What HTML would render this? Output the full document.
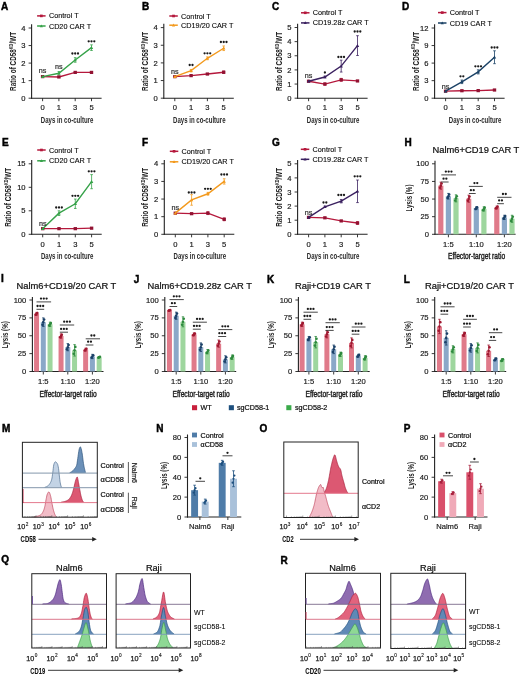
<!DOCTYPE html>
<html><head><meta charset="utf-8"><title>Figure</title>
<style>
html,body{margin:0;padding:0;background:#fff;}
body{width:520px;height:676px;overflow:hidden;font-family:"Liberation Sans", sans-serif;}
svg{display:block;will-change:transform;}
</style></head><body>
<svg width="520" height="676" viewBox="0 0 520 676" font-family='"Liberation Sans", sans-serif'>
<text x="1" y="10.2" font-size="10" stroke="#000" stroke-width="0.45" font-weight="bold" fill="#000">A</text>
<line x1="31.6" y1="24.2" x2="31.6" y2="98.7" stroke="#222" stroke-width="1.1"/>
<line x1="31.1" y1="98.2" x2="101.6" y2="98.2" stroke="#222" stroke-width="1.1"/>
<line x1="28.6" y1="98.2" x2="31.6" y2="98.2" stroke="#222" stroke-width="0.9"/>
<text x="25.5" y="100.8" font-size="7.6" stroke="#1a1a1a" stroke-width="0.18" text-anchor="end" fill="#1a1a1a">0</text>
<line x1="28.6" y1="80.65" x2="31.6" y2="80.65" stroke="#222" stroke-width="0.9"/>
<text x="25.5" y="83.25" font-size="7.6" stroke="#1a1a1a" stroke-width="0.18" text-anchor="end" fill="#1a1a1a">1</text>
<line x1="28.6" y1="63.1" x2="31.6" y2="63.1" stroke="#222" stroke-width="0.9"/>
<text x="25.5" y="65.7" font-size="7.6" stroke="#1a1a1a" stroke-width="0.18" text-anchor="end" fill="#1a1a1a">2</text>
<line x1="28.6" y1="45.55" x2="31.6" y2="45.55" stroke="#222" stroke-width="0.9"/>
<text x="25.5" y="48.15" font-size="7.6" stroke="#1a1a1a" stroke-width="0.18" text-anchor="end" fill="#1a1a1a">3</text>
<line x1="28.6" y1="28" x2="31.6" y2="28" stroke="#222" stroke-width="0.9"/>
<text x="25.5" y="30.6" font-size="7.6" stroke="#1a1a1a" stroke-width="0.18" text-anchor="end" fill="#1a1a1a">4</text>
<line x1="42.6" y1="98.2" x2="42.6" y2="101.2" stroke="#222" stroke-width="0.9"/>
<text x="42.6" y="110.4" font-size="7.6" stroke="#1a1a1a" stroke-width="0.18" text-anchor="middle" fill="#1a1a1a">0</text>
<line x1="58.9" y1="98.2" x2="58.9" y2="101.2" stroke="#222" stroke-width="0.9"/>
<text x="58.9" y="110.4" font-size="7.6" stroke="#1a1a1a" stroke-width="0.18" text-anchor="middle" fill="#1a1a1a">1</text>
<line x1="75.2" y1="98.2" x2="75.2" y2="101.2" stroke="#222" stroke-width="0.9"/>
<text x="75.2" y="110.4" font-size="7.6" stroke="#1a1a1a" stroke-width="0.18" text-anchor="middle" fill="#1a1a1a">3</text>
<line x1="91.5" y1="98.2" x2="91.5" y2="101.2" stroke="#222" stroke-width="0.9"/>
<text x="91.5" y="110.4" font-size="7.6" stroke="#1a1a1a" stroke-width="0.18" text-anchor="middle" fill="#1a1a1a">5</text>
<text x="67.1" y="122.5" font-size="9.4" text-anchor="middle" font-weight="bold" fill="#2a2a2a" textLength="52.5" lengthAdjust="spacingAndGlyphs">Days in co-culture</text>
<text x="0" y="0" font-size="9" font-weight="bold" fill="#222" textLength="59" lengthAdjust="spacingAndGlyphs" transform="translate(15.7 61.4) rotate(-90)" text-anchor="middle">Ratio of CD58<tspan font-size="5.5" dy="-3.2">KD</tspan><tspan dy="3.2">/WT</tspan></text>
<line x1="58.9" y1="75.03" x2="58.9" y2="71.52" stroke="#36a249" stroke-width="0.8"/>
<line x1="57.6" y1="71.52" x2="60.2" y2="71.52" stroke="#36a249" stroke-width="0.8"/>
<line x1="57.6" y1="75.03" x2="60.2" y2="75.03" stroke="#36a249" stroke-width="0.8"/>
<line x1="75.2" y1="62.22" x2="75.2" y2="57.66" stroke="#36a249" stroke-width="0.8"/>
<line x1="73.9" y1="57.66" x2="76.5" y2="57.66" stroke="#36a249" stroke-width="0.8"/>
<line x1="73.9" y1="62.22" x2="76.5" y2="62.22" stroke="#36a249" stroke-width="0.8"/>
<line x1="91.5" y1="50.46" x2="91.5" y2="44.85" stroke="#36a249" stroke-width="0.8"/>
<line x1="90.2" y1="44.85" x2="92.8" y2="44.85" stroke="#36a249" stroke-width="0.8"/>
<line x1="90.2" y1="50.46" x2="92.8" y2="50.46" stroke="#36a249" stroke-width="0.8"/>
<polyline points="42.6,76.61 58.9,76.96 75.2,72.4 91.5,72.4" stroke="#b5183c" fill="none" stroke-width="1.35"/>
<rect x="40.9" y="75.01" width="3.4" height="3.2" fill="#921232"/>
<rect x="57.2" y="75.36" width="3.4" height="3.2" fill="#921232"/>
<rect x="73.5" y="70.8" width="3.4" height="3.2" fill="#921232"/>
<rect x="89.8" y="70.8" width="3.4" height="3.2" fill="#921232"/>
<polyline points="42.6,76.61 58.9,73.28 75.2,59.94 91.5,47.66" stroke="#36a249" fill="none" stroke-width="1.4"/>
<path d="M40.9 77.91L44.3 77.91L42.6 74.91Z" stroke="none" fill="#36a249" stroke-width="1"/>
<path d="M57.2 74.58L60.6 74.58L58.9 71.58Z" stroke="none" fill="#36a249" stroke-width="1"/>
<path d="M73.5 61.24L76.9 61.24L75.2 58.24Z" stroke="none" fill="#36a249" stroke-width="1"/>
<path d="M89.8 48.96L93.2 48.96L91.5 45.96Z" stroke="none" fill="#36a249" stroke-width="1"/>
<text x="42.6" y="73.4" font-size="7.2" stroke="#333" stroke-width="0.22" text-anchor="middle" fill="#333">ns</text>
<text x="58.9" y="68.9" font-size="7.2" stroke="#333" stroke-width="0.22" text-anchor="middle" fill="#333">ns</text>
<circle cx="72.4" cy="53.5" r="1.15" fill="#1a1a1a"/>
<circle cx="75.2" cy="53.5" r="1.15" fill="#1a1a1a"/>
<circle cx="78" cy="53.5" r="1.15" fill="#1a1a1a"/>
<circle cx="88.7" cy="41.3" r="1.15" fill="#1a1a1a"/>
<circle cx="91.5" cy="41.3" r="1.15" fill="#1a1a1a"/>
<circle cx="94.3" cy="41.3" r="1.15" fill="#1a1a1a"/>
<line x1="37.1" y1="15.9" x2="45.6" y2="15.9" stroke="#b5183c" stroke-width="1.5"/>
<rect x="40" y="14.6" width="2.7" height="2.6" fill="#b5183c"/>
<text x="48.9" y="18.4" font-size="7.25" stroke="#222" stroke-width="0.12">Control T</text>
<line x1="37.1" y1="26" x2="45.6" y2="26" stroke="#36a249" stroke-width="1.5"/>
<path d="M39.8 27.2L42.9 27.2L41.35 24.4Z" stroke="none" fill="#36a249" stroke-width="1"/>
<text x="48.9" y="28.5" font-size="7.25" stroke="#222" stroke-width="0.12">CD20 CAR T</text>
<text x="142" y="10.2" font-size="10" stroke="#000" stroke-width="0.45" font-weight="bold" fill="#000">B</text>
<line x1="163.8" y1="23.8" x2="163.8" y2="98.7" stroke="#222" stroke-width="1.1"/>
<line x1="163.3" y1="98.2" x2="233.8" y2="98.2" stroke="#222" stroke-width="1.1"/>
<line x1="160.8" y1="98.2" x2="163.8" y2="98.2" stroke="#222" stroke-width="0.9"/>
<text x="157.7" y="100.8" font-size="7.6" stroke="#1a1a1a" stroke-width="0.18" text-anchor="end" fill="#1a1a1a">0</text>
<line x1="160.8" y1="80.55" x2="163.8" y2="80.55" stroke="#222" stroke-width="0.9"/>
<text x="157.7" y="83.15" font-size="7.6" stroke="#1a1a1a" stroke-width="0.18" text-anchor="end" fill="#1a1a1a">1</text>
<line x1="160.8" y1="62.9" x2="163.8" y2="62.9" stroke="#222" stroke-width="0.9"/>
<text x="157.7" y="65.5" font-size="7.6" stroke="#1a1a1a" stroke-width="0.18" text-anchor="end" fill="#1a1a1a">2</text>
<line x1="160.8" y1="45.25" x2="163.8" y2="45.25" stroke="#222" stroke-width="0.9"/>
<text x="157.7" y="47.85" font-size="7.6" stroke="#1a1a1a" stroke-width="0.18" text-anchor="end" fill="#1a1a1a">3</text>
<line x1="160.8" y1="27.6" x2="163.8" y2="27.6" stroke="#222" stroke-width="0.9"/>
<text x="157.7" y="30.2" font-size="7.6" stroke="#1a1a1a" stroke-width="0.18" text-anchor="end" fill="#1a1a1a">4</text>
<line x1="174.8" y1="98.2" x2="174.8" y2="101.2" stroke="#222" stroke-width="0.9"/>
<text x="174.8" y="110.4" font-size="7.6" stroke="#1a1a1a" stroke-width="0.18" text-anchor="middle" fill="#1a1a1a">0</text>
<line x1="191.1" y1="98.2" x2="191.1" y2="101.2" stroke="#222" stroke-width="0.9"/>
<text x="191.1" y="110.4" font-size="7.6" stroke="#1a1a1a" stroke-width="0.18" text-anchor="middle" fill="#1a1a1a">1</text>
<line x1="207.4" y1="98.2" x2="207.4" y2="101.2" stroke="#222" stroke-width="0.9"/>
<text x="207.4" y="110.4" font-size="7.6" stroke="#1a1a1a" stroke-width="0.18" text-anchor="middle" fill="#1a1a1a">3</text>
<line x1="223.7" y1="98.2" x2="223.7" y2="101.2" stroke="#222" stroke-width="0.9"/>
<text x="223.7" y="110.4" font-size="7.6" stroke="#1a1a1a" stroke-width="0.18" text-anchor="middle" fill="#1a1a1a">5</text>
<text x="199.3" y="122.5" font-size="9.4" text-anchor="middle" font-weight="bold" fill="#2a2a2a" textLength="52.5" lengthAdjust="spacingAndGlyphs">Days in co-culture</text>
<text x="0" y="0" font-size="9" font-weight="bold" fill="#222" textLength="59" lengthAdjust="spacingAndGlyphs" transform="translate(148 61.4) rotate(-90)" text-anchor="middle">Ratio of CD58<tspan font-size="5.5" dy="-3.2">KD</tspan><tspan dy="3.2">/WT</tspan></text>
<line x1="191.1" y1="71.9" x2="191.1" y2="69.43" stroke="#f39a1e" stroke-width="0.8"/>
<line x1="189.8" y1="69.43" x2="192.4" y2="69.43" stroke="#f39a1e" stroke-width="0.8"/>
<line x1="189.8" y1="71.9" x2="192.4" y2="71.9" stroke="#f39a1e" stroke-width="0.8"/>
<line x1="207.4" y1="59.72" x2="207.4" y2="56.9" stroke="#f39a1e" stroke-width="0.8"/>
<line x1="206.1" y1="56.9" x2="208.7" y2="56.9" stroke="#f39a1e" stroke-width="0.8"/>
<line x1="206.1" y1="59.72" x2="208.7" y2="59.72" stroke="#f39a1e" stroke-width="0.8"/>
<line x1="223.7" y1="50.55" x2="223.7" y2="45.96" stroke="#f39a1e" stroke-width="0.8"/>
<line x1="222.4" y1="45.96" x2="225" y2="45.96" stroke="#f39a1e" stroke-width="0.8"/>
<line x1="222.4" y1="50.55" x2="225" y2="50.55" stroke="#f39a1e" stroke-width="0.8"/>
<line x1="223.7" y1="73.49" x2="223.7" y2="71.02" stroke="#b5183c" stroke-width="0.8"/>
<line x1="222.4" y1="71.02" x2="225" y2="71.02" stroke="#b5183c" stroke-width="0.8"/>
<line x1="222.4" y1="73.49" x2="225" y2="73.49" stroke="#b5183c" stroke-width="0.8"/>
<polyline points="174.8,76.67 191.1,75.61 207.4,74.02 223.7,72.25" stroke="#b5183c" fill="none" stroke-width="1.35"/>
<rect x="173.1" y="75.07" width="3.4" height="3.2" fill="#921232"/>
<rect x="189.4" y="74.01" width="3.4" height="3.2" fill="#921232"/>
<rect x="205.7" y="72.42" width="3.4" height="3.2" fill="#921232"/>
<rect x="222" y="70.65" width="3.4" height="3.2" fill="#921232"/>
<polyline points="174.8,76.67 191.1,70.67 207.4,58.31 223.7,48.25" stroke="#f39a1e" fill="none" stroke-width="1.4"/>
<path d="M173.1 77.97L176.5 77.97L174.8 74.97Z" stroke="none" fill="#f39a1e" stroke-width="1"/>
<path d="M189.4 71.97L192.8 71.97L191.1 68.97Z" stroke="none" fill="#f39a1e" stroke-width="1"/>
<path d="M205.7 59.61L209.1 59.61L207.4 56.61Z" stroke="none" fill="#f39a1e" stroke-width="1"/>
<path d="M222 49.55L225.4 49.55L223.7 46.55Z" stroke="none" fill="#f39a1e" stroke-width="1"/>
<text x="174.8" y="73.9" font-size="7.2" stroke="#333" stroke-width="0.22" text-anchor="middle" fill="#333">ns</text>
<circle cx="189.7" cy="65" r="1.15" fill="#1a1a1a"/>
<circle cx="192.5" cy="65" r="1.15" fill="#1a1a1a"/>
<circle cx="204.6" cy="53.3" r="1.15" fill="#1a1a1a"/>
<circle cx="207.4" cy="53.3" r="1.15" fill="#1a1a1a"/>
<circle cx="210.2" cy="53.3" r="1.15" fill="#1a1a1a"/>
<circle cx="220.9" cy="42" r="1.15" fill="#1a1a1a"/>
<circle cx="223.7" cy="42" r="1.15" fill="#1a1a1a"/>
<circle cx="226.5" cy="42" r="1.15" fill="#1a1a1a"/>
<line x1="169.3" y1="16" x2="177.8" y2="16" stroke="#b5183c" stroke-width="1.5"/>
<rect x="172.2" y="14.7" width="2.7" height="2.6" fill="#b5183c"/>
<text x="181.1" y="18.5" font-size="7.25" stroke="#222" stroke-width="0.12">Control T</text>
<line x1="169.3" y1="25.2" x2="177.8" y2="25.2" stroke="#f39a1e" stroke-width="1.5"/>
<path d="M172 26.4L175.1 26.4L173.55 23.6Z" stroke="none" fill="#f39a1e" stroke-width="1"/>
<text x="181.1" y="27.7" font-size="7.25" stroke="#222" stroke-width="0.12">CD19/20 CAR T</text>
<text x="272" y="10.2" font-size="10" stroke="#000" stroke-width="0.45" font-weight="bold" fill="#000">C</text>
<line x1="297.6" y1="23.7" x2="297.6" y2="98.7" stroke="#222" stroke-width="1.1"/>
<line x1="297.1" y1="98.2" x2="367.6" y2="98.2" stroke="#222" stroke-width="1.1"/>
<line x1="294.6" y1="98.2" x2="297.6" y2="98.2" stroke="#222" stroke-width="0.9"/>
<text x="291.5" y="100.8" font-size="7.6" stroke="#1a1a1a" stroke-width="0.18" text-anchor="end" fill="#1a1a1a">0</text>
<line x1="294.6" y1="84.06" x2="297.6" y2="84.06" stroke="#222" stroke-width="0.9"/>
<text x="291.5" y="86.66" font-size="7.6" stroke="#1a1a1a" stroke-width="0.18" text-anchor="end" fill="#1a1a1a">1</text>
<line x1="294.6" y1="69.92" x2="297.6" y2="69.92" stroke="#222" stroke-width="0.9"/>
<text x="291.5" y="72.52" font-size="7.6" stroke="#1a1a1a" stroke-width="0.18" text-anchor="end" fill="#1a1a1a">2</text>
<line x1="294.6" y1="55.78" x2="297.6" y2="55.78" stroke="#222" stroke-width="0.9"/>
<text x="291.5" y="58.38" font-size="7.6" stroke="#1a1a1a" stroke-width="0.18" text-anchor="end" fill="#1a1a1a">3</text>
<line x1="294.6" y1="41.64" x2="297.6" y2="41.64" stroke="#222" stroke-width="0.9"/>
<text x="291.5" y="44.24" font-size="7.6" stroke="#1a1a1a" stroke-width="0.18" text-anchor="end" fill="#1a1a1a">4</text>
<line x1="294.6" y1="27.5" x2="297.6" y2="27.5" stroke="#222" stroke-width="0.9"/>
<text x="291.5" y="30.1" font-size="7.6" stroke="#1a1a1a" stroke-width="0.18" text-anchor="end" fill="#1a1a1a">5</text>
<line x1="308.6" y1="98.2" x2="308.6" y2="101.2" stroke="#222" stroke-width="0.9"/>
<text x="308.6" y="110.4" font-size="7.6" stroke="#1a1a1a" stroke-width="0.18" text-anchor="middle" fill="#1a1a1a">0</text>
<line x1="324.9" y1="98.2" x2="324.9" y2="101.2" stroke="#222" stroke-width="0.9"/>
<text x="324.9" y="110.4" font-size="7.6" stroke="#1a1a1a" stroke-width="0.18" text-anchor="middle" fill="#1a1a1a">1</text>
<line x1="341.2" y1="98.2" x2="341.2" y2="101.2" stroke="#222" stroke-width="0.9"/>
<text x="341.2" y="110.4" font-size="7.6" stroke="#1a1a1a" stroke-width="0.18" text-anchor="middle" fill="#1a1a1a">3</text>
<line x1="357.5" y1="98.2" x2="357.5" y2="101.2" stroke="#222" stroke-width="0.9"/>
<text x="357.5" y="110.4" font-size="7.6" stroke="#1a1a1a" stroke-width="0.18" text-anchor="middle" fill="#1a1a1a">5</text>
<text x="333.1" y="122.5" font-size="9.4" text-anchor="middle" font-weight="bold" fill="#2a2a2a" textLength="52.5" lengthAdjust="spacingAndGlyphs">Days in co-culture</text>
<text x="0" y="0" font-size="9" font-weight="bold" fill="#222" textLength="59" lengthAdjust="spacingAndGlyphs" transform="translate(282 61.4) rotate(-90)" text-anchor="middle">Ratio of CD58<tspan font-size="5.5" dy="-3.2">KD</tspan><tspan dy="3.2">/WT</tspan></text>
<line x1="324.9" y1="77.84" x2="324.9" y2="76.14" stroke="#3b2160" stroke-width="0.8"/>
<line x1="323.6" y1="76.14" x2="326.2" y2="76.14" stroke="#3b2160" stroke-width="0.8"/>
<line x1="323.6" y1="77.84" x2="326.2" y2="77.84" stroke="#3b2160" stroke-width="0.8"/>
<line x1="324.9" y1="85.19" x2="324.9" y2="82.93" stroke="#b5183c" stroke-width="0.8"/>
<line x1="323.6" y1="82.93" x2="326.2" y2="82.93" stroke="#b5183c" stroke-width="0.8"/>
<line x1="323.6" y1="85.19" x2="326.2" y2="85.19" stroke="#b5183c" stroke-width="0.8"/>
<line x1="341.2" y1="72.04" x2="341.2" y2="60.16" stroke="#3b2160" stroke-width="0.8"/>
<line x1="339.9" y1="60.16" x2="342.5" y2="60.16" stroke="#3b2160" stroke-width="0.8"/>
<line x1="339.9" y1="72.04" x2="342.5" y2="72.04" stroke="#3b2160" stroke-width="0.8"/>
<line x1="341.2" y1="81.23" x2="341.2" y2="78.4" stroke="#b5183c" stroke-width="0.8"/>
<line x1="339.9" y1="78.4" x2="342.5" y2="78.4" stroke="#b5183c" stroke-width="0.8"/>
<line x1="339.9" y1="81.23" x2="342.5" y2="81.23" stroke="#b5183c" stroke-width="0.8"/>
<line x1="357.5" y1="55.5" x2="357.5" y2="35.7" stroke="#3b2160" stroke-width="0.8"/>
<line x1="356.2" y1="35.7" x2="358.8" y2="35.7" stroke="#3b2160" stroke-width="0.8"/>
<line x1="356.2" y1="55.5" x2="358.8" y2="55.5" stroke="#3b2160" stroke-width="0.8"/>
<polyline points="308.6,81.23 324.9,84.06 341.2,79.82 357.5,80.95" stroke="#b5183c" fill="none" stroke-width="1.35"/>
<rect x="306.9" y="79.63" width="3.4" height="3.2" fill="#921232"/>
<rect x="323.2" y="82.46" width="3.4" height="3.2" fill="#921232"/>
<rect x="339.5" y="78.22" width="3.4" height="3.2" fill="#921232"/>
<rect x="355.8" y="79.35" width="3.4" height="3.2" fill="#921232"/>
<polyline points="308.6,81.23 324.9,76.99 341.2,66.1 357.5,45.6" stroke="#3b2160" fill="none" stroke-width="1.4"/>
<path d="M306.9 82.53L310.3 82.53L308.6 79.53Z" stroke="none" fill="#3b2160" stroke-width="1"/>
<path d="M323.2 78.29L326.6 78.29L324.9 75.29Z" stroke="none" fill="#3b2160" stroke-width="1"/>
<path d="M339.5 67.4L342.9 67.4L341.2 64.4Z" stroke="none" fill="#3b2160" stroke-width="1"/>
<path d="M355.8 46.9L359.2 46.9L357.5 43.9Z" stroke="none" fill="#3b2160" stroke-width="1"/>
<text x="308.6" y="77.9" font-size="7.2" stroke="#333" stroke-width="0.22" text-anchor="middle" fill="#333">ns</text>
<circle cx="324.9" cy="72.5" r="1.15" fill="#1a1a1a"/>
<circle cx="338.4" cy="57" r="1.15" fill="#1a1a1a"/>
<circle cx="341.2" cy="57" r="1.15" fill="#1a1a1a"/>
<circle cx="344" cy="57" r="1.15" fill="#1a1a1a"/>
<circle cx="354.7" cy="31.5" r="1.15" fill="#1a1a1a"/>
<circle cx="357.5" cy="31.5" r="1.15" fill="#1a1a1a"/>
<circle cx="360.3" cy="31.5" r="1.15" fill="#1a1a1a"/>
<line x1="301" y1="12.8" x2="309.5" y2="12.8" stroke="#b5183c" stroke-width="1.5"/>
<rect x="303.9" y="11.5" width="2.7" height="2.6" fill="#b5183c"/>
<text x="312.8" y="15.3" font-size="7.25" stroke="#222" stroke-width="0.12">Control T</text>
<line x1="301" y1="22.9" x2="309.5" y2="22.9" stroke="#3b2160" stroke-width="1.5"/>
<path d="M303.7 24.1L306.8 24.1L305.25 21.3Z" stroke="none" fill="#3b2160" stroke-width="1"/>
<text x="312.8" y="25.4" font-size="7.25" stroke="#222" stroke-width="0.12">CD19.28z CAR T</text>
<text x="402" y="10.2" font-size="10" stroke="#000" stroke-width="0.45" font-weight="bold" fill="#000">D</text>
<line x1="434.6" y1="24.2" x2="434.6" y2="98.7" stroke="#222" stroke-width="1.1"/>
<line x1="434.1" y1="98.2" x2="504.6" y2="98.2" stroke="#222" stroke-width="1.1"/>
<line x1="431.6" y1="98.2" x2="434.6" y2="98.2" stroke="#222" stroke-width="0.9"/>
<text x="428.5" y="100.8" font-size="7.6" stroke="#1a1a1a" stroke-width="0.18" text-anchor="end" fill="#1a1a1a">0</text>
<line x1="431.6" y1="80.65" x2="434.6" y2="80.65" stroke="#222" stroke-width="0.9"/>
<text x="428.5" y="83.25" font-size="7.6" stroke="#1a1a1a" stroke-width="0.18" text-anchor="end" fill="#1a1a1a">3</text>
<line x1="431.6" y1="63.1" x2="434.6" y2="63.1" stroke="#222" stroke-width="0.9"/>
<text x="428.5" y="65.7" font-size="7.6" stroke="#1a1a1a" stroke-width="0.18" text-anchor="end" fill="#1a1a1a">6</text>
<line x1="431.6" y1="45.55" x2="434.6" y2="45.55" stroke="#222" stroke-width="0.9"/>
<text x="428.5" y="48.15" font-size="7.6" stroke="#1a1a1a" stroke-width="0.18" text-anchor="end" fill="#1a1a1a">9</text>
<line x1="431.6" y1="28" x2="434.6" y2="28" stroke="#222" stroke-width="0.9"/>
<text x="428.5" y="30.6" font-size="7.6" stroke="#1a1a1a" stroke-width="0.18" text-anchor="end" fill="#1a1a1a">12</text>
<line x1="445.6" y1="98.2" x2="445.6" y2="101.2" stroke="#222" stroke-width="0.9"/>
<text x="445.6" y="110.4" font-size="7.6" stroke="#1a1a1a" stroke-width="0.18" text-anchor="middle" fill="#1a1a1a">0</text>
<line x1="461.9" y1="98.2" x2="461.9" y2="101.2" stroke="#222" stroke-width="0.9"/>
<text x="461.9" y="110.4" font-size="7.6" stroke="#1a1a1a" stroke-width="0.18" text-anchor="middle" fill="#1a1a1a">1</text>
<line x1="478.2" y1="98.2" x2="478.2" y2="101.2" stroke="#222" stroke-width="0.9"/>
<text x="478.2" y="110.4" font-size="7.6" stroke="#1a1a1a" stroke-width="0.18" text-anchor="middle" fill="#1a1a1a">3</text>
<line x1="494.5" y1="98.2" x2="494.5" y2="101.2" stroke="#222" stroke-width="0.9"/>
<text x="494.5" y="110.4" font-size="7.6" stroke="#1a1a1a" stroke-width="0.18" text-anchor="middle" fill="#1a1a1a">5</text>
<text x="475.1" y="122.5" font-size="9.4" text-anchor="middle" font-weight="bold" fill="#2a2a2a" textLength="52.5" lengthAdjust="spacingAndGlyphs">Days in co-culture</text>
<text x="0" y="0" font-size="9" font-weight="bold" fill="#222" textLength="59" lengthAdjust="spacingAndGlyphs" transform="translate(418.5 61.4) rotate(-90)" text-anchor="middle">Ratio of CD58<tspan font-size="5.5" dy="-3.2">KD</tspan><tspan dy="3.2">/WT</tspan></text>
<line x1="461.9" y1="83.58" x2="461.9" y2="80.06" stroke="#1b4266" stroke-width="0.8"/>
<line x1="460.6" y1="80.06" x2="463.2" y2="80.06" stroke="#1b4266" stroke-width="0.8"/>
<line x1="460.6" y1="83.58" x2="463.2" y2="83.58" stroke="#1b4266" stroke-width="0.8"/>
<line x1="478.2" y1="73.92" x2="478.2" y2="69.83" stroke="#1b4266" stroke-width="0.8"/>
<line x1="476.9" y1="69.83" x2="479.5" y2="69.83" stroke="#1b4266" stroke-width="0.8"/>
<line x1="476.9" y1="73.92" x2="479.5" y2="73.92" stroke="#1b4266" stroke-width="0.8"/>
<line x1="494.5" y1="63.68" x2="494.5" y2="50.81" stroke="#1b4266" stroke-width="0.8"/>
<line x1="493.2" y1="50.81" x2="495.8" y2="50.81" stroke="#1b4266" stroke-width="0.8"/>
<line x1="493.2" y1="63.68" x2="495.8" y2="63.68" stroke="#1b4266" stroke-width="0.8"/>
<polyline points="445.6,91.18 461.9,90.71 478.2,90.59 494.5,90.01" stroke="#b5183c" fill="none" stroke-width="1.35"/>
<rect x="443.9" y="89.58" width="3.4" height="3.2" fill="#921232"/>
<rect x="460.2" y="89.11" width="3.4" height="3.2" fill="#921232"/>
<rect x="476.5" y="89" width="3.4" height="3.2" fill="#921232"/>
<rect x="492.8" y="88.41" width="3.4" height="3.2" fill="#921232"/>
<polyline points="445.6,91.18 461.9,81.82 478.2,71.88 494.5,57.25" stroke="#1b4266" fill="none" stroke-width="1.4"/>
<path d="M443.9 92.48L447.3 92.48L445.6 89.48Z" stroke="none" fill="#1b4266" stroke-width="1"/>
<path d="M460.2 83.12L463.6 83.12L461.9 80.12Z" stroke="none" fill="#1b4266" stroke-width="1"/>
<path d="M476.5 73.17L479.9 73.17L478.2 70.17Z" stroke="none" fill="#1b4266" stroke-width="1"/>
<path d="M492.8 58.55L496.2 58.55L494.5 55.55Z" stroke="none" fill="#1b4266" stroke-width="1"/>
<text x="445.6" y="88.9" font-size="7.2" stroke="#333" stroke-width="0.22" text-anchor="middle" fill="#333">ns</text>
<circle cx="460.5" cy="76.3" r="1.15" fill="#1a1a1a"/>
<circle cx="463.3" cy="76.3" r="1.15" fill="#1a1a1a"/>
<circle cx="475.4" cy="66.3" r="1.15" fill="#1a1a1a"/>
<circle cx="478.2" cy="66.3" r="1.15" fill="#1a1a1a"/>
<circle cx="481" cy="66.3" r="1.15" fill="#1a1a1a"/>
<circle cx="491.7" cy="47.5" r="1.15" fill="#1a1a1a"/>
<circle cx="494.5" cy="47.5" r="1.15" fill="#1a1a1a"/>
<circle cx="497.3" cy="47.5" r="1.15" fill="#1a1a1a"/>
<line x1="438" y1="12.6" x2="446.5" y2="12.6" stroke="#b5183c" stroke-width="1.5"/>
<rect x="440.9" y="11.3" width="2.7" height="2.6" fill="#b5183c"/>
<text x="449.8" y="15.1" font-size="7.25" stroke="#222" stroke-width="0.12">Control T</text>
<line x1="438" y1="23" x2="446.5" y2="23" stroke="#1b4266" stroke-width="1.5"/>
<path d="M440.7 24.2L443.8 24.2L442.25 21.4Z" stroke="none" fill="#1b4266" stroke-width="1"/>
<text x="449.8" y="25.5" font-size="7.25" stroke="#222" stroke-width="0.12">CD19 CAR T</text>
<text x="2" y="145.7" font-size="10" stroke="#000" stroke-width="0.45" font-weight="bold" fill="#000">E</text>
<line x1="31.7" y1="160" x2="31.7" y2="234.8" stroke="#222" stroke-width="1.1"/>
<line x1="31.2" y1="234.3" x2="101.7" y2="234.3" stroke="#222" stroke-width="1.1"/>
<line x1="28.7" y1="234.3" x2="31.7" y2="234.3" stroke="#222" stroke-width="0.9"/>
<text x="25.6" y="236.9" font-size="7.6" stroke="#1a1a1a" stroke-width="0.18" text-anchor="end" fill="#1a1a1a">0</text>
<line x1="28.7" y1="210.8" x2="31.7" y2="210.8" stroke="#222" stroke-width="0.9"/>
<text x="25.6" y="213.4" font-size="7.6" stroke="#1a1a1a" stroke-width="0.18" text-anchor="end" fill="#1a1a1a">5</text>
<line x1="28.7" y1="187.3" x2="31.7" y2="187.3" stroke="#222" stroke-width="0.9"/>
<text x="25.6" y="189.9" font-size="7.6" stroke="#1a1a1a" stroke-width="0.18" text-anchor="end" fill="#1a1a1a">10</text>
<line x1="28.7" y1="163.8" x2="31.7" y2="163.8" stroke="#222" stroke-width="0.9"/>
<text x="25.6" y="166.4" font-size="7.6" stroke="#1a1a1a" stroke-width="0.18" text-anchor="end" fill="#1a1a1a">15</text>
<line x1="42.7" y1="234.3" x2="42.7" y2="237.3" stroke="#222" stroke-width="0.9"/>
<text x="42.7" y="246.5" font-size="7.6" stroke="#1a1a1a" stroke-width="0.18" text-anchor="middle" fill="#1a1a1a">0</text>
<line x1="59" y1="234.3" x2="59" y2="237.3" stroke="#222" stroke-width="0.9"/>
<text x="59" y="246.5" font-size="7.6" stroke="#1a1a1a" stroke-width="0.18" text-anchor="middle" fill="#1a1a1a">1</text>
<line x1="75.3" y1="234.3" x2="75.3" y2="237.3" stroke="#222" stroke-width="0.9"/>
<text x="75.3" y="246.5" font-size="7.6" stroke="#1a1a1a" stroke-width="0.18" text-anchor="middle" fill="#1a1a1a">3</text>
<line x1="91.6" y1="234.3" x2="91.6" y2="237.3" stroke="#222" stroke-width="0.9"/>
<text x="91.6" y="246.5" font-size="7.6" stroke="#1a1a1a" stroke-width="0.18" text-anchor="middle" fill="#1a1a1a">5</text>
<text x="67.2" y="258.6" font-size="9.4" text-anchor="middle" font-weight="bold" fill="#2a2a2a" textLength="52.5" lengthAdjust="spacingAndGlyphs">Days in co-culture</text>
<text x="0" y="0" font-size="9" font-weight="bold" fill="#222" textLength="59" lengthAdjust="spacingAndGlyphs" transform="translate(11.3 197.3) rotate(-90)" text-anchor="middle">Ratio of CD58<tspan font-size="5.5" dy="-3.2">KD</tspan><tspan dy="3.2">/WT</tspan></text>
<line x1="59" y1="215.5" x2="59" y2="210.8" stroke="#36a249" stroke-width="0.8"/>
<line x1="57.7" y1="210.8" x2="60.3" y2="210.8" stroke="#36a249" stroke-width="0.8"/>
<line x1="57.7" y1="215.5" x2="60.3" y2="215.5" stroke="#36a249" stroke-width="0.8"/>
<line x1="75.3" y1="208.45" x2="75.3" y2="199.05" stroke="#36a249" stroke-width="0.8"/>
<line x1="74" y1="199.05" x2="76.6" y2="199.05" stroke="#36a249" stroke-width="0.8"/>
<line x1="74" y1="208.45" x2="76.6" y2="208.45" stroke="#36a249" stroke-width="0.8"/>
<line x1="91.6" y1="188.71" x2="91.6" y2="174.61" stroke="#36a249" stroke-width="0.8"/>
<line x1="90.3" y1="174.61" x2="92.9" y2="174.61" stroke="#36a249" stroke-width="0.8"/>
<line x1="90.3" y1="188.71" x2="92.9" y2="188.71" stroke="#36a249" stroke-width="0.8"/>
<polyline points="42.7,228.66 59,228.66 75.3,228.66 91.6,228.19" stroke="#b5183c" fill="none" stroke-width="1.35"/>
<rect x="41" y="227.06" width="3.4" height="3.2" fill="#921232"/>
<rect x="57.3" y="227.06" width="3.4" height="3.2" fill="#921232"/>
<rect x="73.6" y="227.06" width="3.4" height="3.2" fill="#921232"/>
<rect x="89.9" y="226.59" width="3.4" height="3.2" fill="#921232"/>
<polyline points="42.7,228.66 59,213.15 75.3,203.75 91.6,181.66" stroke="#36a249" fill="none" stroke-width="1.4"/>
<path d="M41 229.96L44.4 229.96L42.7 226.96Z" stroke="none" fill="#36a249" stroke-width="1"/>
<path d="M57.3 214.45L60.7 214.45L59 211.45Z" stroke="none" fill="#36a249" stroke-width="1"/>
<path d="M73.6 205.05L77 205.05L75.3 202.05Z" stroke="none" fill="#36a249" stroke-width="1"/>
<path d="M89.9 182.96L93.3 182.96L91.6 179.96Z" stroke="none" fill="#36a249" stroke-width="1"/>
<text x="42.7" y="226.4" font-size="7.2" stroke="#333" stroke-width="0.22" text-anchor="middle" fill="#333">ns</text>
<circle cx="56.2" cy="207.5" r="1.15" fill="#1a1a1a"/>
<circle cx="59" cy="207.5" r="1.15" fill="#1a1a1a"/>
<circle cx="61.8" cy="207.5" r="1.15" fill="#1a1a1a"/>
<circle cx="72.5" cy="195.8" r="1.15" fill="#1a1a1a"/>
<circle cx="75.3" cy="195.8" r="1.15" fill="#1a1a1a"/>
<circle cx="78.1" cy="195.8" r="1.15" fill="#1a1a1a"/>
<circle cx="88.8" cy="171.3" r="1.15" fill="#1a1a1a"/>
<circle cx="91.6" cy="171.3" r="1.15" fill="#1a1a1a"/>
<circle cx="94.4" cy="171.3" r="1.15" fill="#1a1a1a"/>
<line x1="37.2" y1="150" x2="45.7" y2="150" stroke="#b5183c" stroke-width="1.5"/>
<rect x="40.1" y="148.7" width="2.7" height="2.6" fill="#b5183c"/>
<text x="49" y="152.5" font-size="7.25" stroke="#222" stroke-width="0.12">Control T</text>
<line x1="37.2" y1="160.8" x2="45.7" y2="160.8" stroke="#36a249" stroke-width="1.5"/>
<path d="M39.9 162L43 162L41.45 159.2Z" stroke="none" fill="#36a249" stroke-width="1"/>
<text x="49" y="163.3" font-size="7.25" stroke="#222" stroke-width="0.12">CD20 CAR T</text>
<text x="142" y="145.7" font-size="10" stroke="#000" stroke-width="0.45" font-weight="bold" fill="#000">F</text>
<line x1="164.3" y1="160" x2="164.3" y2="234.8" stroke="#222" stroke-width="1.1"/>
<line x1="163.8" y1="234.3" x2="234.3" y2="234.3" stroke="#222" stroke-width="1.1"/>
<line x1="161.3" y1="234.3" x2="164.3" y2="234.3" stroke="#222" stroke-width="0.9"/>
<text x="158.2" y="236.9" font-size="7.6" stroke="#1a1a1a" stroke-width="0.18" text-anchor="end" fill="#1a1a1a">0</text>
<line x1="161.3" y1="216.68" x2="164.3" y2="216.68" stroke="#222" stroke-width="0.9"/>
<text x="158.2" y="219.28" font-size="7.6" stroke="#1a1a1a" stroke-width="0.18" text-anchor="end" fill="#1a1a1a">1</text>
<line x1="161.3" y1="199.05" x2="164.3" y2="199.05" stroke="#222" stroke-width="0.9"/>
<text x="158.2" y="201.65" font-size="7.6" stroke="#1a1a1a" stroke-width="0.18" text-anchor="end" fill="#1a1a1a">2</text>
<line x1="161.3" y1="181.43" x2="164.3" y2="181.43" stroke="#222" stroke-width="0.9"/>
<text x="158.2" y="184.03" font-size="7.6" stroke="#1a1a1a" stroke-width="0.18" text-anchor="end" fill="#1a1a1a">3</text>
<line x1="161.3" y1="163.8" x2="164.3" y2="163.8" stroke="#222" stroke-width="0.9"/>
<text x="158.2" y="166.4" font-size="7.6" stroke="#1a1a1a" stroke-width="0.18" text-anchor="end" fill="#1a1a1a">4</text>
<line x1="175.3" y1="234.3" x2="175.3" y2="237.3" stroke="#222" stroke-width="0.9"/>
<text x="175.3" y="246.5" font-size="7.6" stroke="#1a1a1a" stroke-width="0.18" text-anchor="middle" fill="#1a1a1a">0</text>
<line x1="191.6" y1="234.3" x2="191.6" y2="237.3" stroke="#222" stroke-width="0.9"/>
<text x="191.6" y="246.5" font-size="7.6" stroke="#1a1a1a" stroke-width="0.18" text-anchor="middle" fill="#1a1a1a">1</text>
<line x1="207.9" y1="234.3" x2="207.9" y2="237.3" stroke="#222" stroke-width="0.9"/>
<text x="207.9" y="246.5" font-size="7.6" stroke="#1a1a1a" stroke-width="0.18" text-anchor="middle" fill="#1a1a1a">3</text>
<line x1="224.2" y1="234.3" x2="224.2" y2="237.3" stroke="#222" stroke-width="0.9"/>
<text x="224.2" y="246.5" font-size="7.6" stroke="#1a1a1a" stroke-width="0.18" text-anchor="middle" fill="#1a1a1a">5</text>
<text x="199.8" y="258.6" font-size="9.4" text-anchor="middle" font-weight="bold" fill="#2a2a2a" textLength="52.5" lengthAdjust="spacingAndGlyphs">Days in co-culture</text>
<text x="0" y="0" font-size="9" font-weight="bold" fill="#222" textLength="59" lengthAdjust="spacingAndGlyphs" transform="translate(148 197.3) rotate(-90)" text-anchor="middle">Ratio of CD58<tspan font-size="5.5" dy="-3.2">KD</tspan><tspan dy="3.2">/WT</tspan></text>
<line x1="191.6" y1="205.22" x2="191.6" y2="194.64" stroke="#f39a1e" stroke-width="0.8"/>
<line x1="190.3" y1="194.64" x2="192.9" y2="194.64" stroke="#f39a1e" stroke-width="0.8"/>
<line x1="190.3" y1="205.22" x2="192.9" y2="205.22" stroke="#f39a1e" stroke-width="0.8"/>
<line x1="207.9" y1="195.17" x2="207.9" y2="192.35" stroke="#f39a1e" stroke-width="0.8"/>
<line x1="206.6" y1="192.35" x2="209.2" y2="192.35" stroke="#f39a1e" stroke-width="0.8"/>
<line x1="206.6" y1="195.17" x2="209.2" y2="195.17" stroke="#f39a1e" stroke-width="0.8"/>
<line x1="207.9" y1="214.56" x2="207.9" y2="211.74" stroke="#b5183c" stroke-width="0.8"/>
<line x1="206.6" y1="211.74" x2="209.2" y2="211.74" stroke="#b5183c" stroke-width="0.8"/>
<line x1="206.6" y1="214.56" x2="209.2" y2="214.56" stroke="#b5183c" stroke-width="0.8"/>
<line x1="224.2" y1="184.07" x2="224.2" y2="178.78" stroke="#f39a1e" stroke-width="0.8"/>
<line x1="222.9" y1="178.78" x2="225.5" y2="178.78" stroke="#f39a1e" stroke-width="0.8"/>
<line x1="222.9" y1="184.07" x2="225.5" y2="184.07" stroke="#f39a1e" stroke-width="0.8"/>
<line x1="224.2" y1="220.73" x2="224.2" y2="217.91" stroke="#b5183c" stroke-width="0.8"/>
<line x1="222.9" y1="217.91" x2="225.5" y2="217.91" stroke="#b5183c" stroke-width="0.8"/>
<line x1="222.9" y1="220.73" x2="225.5" y2="220.73" stroke="#b5183c" stroke-width="0.8"/>
<polyline points="175.3,213.15 191.6,213.68 207.9,213.15 224.2,219.32" stroke="#b5183c" fill="none" stroke-width="1.35"/>
<rect x="173.6" y="211.55" width="3.4" height="3.2" fill="#921232"/>
<rect x="189.9" y="212.08" width="3.4" height="3.2" fill="#921232"/>
<rect x="206.2" y="211.55" width="3.4" height="3.2" fill="#921232"/>
<rect x="222.5" y="217.72" width="3.4" height="3.2" fill="#921232"/>
<polyline points="175.3,213.15 191.6,199.93 207.9,193.76 224.2,181.43" stroke="#f39a1e" fill="none" stroke-width="1.4"/>
<path d="M173.6 214.45L177 214.45L175.3 211.45Z" stroke="none" fill="#f39a1e" stroke-width="1"/>
<path d="M189.9 201.23L193.3 201.23L191.6 198.23Z" stroke="none" fill="#f39a1e" stroke-width="1"/>
<path d="M206.2 195.06L209.6 195.06L207.9 192.06Z" stroke="none" fill="#f39a1e" stroke-width="1"/>
<path d="M222.5 182.73L225.9 182.73L224.2 179.73Z" stroke="none" fill="#f39a1e" stroke-width="1"/>
<text x="175.3" y="210.4" font-size="7.2" stroke="#333" stroke-width="0.22" text-anchor="middle" fill="#333">ns</text>
<circle cx="188.8" cy="192.5" r="1.15" fill="#1a1a1a"/>
<circle cx="191.6" cy="192.5" r="1.15" fill="#1a1a1a"/>
<circle cx="194.4" cy="192.5" r="1.15" fill="#1a1a1a"/>
<circle cx="205.1" cy="188.8" r="1.15" fill="#1a1a1a"/>
<circle cx="207.9" cy="188.8" r="1.15" fill="#1a1a1a"/>
<circle cx="210.7" cy="188.8" r="1.15" fill="#1a1a1a"/>
<circle cx="221.4" cy="174.5" r="1.15" fill="#1a1a1a"/>
<circle cx="224.2" cy="174.5" r="1.15" fill="#1a1a1a"/>
<circle cx="227" cy="174.5" r="1.15" fill="#1a1a1a"/>
<line x1="169.8" y1="151.3" x2="178.3" y2="151.3" stroke="#b5183c" stroke-width="1.5"/>
<rect x="172.7" y="150" width="2.7" height="2.6" fill="#b5183c"/>
<text x="181.6" y="153.8" font-size="7.25" stroke="#222" stroke-width="0.12">Control T</text>
<line x1="169.8" y1="161.8" x2="178.3" y2="161.8" stroke="#f39a1e" stroke-width="1.5"/>
<path d="M172.5 163L175.6 163L174.05 160.2Z" stroke="none" fill="#f39a1e" stroke-width="1"/>
<text x="181.6" y="164.3" font-size="7.25" stroke="#222" stroke-width="0.12">CD19/20 CAR T</text>
<text x="272" y="145.7" font-size="10" stroke="#000" stroke-width="0.45" font-weight="bold" fill="#000">G</text>
<line x1="297.6" y1="160" x2="297.6" y2="234.8" stroke="#222" stroke-width="1.1"/>
<line x1="297.1" y1="234.3" x2="367.6" y2="234.3" stroke="#222" stroke-width="1.1"/>
<line x1="294.6" y1="234.3" x2="297.6" y2="234.3" stroke="#222" stroke-width="0.9"/>
<text x="291.5" y="236.9" font-size="7.6" stroke="#1a1a1a" stroke-width="0.18" text-anchor="end" fill="#1a1a1a">0</text>
<line x1="294.6" y1="220.2" x2="297.6" y2="220.2" stroke="#222" stroke-width="0.9"/>
<text x="291.5" y="222.8" font-size="7.6" stroke="#1a1a1a" stroke-width="0.18" text-anchor="end" fill="#1a1a1a">1</text>
<line x1="294.6" y1="206.1" x2="297.6" y2="206.1" stroke="#222" stroke-width="0.9"/>
<text x="291.5" y="208.7" font-size="7.6" stroke="#1a1a1a" stroke-width="0.18" text-anchor="end" fill="#1a1a1a">2</text>
<line x1="294.6" y1="192" x2="297.6" y2="192" stroke="#222" stroke-width="0.9"/>
<text x="291.5" y="194.6" font-size="7.6" stroke="#1a1a1a" stroke-width="0.18" text-anchor="end" fill="#1a1a1a">3</text>
<line x1="294.6" y1="177.9" x2="297.6" y2="177.9" stroke="#222" stroke-width="0.9"/>
<text x="291.5" y="180.5" font-size="7.6" stroke="#1a1a1a" stroke-width="0.18" text-anchor="end" fill="#1a1a1a">4</text>
<line x1="294.6" y1="163.8" x2="297.6" y2="163.8" stroke="#222" stroke-width="0.9"/>
<text x="291.5" y="166.4" font-size="7.6" stroke="#1a1a1a" stroke-width="0.18" text-anchor="end" fill="#1a1a1a">5</text>
<line x1="308.6" y1="234.3" x2="308.6" y2="237.3" stroke="#222" stroke-width="0.9"/>
<text x="308.6" y="246.5" font-size="7.6" stroke="#1a1a1a" stroke-width="0.18" text-anchor="middle" fill="#1a1a1a">0</text>
<line x1="324.9" y1="234.3" x2="324.9" y2="237.3" stroke="#222" stroke-width="0.9"/>
<text x="324.9" y="246.5" font-size="7.6" stroke="#1a1a1a" stroke-width="0.18" text-anchor="middle" fill="#1a1a1a">1</text>
<line x1="341.2" y1="234.3" x2="341.2" y2="237.3" stroke="#222" stroke-width="0.9"/>
<text x="341.2" y="246.5" font-size="7.6" stroke="#1a1a1a" stroke-width="0.18" text-anchor="middle" fill="#1a1a1a">3</text>
<line x1="357.5" y1="234.3" x2="357.5" y2="237.3" stroke="#222" stroke-width="0.9"/>
<text x="357.5" y="246.5" font-size="7.6" stroke="#1a1a1a" stroke-width="0.18" text-anchor="middle" fill="#1a1a1a">5</text>
<text x="333.1" y="258.6" font-size="9.4" text-anchor="middle" font-weight="bold" fill="#2a2a2a" textLength="52.5" lengthAdjust="spacingAndGlyphs">Days in co-culture</text>
<text x="0" y="0" font-size="9" font-weight="bold" fill="#222" textLength="59" lengthAdjust="spacingAndGlyphs" transform="translate(282 197.3) rotate(-90)" text-anchor="middle">Ratio of CD58<tspan font-size="5.5" dy="-3.2">KD</tspan><tspan dy="3.2">/WT</tspan></text>
<line x1="324.9" y1="207.51" x2="324.9" y2="206.1" stroke="#3b2160" stroke-width="0.8"/>
<line x1="323.6" y1="206.1" x2="326.2" y2="206.1" stroke="#3b2160" stroke-width="0.8"/>
<line x1="323.6" y1="207.51" x2="326.2" y2="207.51" stroke="#3b2160" stroke-width="0.8"/>
<line x1="341.2" y1="202.86" x2="341.2" y2="199.47" stroke="#3b2160" stroke-width="0.8"/>
<line x1="339.9" y1="199.47" x2="342.5" y2="199.47" stroke="#3b2160" stroke-width="0.8"/>
<line x1="339.9" y1="202.86" x2="342.5" y2="202.86" stroke="#3b2160" stroke-width="0.8"/>
<line x1="357.5" y1="202.58" x2="357.5" y2="180.02" stroke="#3b2160" stroke-width="0.8"/>
<line x1="356.2" y1="180.02" x2="358.8" y2="180.02" stroke="#3b2160" stroke-width="0.8"/>
<line x1="356.2" y1="202.58" x2="358.8" y2="202.58" stroke="#3b2160" stroke-width="0.8"/>
<line x1="357.5" y1="224.43" x2="357.5" y2="221.61" stroke="#b5183c" stroke-width="0.8"/>
<line x1="356.2" y1="221.61" x2="358.8" y2="221.61" stroke="#b5183c" stroke-width="0.8"/>
<line x1="356.2" y1="224.43" x2="358.8" y2="224.43" stroke="#b5183c" stroke-width="0.8"/>
<polyline points="308.6,217.38 324.9,217.8 341.2,220.91 357.5,223.02" stroke="#b5183c" fill="none" stroke-width="1.35"/>
<rect x="306.9" y="215.78" width="3.4" height="3.2" fill="#921232"/>
<rect x="323.2" y="216.2" width="3.4" height="3.2" fill="#921232"/>
<rect x="339.5" y="219.31" width="3.4" height="3.2" fill="#921232"/>
<rect x="355.8" y="221.42" width="3.4" height="3.2" fill="#921232"/>
<polyline points="308.6,217.38 324.9,206.81 341.2,201.17 357.5,191.3" stroke="#3b2160" fill="none" stroke-width="1.4"/>
<path d="M306.9 218.68L310.3 218.68L308.6 215.68Z" stroke="none" fill="#3b2160" stroke-width="1"/>
<path d="M323.2 208.11L326.6 208.11L324.9 205.11Z" stroke="none" fill="#3b2160" stroke-width="1"/>
<path d="M339.5 202.47L342.9 202.47L341.2 199.47Z" stroke="none" fill="#3b2160" stroke-width="1"/>
<path d="M355.8 192.6L359.2 192.6L357.5 189.6Z" stroke="none" fill="#3b2160" stroke-width="1"/>
<text x="308.6" y="214.9" font-size="7.2" stroke="#333" stroke-width="0.22" text-anchor="middle" fill="#333">ns</text>
<circle cx="323.5" cy="202.5" r="1.15" fill="#1a1a1a"/>
<circle cx="326.3" cy="202.5" r="1.15" fill="#1a1a1a"/>
<circle cx="338.4" cy="195" r="1.15" fill="#1a1a1a"/>
<circle cx="341.2" cy="195" r="1.15" fill="#1a1a1a"/>
<circle cx="344" cy="195" r="1.15" fill="#1a1a1a"/>
<circle cx="354.7" cy="176.3" r="1.15" fill="#1a1a1a"/>
<circle cx="357.5" cy="176.3" r="1.15" fill="#1a1a1a"/>
<circle cx="360.3" cy="176.3" r="1.15" fill="#1a1a1a"/>
<line x1="300.8" y1="149.3" x2="309.3" y2="149.3" stroke="#b5183c" stroke-width="1.5"/>
<rect x="303.7" y="148" width="2.7" height="2.6" fill="#b5183c"/>
<text x="312.6" y="151.8" font-size="7.25" stroke="#222" stroke-width="0.12">Control T</text>
<line x1="300.8" y1="159.3" x2="309.3" y2="159.3" stroke="#3b2160" stroke-width="1.5"/>
<path d="M303.5 160.5L306.6 160.5L305.05 157.7Z" stroke="none" fill="#3b2160" stroke-width="1"/>
<text x="312.6" y="161.8" font-size="7.25" stroke="#222" stroke-width="0.12">CD19.28z CAR T</text>
<text x="404.5" y="146.2" font-size="10" stroke="#000" stroke-width="0.45" font-weight="bold" fill="#000">H</text>
<line x1="435" y1="160.8" x2="435" y2="234.8" stroke="#222" stroke-width="1.1"/>
<line x1="434.5" y1="234.3" x2="515.6" y2="234.3" stroke="#222" stroke-width="1.1"/>
<line x1="432" y1="234.3" x2="435" y2="234.3" stroke="#222" stroke-width="0.9"/>
<text x="428.9" y="236.9" font-size="7.6" stroke="#1a1a1a" stroke-width="0.18" text-anchor="end" fill="#1a1a1a">0</text>
<line x1="432" y1="216.68" x2="435" y2="216.68" stroke="#222" stroke-width="0.9"/>
<text x="428.9" y="219.28" font-size="7.6" stroke="#1a1a1a" stroke-width="0.18" text-anchor="end" fill="#1a1a1a">25</text>
<line x1="432" y1="199.05" x2="435" y2="199.05" stroke="#222" stroke-width="0.9"/>
<text x="428.9" y="201.65" font-size="7.6" stroke="#1a1a1a" stroke-width="0.18" text-anchor="end" fill="#1a1a1a">50</text>
<line x1="432" y1="181.43" x2="435" y2="181.43" stroke="#222" stroke-width="0.9"/>
<text x="428.9" y="184.03" font-size="7.6" stroke="#1a1a1a" stroke-width="0.18" text-anchor="end" fill="#1a1a1a">75</text>
<line x1="432" y1="163.8" x2="435" y2="163.8" stroke="#222" stroke-width="0.9"/>
<text x="428.9" y="166.4" font-size="7.6" stroke="#1a1a1a" stroke-width="0.18" text-anchor="end" fill="#1a1a1a">100</text>
<line x1="448.4" y1="234.3" x2="448.4" y2="237.3" stroke="#222" stroke-width="0.9"/>
<text x="448.4" y="246.5" font-size="7.6" stroke="#1a1a1a" stroke-width="0.18" text-anchor="middle" fill="#1a1a1a">1:5</text>
<rect x="438.2" y="185.66" width="5.2" height="48.64" fill="#e07a8a"/>
<line x1="440.8" y1="189.18" x2="440.8" y2="182.13" stroke="#a01830" stroke-width="0.8"/>
<line x1="439.6" y1="182.13" x2="442" y2="182.13" stroke="#a01830" stroke-width="0.8"/>
<line x1="439.6" y1="189.18" x2="442" y2="189.18" stroke="#a01830" stroke-width="0.8"/>
<circle cx="440" cy="187.77" r="1.3" fill="#a01830"/>
<circle cx="440.8" cy="185.66" r="1.3" fill="#a01830"/>
<circle cx="441.6" cy="183.54" r="1.3" fill="#a01830"/>
<rect x="445.8" y="196.23" width="5.2" height="38.07" fill="#8aa8c8"/>
<line x1="448.4" y1="199.05" x2="448.4" y2="193.41" stroke="#1a4068" stroke-width="0.8"/>
<line x1="447.2" y1="193.41" x2="449.6" y2="193.41" stroke="#1a4068" stroke-width="0.8"/>
<line x1="447.2" y1="199.05" x2="449.6" y2="199.05" stroke="#1a4068" stroke-width="0.8"/>
<circle cx="447.6" cy="197.92" r="1.3" fill="#1a4068"/>
<circle cx="448.4" cy="196.23" r="1.3" fill="#1a4068"/>
<circle cx="449.2" cy="194.54" r="1.3" fill="#1a4068"/>
<rect x="453.4" y="198.35" width="5.2" height="35.95" fill="#9ed69e"/>
<line x1="456" y1="201.87" x2="456" y2="194.82" stroke="#2e8a3e" stroke-width="0.8"/>
<line x1="454.8" y1="194.82" x2="457.2" y2="194.82" stroke="#2e8a3e" stroke-width="0.8"/>
<line x1="454.8" y1="201.87" x2="457.2" y2="201.87" stroke="#2e8a3e" stroke-width="0.8"/>
<circle cx="455.2" cy="200.46" r="1.3" fill="#2e8a3e"/>
<circle cx="456" cy="198.35" r="1.3" fill="#2e8a3e"/>
<circle cx="456.8" cy="196.23" r="1.3" fill="#2e8a3e"/>
<line x1="476.3" y1="234.3" x2="476.3" y2="237.3" stroke="#222" stroke-width="0.9"/>
<text x="476.3" y="246.5" font-size="7.6" stroke="#1a1a1a" stroke-width="0.18" text-anchor="middle" fill="#1a1a1a">1:10</text>
<rect x="466.1" y="198.7" width="5.2" height="35.6" fill="#e07a8a"/>
<line x1="468.7" y1="202.22" x2="468.7" y2="195.17" stroke="#a01830" stroke-width="0.8"/>
<line x1="467.5" y1="195.17" x2="469.9" y2="195.17" stroke="#a01830" stroke-width="0.8"/>
<line x1="467.5" y1="202.22" x2="469.9" y2="202.22" stroke="#a01830" stroke-width="0.8"/>
<circle cx="467.9" cy="200.81" r="1.3" fill="#a01830"/>
<circle cx="468.7" cy="198.7" r="1.3" fill="#a01830"/>
<circle cx="469.5" cy="196.58" r="1.3" fill="#a01830"/>
<rect x="473.7" y="208.22" width="5.2" height="26.09" fill="#8aa8c8"/>
<line x1="476.3" y1="209.62" x2="476.3" y2="206.81" stroke="#1a4068" stroke-width="0.8"/>
<line x1="475.1" y1="206.81" x2="477.5" y2="206.81" stroke="#1a4068" stroke-width="0.8"/>
<line x1="475.1" y1="209.62" x2="477.5" y2="209.62" stroke="#1a4068" stroke-width="0.8"/>
<circle cx="475.5" cy="209.06" r="1.3" fill="#1a4068"/>
<circle cx="476.3" cy="208.22" r="1.3" fill="#1a4068"/>
<circle cx="477.1" cy="207.37" r="1.3" fill="#1a4068"/>
<rect x="481.3" y="208.92" width="5.2" height="25.38" fill="#9ed69e"/>
<line x1="483.9" y1="211.04" x2="483.9" y2="206.81" stroke="#2e8a3e" stroke-width="0.8"/>
<line x1="482.7" y1="206.81" x2="485.1" y2="206.81" stroke="#2e8a3e" stroke-width="0.8"/>
<line x1="482.7" y1="211.04" x2="485.1" y2="211.04" stroke="#2e8a3e" stroke-width="0.8"/>
<circle cx="483.1" cy="210.19" r="1.3" fill="#2e8a3e"/>
<circle cx="483.9" cy="208.92" r="1.3" fill="#2e8a3e"/>
<circle cx="484.7" cy="207.65" r="1.3" fill="#2e8a3e"/>
<line x1="504.4" y1="234.3" x2="504.4" y2="237.3" stroke="#222" stroke-width="0.9"/>
<text x="504.4" y="246.5" font-size="7.6" stroke="#1a1a1a" stroke-width="0.18" text-anchor="middle" fill="#1a1a1a">1:20</text>
<rect x="494.2" y="207.51" width="5.2" height="26.79" fill="#e07a8a"/>
<line x1="496.8" y1="208.92" x2="496.8" y2="206.1" stroke="#a01830" stroke-width="0.8"/>
<line x1="495.6" y1="206.1" x2="498" y2="206.1" stroke="#a01830" stroke-width="0.8"/>
<line x1="495.6" y1="208.92" x2="498" y2="208.92" stroke="#a01830" stroke-width="0.8"/>
<circle cx="496" cy="208.36" r="1.3" fill="#a01830"/>
<circle cx="496.8" cy="207.51" r="1.3" fill="#a01830"/>
<circle cx="497.6" cy="206.66" r="1.3" fill="#a01830"/>
<rect x="501.8" y="217.38" width="5.2" height="16.92" fill="#8aa8c8"/>
<line x1="504.4" y1="219.5" x2="504.4" y2="215.27" stroke="#1a4068" stroke-width="0.8"/>
<line x1="503.2" y1="215.27" x2="505.6" y2="215.27" stroke="#1a4068" stroke-width="0.8"/>
<line x1="503.2" y1="219.5" x2="505.6" y2="219.5" stroke="#1a4068" stroke-width="0.8"/>
<circle cx="503.6" cy="218.65" r="1.3" fill="#1a4068"/>
<circle cx="504.4" cy="217.38" r="1.3" fill="#1a4068"/>
<circle cx="505.2" cy="216.11" r="1.3" fill="#1a4068"/>
<rect x="509.4" y="218.79" width="5.2" height="15.51" fill="#9ed69e"/>
<line x1="512" y1="222.31" x2="512" y2="215.27" stroke="#2e8a3e" stroke-width="0.8"/>
<line x1="510.8" y1="215.27" x2="513.2" y2="215.27" stroke="#2e8a3e" stroke-width="0.8"/>
<line x1="510.8" y1="222.31" x2="513.2" y2="222.31" stroke="#2e8a3e" stroke-width="0.8"/>
<circle cx="511.2" cy="220.91" r="1.3" fill="#2e8a3e"/>
<circle cx="512" cy="218.79" r="1.3" fill="#2e8a3e"/>
<circle cx="512.8" cy="216.68" r="1.3" fill="#2e8a3e"/>
<line x1="441.3" y1="182" x2="448.6" y2="182" stroke="#333" stroke-width="0.9"/>
<circle cx="443.55" cy="178.7" r="1.15" fill="#1a1a1a"/>
<circle cx="446.35" cy="178.7" r="1.15" fill="#1a1a1a"/>
<line x1="441.3" y1="174.9" x2="456" y2="174.9" stroke="#333" stroke-width="0.9"/>
<circle cx="445.85" cy="171.6" r="1.15" fill="#1a1a1a"/>
<circle cx="448.65" cy="171.6" r="1.15" fill="#1a1a1a"/>
<circle cx="451.45" cy="171.6" r="1.15" fill="#1a1a1a"/>
<line x1="468.9" y1="193.5" x2="475.7" y2="193.5" stroke="#333" stroke-width="0.9"/>
<circle cx="470.9" cy="190.2" r="1.15" fill="#1a1a1a"/>
<circle cx="473.7" cy="190.2" r="1.15" fill="#1a1a1a"/>
<line x1="468.9" y1="186.4" x2="482.8" y2="186.4" stroke="#333" stroke-width="0.9"/>
<circle cx="474.45" cy="183.1" r="1.15" fill="#1a1a1a"/>
<circle cx="477.25" cy="183.1" r="1.15" fill="#1a1a1a"/>
<line x1="497.2" y1="203.7" x2="503.9" y2="203.7" stroke="#333" stroke-width="0.9"/>
<circle cx="499.15" cy="200.4" r="1.15" fill="#1a1a1a"/>
<circle cx="501.95" cy="200.4" r="1.15" fill="#1a1a1a"/>
<line x1="497.2" y1="197.3" x2="511.5" y2="197.3" stroke="#333" stroke-width="0.9"/>
<circle cx="502.95" cy="194" r="1.15" fill="#1a1a1a"/>
<circle cx="505.75" cy="194" r="1.15" fill="#1a1a1a"/>
<text x="476.6" y="259.4" font-size="8.8" stroke="#1a1a1a" stroke-width="0.4" text-anchor="middle" fill="#1a1a1a" textLength="57" lengthAdjust="spacingAndGlyphs">Effector-target ratio</text>
<text x="0" y="0" font-size="9" font-weight="bold" fill="#222" textLength="27" lengthAdjust="spacingAndGlyphs" transform="translate(411.5 198.05) rotate(-90)" text-anchor="middle">Lysis (%)</text>
<text x="432.5" y="152.6" font-size="9.35" stroke="#111" stroke-width="0.22" fill="#111">Nalm6+CD19 CAR T</text>
<text x="0.9" y="281.6" font-size="10" stroke="#000" stroke-width="0.45" font-weight="bold" fill="#000">I</text>
<line x1="32.4" y1="297" x2="32.4" y2="372" stroke="#222" stroke-width="1.1"/>
<line x1="31.9" y1="371.5" x2="103.5" y2="371.5" stroke="#222" stroke-width="1.1"/>
<line x1="29.4" y1="371.5" x2="32.4" y2="371.5" stroke="#222" stroke-width="0.9"/>
<text x="26.3" y="374.1" font-size="7.6" stroke="#1a1a1a" stroke-width="0.18" text-anchor="end" fill="#1a1a1a">0</text>
<line x1="29.4" y1="353.62" x2="32.4" y2="353.62" stroke="#222" stroke-width="0.9"/>
<text x="26.3" y="356.23" font-size="7.6" stroke="#1a1a1a" stroke-width="0.18" text-anchor="end" fill="#1a1a1a">25</text>
<line x1="29.4" y1="335.75" x2="32.4" y2="335.75" stroke="#222" stroke-width="0.9"/>
<text x="26.3" y="338.35" font-size="7.6" stroke="#1a1a1a" stroke-width="0.18" text-anchor="end" fill="#1a1a1a">50</text>
<line x1="29.4" y1="317.88" x2="32.4" y2="317.88" stroke="#222" stroke-width="0.9"/>
<text x="26.3" y="320.48" font-size="7.6" stroke="#1a1a1a" stroke-width="0.18" text-anchor="end" fill="#1a1a1a">75</text>
<line x1="29.4" y1="300" x2="32.4" y2="300" stroke="#222" stroke-width="0.9"/>
<text x="26.3" y="302.6" font-size="7.6" stroke="#1a1a1a" stroke-width="0.18" text-anchor="end" fill="#1a1a1a">100</text>
<line x1="43.3" y1="371.5" x2="43.3" y2="374.5" stroke="#222" stroke-width="0.9"/>
<text x="43.3" y="383.7" font-size="7.6" stroke="#1a1a1a" stroke-width="0.18" text-anchor="middle" fill="#1a1a1a">1:5</text>
<rect x="34.05" y="313.8" width="5" height="57.7" fill="#e07a8a"/>
<line x1="36.55" y1="315.23" x2="36.55" y2="312.37" stroke="#a01830" stroke-width="0.8"/>
<line x1="35.35" y1="312.37" x2="37.75" y2="312.37" stroke="#a01830" stroke-width="0.8"/>
<line x1="35.35" y1="315.23" x2="37.75" y2="315.23" stroke="#a01830" stroke-width="0.8"/>
<circle cx="35.75" cy="314.66" r="1.3" fill="#a01830"/>
<circle cx="36.55" cy="313.8" r="1.3" fill="#a01830"/>
<circle cx="37.35" cy="312.94" r="1.3" fill="#a01830"/>
<rect x="40.8" y="322.17" width="5" height="49.33" fill="#8aa8c8"/>
<line x1="43.3" y1="326.45" x2="43.3" y2="317.88" stroke="#1a4068" stroke-width="0.8"/>
<line x1="42.1" y1="317.88" x2="44.5" y2="317.88" stroke="#1a4068" stroke-width="0.8"/>
<line x1="42.1" y1="326.45" x2="44.5" y2="326.45" stroke="#1a4068" stroke-width="0.8"/>
<circle cx="42.5" cy="324.74" r="1.3" fill="#1a4068"/>
<circle cx="43.3" cy="322.17" r="1.3" fill="#1a4068"/>
<circle cx="44.1" cy="319.59" r="1.3" fill="#1a4068"/>
<rect x="47.55" y="324.31" width="5" height="47.19" fill="#9ed69e"/>
<line x1="50.05" y1="326.45" x2="50.05" y2="322.17" stroke="#2e8a3e" stroke-width="0.8"/>
<line x1="48.85" y1="322.17" x2="51.25" y2="322.17" stroke="#2e8a3e" stroke-width="0.8"/>
<line x1="48.85" y1="326.45" x2="51.25" y2="326.45" stroke="#2e8a3e" stroke-width="0.8"/>
<circle cx="49.25" cy="325.6" r="1.3" fill="#2e8a3e"/>
<circle cx="50.05" cy="324.31" r="1.3" fill="#2e8a3e"/>
<circle cx="50.85" cy="323.02" r="1.3" fill="#2e8a3e"/>
<line x1="67.8" y1="371.5" x2="67.8" y2="374.5" stroke="#222" stroke-width="0.9"/>
<text x="67.8" y="383.7" font-size="7.6" stroke="#1a1a1a" stroke-width="0.18" text-anchor="middle" fill="#1a1a1a">1:10</text>
<rect x="58.55" y="336.04" width="5" height="35.46" fill="#e07a8a"/>
<line x1="61.05" y1="338.18" x2="61.05" y2="333.89" stroke="#a01830" stroke-width="0.8"/>
<line x1="59.85" y1="333.89" x2="62.25" y2="333.89" stroke="#a01830" stroke-width="0.8"/>
<line x1="59.85" y1="338.18" x2="62.25" y2="338.18" stroke="#a01830" stroke-width="0.8"/>
<circle cx="60.25" cy="337.32" r="1.3" fill="#a01830"/>
<circle cx="61.05" cy="336.04" r="1.3" fill="#a01830"/>
<circle cx="61.85" cy="334.75" r="1.3" fill="#a01830"/>
<rect x="65.3" y="347.19" width="5" height="24.31" fill="#8aa8c8"/>
<line x1="67.8" y1="350.76" x2="67.8" y2="343.62" stroke="#1a4068" stroke-width="0.8"/>
<line x1="66.6" y1="343.62" x2="69" y2="343.62" stroke="#1a4068" stroke-width="0.8"/>
<line x1="66.6" y1="350.76" x2="69" y2="350.76" stroke="#1a4068" stroke-width="0.8"/>
<circle cx="67" cy="349.33" r="1.3" fill="#1a4068"/>
<circle cx="67.8" cy="347.19" r="1.3" fill="#1a4068"/>
<circle cx="68.6" cy="345.05" r="1.3" fill="#1a4068"/>
<rect x="72.05" y="350.34" width="5" height="21.16" fill="#9ed69e"/>
<line x1="74.55" y1="356.06" x2="74.55" y2="344.62" stroke="#2e8a3e" stroke-width="0.8"/>
<line x1="73.35" y1="344.62" x2="75.75" y2="344.62" stroke="#2e8a3e" stroke-width="0.8"/>
<line x1="73.35" y1="356.06" x2="75.75" y2="356.06" stroke="#2e8a3e" stroke-width="0.8"/>
<circle cx="73.75" cy="353.77" r="1.3" fill="#2e8a3e"/>
<circle cx="74.55" cy="350.34" r="1.3" fill="#2e8a3e"/>
<circle cx="75.35" cy="346.9" r="1.3" fill="#2e8a3e"/>
<line x1="92.4" y1="371.5" x2="92.4" y2="374.5" stroke="#222" stroke-width="0.9"/>
<text x="92.4" y="383.7" font-size="7.6" stroke="#1a1a1a" stroke-width="0.18" text-anchor="middle" fill="#1a1a1a">1:20</text>
<rect x="83.15" y="349.62" width="5" height="21.88" fill="#e07a8a"/>
<line x1="85.65" y1="351.05" x2="85.65" y2="348.19" stroke="#a01830" stroke-width="0.8"/>
<line x1="84.45" y1="348.19" x2="86.85" y2="348.19" stroke="#a01830" stroke-width="0.8"/>
<line x1="84.45" y1="351.05" x2="86.85" y2="351.05" stroke="#a01830" stroke-width="0.8"/>
<circle cx="84.85" cy="350.48" r="1.3" fill="#a01830"/>
<circle cx="85.65" cy="349.62" r="1.3" fill="#a01830"/>
<circle cx="86.45" cy="348.76" r="1.3" fill="#a01830"/>
<rect x="89.9" y="356.49" width="5" height="15.01" fill="#8aa8c8"/>
<line x1="92.4" y1="358.63" x2="92.4" y2="354.34" stroke="#1a4068" stroke-width="0.8"/>
<line x1="91.2" y1="354.34" x2="93.6" y2="354.34" stroke="#1a4068" stroke-width="0.8"/>
<line x1="91.2" y1="358.63" x2="93.6" y2="358.63" stroke="#1a4068" stroke-width="0.8"/>
<circle cx="91.6" cy="357.77" r="1.3" fill="#1a4068"/>
<circle cx="92.4" cy="356.49" r="1.3" fill="#1a4068"/>
<circle cx="93.2" cy="355.2" r="1.3" fill="#1a4068"/>
<rect x="96.65" y="357.2" width="5" height="14.3" fill="#9ed69e"/>
<line x1="99.15" y1="357.92" x2="99.15" y2="356.49" stroke="#2e8a3e" stroke-width="0.8"/>
<line x1="97.95" y1="356.49" x2="100.35" y2="356.49" stroke="#2e8a3e" stroke-width="0.8"/>
<line x1="97.95" y1="357.92" x2="100.35" y2="357.92" stroke="#2e8a3e" stroke-width="0.8"/>
<circle cx="98.35" cy="357.63" r="1.3" fill="#2e8a3e"/>
<circle cx="99.15" cy="357.2" r="1.3" fill="#2e8a3e"/>
<circle cx="99.95" cy="356.77" r="1.3" fill="#2e8a3e"/>
<line x1="36.5" y1="309.3" x2="44.2" y2="309.3" stroke="#333" stroke-width="0.9"/>
<circle cx="37.55" cy="306" r="1.15" fill="#1a1a1a"/>
<circle cx="40.35" cy="306" r="1.15" fill="#1a1a1a"/>
<circle cx="43.15" cy="306" r="1.15" fill="#1a1a1a"/>
<line x1="36.5" y1="301.9" x2="51.1" y2="301.9" stroke="#333" stroke-width="0.9"/>
<circle cx="41" cy="298.6" r="1.15" fill="#1a1a1a"/>
<circle cx="43.8" cy="298.6" r="1.15" fill="#1a1a1a"/>
<circle cx="46.6" cy="298.6" r="1.15" fill="#1a1a1a"/>
<line x1="59.8" y1="332.2" x2="68" y2="332.2" stroke="#333" stroke-width="0.9"/>
<circle cx="61.1" cy="328.9" r="1.15" fill="#1a1a1a"/>
<circle cx="63.9" cy="328.9" r="1.15" fill="#1a1a1a"/>
<circle cx="66.7" cy="328.9" r="1.15" fill="#1a1a1a"/>
<line x1="59.8" y1="325" x2="74.2" y2="325" stroke="#333" stroke-width="0.9"/>
<circle cx="64.2" cy="321.7" r="1.15" fill="#1a1a1a"/>
<circle cx="67" cy="321.7" r="1.15" fill="#1a1a1a"/>
<circle cx="69.8" cy="321.7" r="1.15" fill="#1a1a1a"/>
<line x1="85.7" y1="345" x2="93.4" y2="345" stroke="#333" stroke-width="0.9"/>
<circle cx="88.15" cy="341.7" r="1.15" fill="#1a1a1a"/>
<circle cx="90.95" cy="341.7" r="1.15" fill="#1a1a1a"/>
<line x1="85.7" y1="338.8" x2="100" y2="338.8" stroke="#333" stroke-width="0.9"/>
<circle cx="91.45" cy="335.5" r="1.15" fill="#1a1a1a"/>
<circle cx="94.25" cy="335.5" r="1.15" fill="#1a1a1a"/>
<text x="68.1" y="396.6" font-size="8.8" stroke="#1a1a1a" stroke-width="0.4" text-anchor="middle" fill="#1a1a1a" textLength="57" lengthAdjust="spacingAndGlyphs">Effector-target ratio</text>
<text x="0" y="0" font-size="9" font-weight="bold" fill="#222" textLength="27" lengthAdjust="spacingAndGlyphs" transform="translate(7.7 334.75) rotate(-90)" text-anchor="middle">Lysis (%)</text>
<text x="16.5" y="289" font-size="9.35" stroke="#111" stroke-width="0.22" fill="#111">Nalm6+CD19/20 CAR T</text>
<text x="133.8" y="282.7" font-size="10" stroke="#000" stroke-width="0.45" font-weight="bold" fill="#000">J</text>
<line x1="164.8" y1="297" x2="164.8" y2="372" stroke="#222" stroke-width="1.1"/>
<line x1="164.3" y1="371.5" x2="236.2" y2="371.5" stroke="#222" stroke-width="1.1"/>
<line x1="161.8" y1="371.5" x2="164.8" y2="371.5" stroke="#222" stroke-width="0.9"/>
<text x="158.7" y="374.1" font-size="7.6" stroke="#1a1a1a" stroke-width="0.18" text-anchor="end" fill="#1a1a1a">0</text>
<line x1="161.8" y1="353.62" x2="164.8" y2="353.62" stroke="#222" stroke-width="0.9"/>
<text x="158.7" y="356.23" font-size="7.6" stroke="#1a1a1a" stroke-width="0.18" text-anchor="end" fill="#1a1a1a">25</text>
<line x1="161.8" y1="335.75" x2="164.8" y2="335.75" stroke="#222" stroke-width="0.9"/>
<text x="158.7" y="338.35" font-size="7.6" stroke="#1a1a1a" stroke-width="0.18" text-anchor="end" fill="#1a1a1a">50</text>
<line x1="161.8" y1="317.88" x2="164.8" y2="317.88" stroke="#222" stroke-width="0.9"/>
<text x="158.7" y="320.48" font-size="7.6" stroke="#1a1a1a" stroke-width="0.18" text-anchor="end" fill="#1a1a1a">75</text>
<line x1="161.8" y1="300" x2="164.8" y2="300" stroke="#222" stroke-width="0.9"/>
<text x="158.7" y="302.6" font-size="7.6" stroke="#1a1a1a" stroke-width="0.18" text-anchor="end" fill="#1a1a1a">100</text>
<line x1="176.2" y1="371.5" x2="176.2" y2="374.5" stroke="#222" stroke-width="0.9"/>
<text x="176.2" y="383.7" font-size="7.6" stroke="#1a1a1a" stroke-width="0.18" text-anchor="middle" fill="#1a1a1a">1:5</text>
<rect x="166.95" y="310.37" width="5" height="61.13" fill="#e07a8a"/>
<line x1="169.45" y1="311.08" x2="169.45" y2="309.65" stroke="#a01830" stroke-width="0.8"/>
<line x1="168.25" y1="309.65" x2="170.65" y2="309.65" stroke="#a01830" stroke-width="0.8"/>
<line x1="168.25" y1="311.08" x2="170.65" y2="311.08" stroke="#a01830" stroke-width="0.8"/>
<circle cx="168.65" cy="310.8" r="1.3" fill="#a01830"/>
<circle cx="169.45" cy="310.37" r="1.3" fill="#a01830"/>
<circle cx="170.25" cy="309.94" r="1.3" fill="#a01830"/>
<rect x="173.7" y="315.73" width="5" height="55.77" fill="#8aa8c8"/>
<line x1="176.2" y1="319.31" x2="176.2" y2="312.15" stroke="#1a4068" stroke-width="0.8"/>
<line x1="175" y1="312.15" x2="177.4" y2="312.15" stroke="#1a4068" stroke-width="0.8"/>
<line x1="175" y1="319.31" x2="177.4" y2="319.31" stroke="#1a4068" stroke-width="0.8"/>
<circle cx="175.4" cy="317.88" r="1.3" fill="#1a4068"/>
<circle cx="176.2" cy="315.73" r="1.3" fill="#1a4068"/>
<circle cx="177" cy="313.58" r="1.3" fill="#1a4068"/>
<rect x="180.45" y="321.81" width="5" height="49.69" fill="#9ed69e"/>
<line x1="182.95" y1="326.81" x2="182.95" y2="316.8" stroke="#2e8a3e" stroke-width="0.8"/>
<line x1="181.75" y1="316.8" x2="184.15" y2="316.8" stroke="#2e8a3e" stroke-width="0.8"/>
<line x1="181.75" y1="326.81" x2="184.15" y2="326.81" stroke="#2e8a3e" stroke-width="0.8"/>
<circle cx="182.15" cy="324.81" r="1.3" fill="#2e8a3e"/>
<circle cx="182.95" cy="321.81" r="1.3" fill="#2e8a3e"/>
<circle cx="183.75" cy="318.8" r="1.3" fill="#2e8a3e"/>
<line x1="200.8" y1="371.5" x2="200.8" y2="374.5" stroke="#222" stroke-width="0.9"/>
<text x="200.8" y="383.7" font-size="7.6" stroke="#1a1a1a" stroke-width="0.18" text-anchor="middle" fill="#1a1a1a">1:10</text>
<rect x="191.55" y="334.32" width="5" height="37.18" fill="#e07a8a"/>
<line x1="194.05" y1="335.75" x2="194.05" y2="332.89" stroke="#a01830" stroke-width="0.8"/>
<line x1="192.85" y1="332.89" x2="195.25" y2="332.89" stroke="#a01830" stroke-width="0.8"/>
<line x1="192.85" y1="335.75" x2="195.25" y2="335.75" stroke="#a01830" stroke-width="0.8"/>
<circle cx="193.25" cy="335.18" r="1.3" fill="#a01830"/>
<circle cx="194.05" cy="334.32" r="1.3" fill="#a01830"/>
<circle cx="194.85" cy="333.46" r="1.3" fill="#a01830"/>
<rect x="198.3" y="347.19" width="5" height="24.31" fill="#8aa8c8"/>
<line x1="200.8" y1="351.48" x2="200.8" y2="342.9" stroke="#1a4068" stroke-width="0.8"/>
<line x1="199.6" y1="342.9" x2="202" y2="342.9" stroke="#1a4068" stroke-width="0.8"/>
<line x1="199.6" y1="351.48" x2="202" y2="351.48" stroke="#1a4068" stroke-width="0.8"/>
<circle cx="200" cy="349.76" r="1.3" fill="#1a4068"/>
<circle cx="200.8" cy="347.19" r="1.3" fill="#1a4068"/>
<circle cx="201.6" cy="344.62" r="1.3" fill="#1a4068"/>
<rect x="205.05" y="351.69" width="5" height="19.81" fill="#9ed69e"/>
<line x1="207.55" y1="353.84" x2="207.55" y2="349.55" stroke="#2e8a3e" stroke-width="0.8"/>
<line x1="206.35" y1="349.55" x2="208.75" y2="349.55" stroke="#2e8a3e" stroke-width="0.8"/>
<line x1="206.35" y1="353.84" x2="208.75" y2="353.84" stroke="#2e8a3e" stroke-width="0.8"/>
<circle cx="206.75" cy="352.98" r="1.3" fill="#2e8a3e"/>
<circle cx="207.55" cy="351.69" r="1.3" fill="#2e8a3e"/>
<circle cx="208.35" cy="350.41" r="1.3" fill="#2e8a3e"/>
<line x1="225.4" y1="371.5" x2="225.4" y2="374.5" stroke="#222" stroke-width="0.9"/>
<text x="225.4" y="383.7" font-size="7.6" stroke="#1a1a1a" stroke-width="0.18" text-anchor="middle" fill="#1a1a1a">1:20</text>
<rect x="216.15" y="343.62" width="5" height="27.88" fill="#e07a8a"/>
<line x1="218.65" y1="347.19" x2="218.65" y2="340.04" stroke="#a01830" stroke-width="0.8"/>
<line x1="217.45" y1="340.04" x2="219.85" y2="340.04" stroke="#a01830" stroke-width="0.8"/>
<line x1="217.45" y1="347.19" x2="219.85" y2="347.19" stroke="#a01830" stroke-width="0.8"/>
<circle cx="217.85" cy="345.76" r="1.3" fill="#a01830"/>
<circle cx="218.65" cy="343.62" r="1.3" fill="#a01830"/>
<circle cx="219.45" cy="341.47" r="1.3" fill="#a01830"/>
<rect x="222.9" y="359.35" width="5" height="12.15" fill="#8aa8c8"/>
<line x1="225.4" y1="362.92" x2="225.4" y2="355.77" stroke="#1a4068" stroke-width="0.8"/>
<line x1="224.2" y1="355.77" x2="226.6" y2="355.77" stroke="#1a4068" stroke-width="0.8"/>
<line x1="224.2" y1="362.92" x2="226.6" y2="362.92" stroke="#1a4068" stroke-width="0.8"/>
<circle cx="224.6" cy="361.49" r="1.3" fill="#1a4068"/>
<circle cx="225.4" cy="359.35" r="1.3" fill="#1a4068"/>
<circle cx="226.2" cy="357.2" r="1.3" fill="#1a4068"/>
<rect x="229.65" y="357.2" width="5" height="14.3" fill="#9ed69e"/>
<line x1="232.15" y1="359.35" x2="232.15" y2="355.06" stroke="#2e8a3e" stroke-width="0.8"/>
<line x1="230.95" y1="355.06" x2="233.35" y2="355.06" stroke="#2e8a3e" stroke-width="0.8"/>
<line x1="230.95" y1="359.35" x2="233.35" y2="359.35" stroke="#2e8a3e" stroke-width="0.8"/>
<circle cx="231.35" cy="358.49" r="1.3" fill="#2e8a3e"/>
<circle cx="232.15" cy="357.2" r="1.3" fill="#2e8a3e"/>
<circle cx="232.95" cy="355.91" r="1.3" fill="#2e8a3e"/>
<line x1="169.5" y1="306.5" x2="177.2" y2="306.5" stroke="#333" stroke-width="0.9"/>
<circle cx="171.95" cy="303.2" r="1.15" fill="#1a1a1a"/>
<circle cx="174.75" cy="303.2" r="1.15" fill="#1a1a1a"/>
<line x1="169.5" y1="299.6" x2="183.8" y2="299.6" stroke="#333" stroke-width="0.9"/>
<circle cx="173.85" cy="296.3" r="1.15" fill="#1a1a1a"/>
<circle cx="176.65" cy="296.3" r="1.15" fill="#1a1a1a"/>
<circle cx="179.45" cy="296.3" r="1.15" fill="#1a1a1a"/>
<line x1="192.8" y1="329.2" x2="200.8" y2="329.2" stroke="#333" stroke-width="0.9"/>
<circle cx="194" cy="325.9" r="1.15" fill="#1a1a1a"/>
<circle cx="196.8" cy="325.9" r="1.15" fill="#1a1a1a"/>
<circle cx="199.6" cy="325.9" r="1.15" fill="#1a1a1a"/>
<line x1="192.8" y1="322.2" x2="206.9" y2="322.2" stroke="#333" stroke-width="0.9"/>
<circle cx="197.05" cy="318.9" r="1.15" fill="#1a1a1a"/>
<circle cx="199.85" cy="318.9" r="1.15" fill="#1a1a1a"/>
<circle cx="202.65" cy="318.9" r="1.15" fill="#1a1a1a"/>
<line x1="218.2" y1="336.5" x2="226.2" y2="336.5" stroke="#333" stroke-width="0.9"/>
<circle cx="219.4" cy="333.2" r="1.15" fill="#1a1a1a"/>
<circle cx="222.2" cy="333.2" r="1.15" fill="#1a1a1a"/>
<circle cx="225" cy="333.2" r="1.15" fill="#1a1a1a"/>
<line x1="218.2" y1="329.6" x2="232.3" y2="329.6" stroke="#333" stroke-width="0.9"/>
<circle cx="222.45" cy="326.3" r="1.15" fill="#1a1a1a"/>
<circle cx="225.25" cy="326.3" r="1.15" fill="#1a1a1a"/>
<circle cx="228.05" cy="326.3" r="1.15" fill="#1a1a1a"/>
<text x="201.1" y="396.6" font-size="8.8" stroke="#1a1a1a" stroke-width="0.4" text-anchor="middle" fill="#1a1a1a" textLength="57" lengthAdjust="spacingAndGlyphs">Effector-target ratio</text>
<text x="0" y="0" font-size="9" font-weight="bold" fill="#222" textLength="27" lengthAdjust="spacingAndGlyphs" transform="translate(140.5 334.75) rotate(-90)" text-anchor="middle">Lysis (%)</text>
<text x="147.5" y="289" font-size="9.35" stroke="#111" stroke-width="0.22" fill="#111">Nalm6+CD19.28z CAR T</text>
<text x="267" y="282.7" font-size="10" stroke="#000" stroke-width="0.45" font-weight="bold" fill="#000">K</text>
<line x1="298.4" y1="297" x2="298.4" y2="372" stroke="#222" stroke-width="1.1"/>
<line x1="297.9" y1="371.5" x2="369.7" y2="371.5" stroke="#222" stroke-width="1.1"/>
<line x1="295.4" y1="371.5" x2="298.4" y2="371.5" stroke="#222" stroke-width="0.9"/>
<text x="292.3" y="374.1" font-size="7.6" stroke="#1a1a1a" stroke-width="0.18" text-anchor="end" fill="#1a1a1a">0</text>
<line x1="295.4" y1="353.62" x2="298.4" y2="353.62" stroke="#222" stroke-width="0.9"/>
<text x="292.3" y="356.23" font-size="7.6" stroke="#1a1a1a" stroke-width="0.18" text-anchor="end" fill="#1a1a1a">25</text>
<line x1="295.4" y1="335.75" x2="298.4" y2="335.75" stroke="#222" stroke-width="0.9"/>
<text x="292.3" y="338.35" font-size="7.6" stroke="#1a1a1a" stroke-width="0.18" text-anchor="end" fill="#1a1a1a">50</text>
<line x1="295.4" y1="317.88" x2="298.4" y2="317.88" stroke="#222" stroke-width="0.9"/>
<text x="292.3" y="320.48" font-size="7.6" stroke="#1a1a1a" stroke-width="0.18" text-anchor="end" fill="#1a1a1a">75</text>
<line x1="295.4" y1="300" x2="298.4" y2="300" stroke="#222" stroke-width="0.9"/>
<text x="292.3" y="302.6" font-size="7.6" stroke="#1a1a1a" stroke-width="0.18" text-anchor="end" fill="#1a1a1a">100</text>
<line x1="308.9" y1="371.5" x2="308.9" y2="374.5" stroke="#222" stroke-width="0.9"/>
<text x="308.9" y="383.7" font-size="7.6" stroke="#1a1a1a" stroke-width="0.18" text-anchor="middle" fill="#1a1a1a">1:5</text>
<rect x="299.6" y="324.31" width="5" height="47.19" fill="#e07a8a"/>
<line x1="302.1" y1="326.45" x2="302.1" y2="322.17" stroke="#a01830" stroke-width="0.8"/>
<line x1="300.9" y1="322.17" x2="303.3" y2="322.17" stroke="#a01830" stroke-width="0.8"/>
<line x1="300.9" y1="326.45" x2="303.3" y2="326.45" stroke="#a01830" stroke-width="0.8"/>
<circle cx="301.3" cy="325.6" r="1.3" fill="#a01830"/>
<circle cx="302.1" cy="324.31" r="1.3" fill="#a01830"/>
<circle cx="302.9" cy="323.02" r="1.3" fill="#a01830"/>
<rect x="306.4" y="338.61" width="5" height="32.89" fill="#8aa8c8"/>
<line x1="308.9" y1="340.75" x2="308.9" y2="336.47" stroke="#1a4068" stroke-width="0.8"/>
<line x1="307.7" y1="336.47" x2="310.1" y2="336.47" stroke="#1a4068" stroke-width="0.8"/>
<line x1="307.7" y1="340.75" x2="310.1" y2="340.75" stroke="#1a4068" stroke-width="0.8"/>
<circle cx="308.1" cy="339.9" r="1.3" fill="#1a4068"/>
<circle cx="308.9" cy="338.61" r="1.3" fill="#1a4068"/>
<circle cx="309.7" cy="337.32" r="1.3" fill="#1a4068"/>
<rect x="313.2" y="342.19" width="5" height="29.31" fill="#9ed69e"/>
<line x1="315.7" y1="347.9" x2="315.7" y2="336.47" stroke="#2e8a3e" stroke-width="0.8"/>
<line x1="314.5" y1="336.47" x2="316.9" y2="336.47" stroke="#2e8a3e" stroke-width="0.8"/>
<line x1="314.5" y1="347.9" x2="316.9" y2="347.9" stroke="#2e8a3e" stroke-width="0.8"/>
<circle cx="314.9" cy="345.62" r="1.3" fill="#2e8a3e"/>
<circle cx="315.7" cy="342.19" r="1.3" fill="#2e8a3e"/>
<circle cx="316.5" cy="338.75" r="1.3" fill="#2e8a3e"/>
<line x1="333.7" y1="371.5" x2="333.7" y2="374.5" stroke="#222" stroke-width="0.9"/>
<text x="333.7" y="383.7" font-size="7.6" stroke="#1a1a1a" stroke-width="0.18" text-anchor="middle" fill="#1a1a1a">1:10</text>
<rect x="324.4" y="334.32" width="5" height="37.18" fill="#e07a8a"/>
<line x1="326.9" y1="337.89" x2="326.9" y2="330.75" stroke="#a01830" stroke-width="0.8"/>
<line x1="325.7" y1="330.75" x2="328.1" y2="330.75" stroke="#a01830" stroke-width="0.8"/>
<line x1="325.7" y1="337.89" x2="328.1" y2="337.89" stroke="#a01830" stroke-width="0.8"/>
<circle cx="326.1" cy="336.47" r="1.3" fill="#a01830"/>
<circle cx="326.9" cy="334.32" r="1.3" fill="#a01830"/>
<circle cx="327.7" cy="332.18" r="1.3" fill="#a01830"/>
<rect x="331.2" y="349.33" width="5" height="22.17" fill="#8aa8c8"/>
<line x1="333.7" y1="353.62" x2="333.7" y2="345.05" stroke="#1a4068" stroke-width="0.8"/>
<line x1="332.5" y1="345.05" x2="334.9" y2="345.05" stroke="#1a4068" stroke-width="0.8"/>
<line x1="332.5" y1="353.62" x2="334.9" y2="353.62" stroke="#1a4068" stroke-width="0.8"/>
<circle cx="332.9" cy="351.91" r="1.3" fill="#1a4068"/>
<circle cx="333.7" cy="349.33" r="1.3" fill="#1a4068"/>
<circle cx="334.5" cy="346.76" r="1.3" fill="#1a4068"/>
<rect x="338" y="354.34" width="5" height="17.16" fill="#9ed69e"/>
<line x1="340.5" y1="356.49" x2="340.5" y2="352.19" stroke="#2e8a3e" stroke-width="0.8"/>
<line x1="339.3" y1="352.19" x2="341.7" y2="352.19" stroke="#2e8a3e" stroke-width="0.8"/>
<line x1="339.3" y1="356.49" x2="341.7" y2="356.49" stroke="#2e8a3e" stroke-width="0.8"/>
<circle cx="339.7" cy="355.63" r="1.3" fill="#2e8a3e"/>
<circle cx="340.5" cy="354.34" r="1.3" fill="#2e8a3e"/>
<circle cx="341.3" cy="353.05" r="1.3" fill="#2e8a3e"/>
<line x1="358.3" y1="371.5" x2="358.3" y2="374.5" stroke="#222" stroke-width="0.9"/>
<text x="358.3" y="383.7" font-size="7.6" stroke="#1a1a1a" stroke-width="0.18" text-anchor="middle" fill="#1a1a1a">1:20</text>
<rect x="349" y="342.9" width="5" height="28.6" fill="#e07a8a"/>
<line x1="351.5" y1="347.9" x2="351.5" y2="337.89" stroke="#a01830" stroke-width="0.8"/>
<line x1="350.3" y1="337.89" x2="352.7" y2="337.89" stroke="#a01830" stroke-width="0.8"/>
<line x1="350.3" y1="347.9" x2="352.7" y2="347.9" stroke="#a01830" stroke-width="0.8"/>
<circle cx="350.7" cy="345.9" r="1.3" fill="#a01830"/>
<circle cx="351.5" cy="342.9" r="1.3" fill="#a01830"/>
<circle cx="352.3" cy="339.9" r="1.3" fill="#a01830"/>
<rect x="355.8" y="355.77" width="5" height="15.73" fill="#8aa8c8"/>
<line x1="358.3" y1="357.2" x2="358.3" y2="354.34" stroke="#1a4068" stroke-width="0.8"/>
<line x1="357.1" y1="354.34" x2="359.5" y2="354.34" stroke="#1a4068" stroke-width="0.8"/>
<line x1="357.1" y1="357.2" x2="359.5" y2="357.2" stroke="#1a4068" stroke-width="0.8"/>
<circle cx="357.5" cy="356.63" r="1.3" fill="#1a4068"/>
<circle cx="358.3" cy="355.77" r="1.3" fill="#1a4068"/>
<circle cx="359.1" cy="354.91" r="1.3" fill="#1a4068"/>
<rect x="362.6" y="357.92" width="5" height="13.58" fill="#9ed69e"/>
<line x1="365.1" y1="360.06" x2="365.1" y2="355.77" stroke="#2e8a3e" stroke-width="0.8"/>
<line x1="363.9" y1="355.77" x2="366.3" y2="355.77" stroke="#2e8a3e" stroke-width="0.8"/>
<line x1="363.9" y1="360.06" x2="366.3" y2="360.06" stroke="#2e8a3e" stroke-width="0.8"/>
<circle cx="364.3" cy="359.2" r="1.3" fill="#2e8a3e"/>
<circle cx="365.1" cy="357.92" r="1.3" fill="#2e8a3e"/>
<circle cx="365.9" cy="356.63" r="1.3" fill="#2e8a3e"/>
<line x1="303.5" y1="319.3" x2="311.2" y2="319.3" stroke="#333" stroke-width="0.9"/>
<circle cx="304.55" cy="316" r="1.15" fill="#1a1a1a"/>
<circle cx="307.35" cy="316" r="1.15" fill="#1a1a1a"/>
<circle cx="310.15" cy="316" r="1.15" fill="#1a1a1a"/>
<line x1="303.5" y1="312.2" x2="317.8" y2="312.2" stroke="#333" stroke-width="0.9"/>
<circle cx="307.85" cy="308.9" r="1.15" fill="#1a1a1a"/>
<circle cx="310.65" cy="308.9" r="1.15" fill="#1a1a1a"/>
<circle cx="313.45" cy="308.9" r="1.15" fill="#1a1a1a"/>
<line x1="325.5" y1="330.4" x2="333.7" y2="330.4" stroke="#333" stroke-width="0.9"/>
<circle cx="326.8" cy="327.1" r="1.15" fill="#1a1a1a"/>
<circle cx="329.6" cy="327.1" r="1.15" fill="#1a1a1a"/>
<circle cx="332.4" cy="327.1" r="1.15" fill="#1a1a1a"/>
<line x1="325.5" y1="322.7" x2="339.8" y2="322.7" stroke="#333" stroke-width="0.9"/>
<circle cx="329.85" cy="319.4" r="1.15" fill="#1a1a1a"/>
<circle cx="332.65" cy="319.4" r="1.15" fill="#1a1a1a"/>
<circle cx="335.45" cy="319.4" r="1.15" fill="#1a1a1a"/>
<line x1="351.7" y1="334.2" x2="359.4" y2="334.2" stroke="#333" stroke-width="0.9"/>
<circle cx="352.75" cy="330.9" r="1.15" fill="#1a1a1a"/>
<circle cx="355.55" cy="330.9" r="1.15" fill="#1a1a1a"/>
<circle cx="358.35" cy="330.9" r="1.15" fill="#1a1a1a"/>
<line x1="351.7" y1="327" x2="365.5" y2="327" stroke="#333" stroke-width="0.9"/>
<circle cx="355.8" cy="323.7" r="1.15" fill="#1a1a1a"/>
<circle cx="358.6" cy="323.7" r="1.15" fill="#1a1a1a"/>
<circle cx="361.4" cy="323.7" r="1.15" fill="#1a1a1a"/>
<text x="334" y="396.6" font-size="8.8" stroke="#1a1a1a" stroke-width="0.4" text-anchor="middle" fill="#1a1a1a" textLength="57" lengthAdjust="spacingAndGlyphs">Effector-target ratio</text>
<text x="0" y="0" font-size="9" font-weight="bold" fill="#222" textLength="27" lengthAdjust="spacingAndGlyphs" transform="translate(273.5 334.75) rotate(-90)" text-anchor="middle">Lysis (%)</text>
<text x="295" y="288.7" font-size="9.35" stroke="#111" stroke-width="0.22" fill="#111">Raji+CD19 CAR T</text>
<text x="403.8" y="282.7" font-size="10" stroke="#000" stroke-width="0.45" font-weight="bold" fill="#000">L</text>
<line x1="434.7" y1="297" x2="434.7" y2="372" stroke="#222" stroke-width="1.1"/>
<line x1="434.2" y1="371.5" x2="506.2" y2="371.5" stroke="#222" stroke-width="1.1"/>
<line x1="431.7" y1="371.5" x2="434.7" y2="371.5" stroke="#222" stroke-width="0.9"/>
<text x="428.6" y="374.1" font-size="7.6" stroke="#1a1a1a" stroke-width="0.18" text-anchor="end" fill="#1a1a1a">0</text>
<line x1="431.7" y1="353.62" x2="434.7" y2="353.62" stroke="#222" stroke-width="0.9"/>
<text x="428.6" y="356.23" font-size="7.6" stroke="#1a1a1a" stroke-width="0.18" text-anchor="end" fill="#1a1a1a">25</text>
<line x1="431.7" y1="335.75" x2="434.7" y2="335.75" stroke="#222" stroke-width="0.9"/>
<text x="428.6" y="338.35" font-size="7.6" stroke="#1a1a1a" stroke-width="0.18" text-anchor="end" fill="#1a1a1a">50</text>
<line x1="431.7" y1="317.88" x2="434.7" y2="317.88" stroke="#222" stroke-width="0.9"/>
<text x="428.6" y="320.48" font-size="7.6" stroke="#1a1a1a" stroke-width="0.18" text-anchor="end" fill="#1a1a1a">75</text>
<line x1="431.7" y1="300" x2="434.7" y2="300" stroke="#222" stroke-width="0.9"/>
<text x="428.6" y="302.6" font-size="7.6" stroke="#1a1a1a" stroke-width="0.18" text-anchor="end" fill="#1a1a1a">100</text>
<line x1="446.2" y1="371.5" x2="446.2" y2="374.5" stroke="#222" stroke-width="0.9"/>
<text x="446.2" y="383.7" font-size="7.6" stroke="#1a1a1a" stroke-width="0.18" text-anchor="middle" fill="#1a1a1a">1:5</text>
<rect x="436.95" y="326.45" width="5" height="45.05" fill="#e07a8a"/>
<line x1="439.45" y1="333.61" x2="439.45" y2="319.31" stroke="#a01830" stroke-width="0.8"/>
<line x1="438.25" y1="319.31" x2="440.65" y2="319.31" stroke="#a01830" stroke-width="0.8"/>
<line x1="438.25" y1="333.61" x2="440.65" y2="333.61" stroke="#a01830" stroke-width="0.8"/>
<circle cx="438.65" cy="330.75" r="1.3" fill="#a01830"/>
<circle cx="439.45" cy="326.45" r="1.3" fill="#a01830"/>
<circle cx="440.25" cy="322.17" r="1.3" fill="#a01830"/>
<rect x="443.7" y="337.89" width="5" height="33.61" fill="#8aa8c8"/>
<line x1="446.2" y1="345.05" x2="446.2" y2="330.75" stroke="#1a4068" stroke-width="0.8"/>
<line x1="445" y1="330.75" x2="447.4" y2="330.75" stroke="#1a4068" stroke-width="0.8"/>
<line x1="445" y1="345.05" x2="447.4" y2="345.05" stroke="#1a4068" stroke-width="0.8"/>
<circle cx="445.4" cy="342.19" r="1.3" fill="#1a4068"/>
<circle cx="446.2" cy="337.89" r="1.3" fill="#1a4068"/>
<circle cx="447" cy="333.61" r="1.3" fill="#1a4068"/>
<rect x="450.45" y="349.33" width="5" height="22.17" fill="#9ed69e"/>
<line x1="452.95" y1="352.91" x2="452.95" y2="345.76" stroke="#2e8a3e" stroke-width="0.8"/>
<line x1="451.75" y1="345.76" x2="454.15" y2="345.76" stroke="#2e8a3e" stroke-width="0.8"/>
<line x1="451.75" y1="352.91" x2="454.15" y2="352.91" stroke="#2e8a3e" stroke-width="0.8"/>
<circle cx="452.15" cy="351.48" r="1.3" fill="#2e8a3e"/>
<circle cx="452.95" cy="349.33" r="1.3" fill="#2e8a3e"/>
<circle cx="453.75" cy="347.19" r="1.3" fill="#2e8a3e"/>
<line x1="470.8" y1="371.5" x2="470.8" y2="374.5" stroke="#222" stroke-width="0.9"/>
<text x="470.8" y="383.7" font-size="7.6" stroke="#1a1a1a" stroke-width="0.18" text-anchor="middle" fill="#1a1a1a">1:10</text>
<rect x="461.55" y="334.32" width="5" height="37.18" fill="#e07a8a"/>
<line x1="464.05" y1="336.47" x2="464.05" y2="332.18" stroke="#a01830" stroke-width="0.8"/>
<line x1="462.85" y1="332.18" x2="465.25" y2="332.18" stroke="#a01830" stroke-width="0.8"/>
<line x1="462.85" y1="336.47" x2="465.25" y2="336.47" stroke="#a01830" stroke-width="0.8"/>
<circle cx="463.25" cy="335.61" r="1.3" fill="#a01830"/>
<circle cx="464.05" cy="334.32" r="1.3" fill="#a01830"/>
<circle cx="464.85" cy="333.03" r="1.3" fill="#a01830"/>
<rect x="468.3" y="347.9" width="5" height="23.6" fill="#8aa8c8"/>
<line x1="470.8" y1="352.19" x2="470.8" y2="343.62" stroke="#1a4068" stroke-width="0.8"/>
<line x1="469.6" y1="343.62" x2="472" y2="343.62" stroke="#1a4068" stroke-width="0.8"/>
<line x1="469.6" y1="352.19" x2="472" y2="352.19" stroke="#1a4068" stroke-width="0.8"/>
<circle cx="470" cy="350.48" r="1.3" fill="#1a4068"/>
<circle cx="470.8" cy="347.9" r="1.3" fill="#1a4068"/>
<circle cx="471.6" cy="345.33" r="1.3" fill="#1a4068"/>
<rect x="475.05" y="347.9" width="5" height="23.6" fill="#9ed69e"/>
<line x1="477.55" y1="352.91" x2="477.55" y2="342.9" stroke="#2e8a3e" stroke-width="0.8"/>
<line x1="476.35" y1="342.9" x2="478.75" y2="342.9" stroke="#2e8a3e" stroke-width="0.8"/>
<line x1="476.35" y1="352.91" x2="478.75" y2="352.91" stroke="#2e8a3e" stroke-width="0.8"/>
<circle cx="476.75" cy="350.91" r="1.3" fill="#2e8a3e"/>
<circle cx="477.55" cy="347.9" r="1.3" fill="#2e8a3e"/>
<circle cx="478.35" cy="344.9" r="1.3" fill="#2e8a3e"/>
<line x1="495.4" y1="371.5" x2="495.4" y2="374.5" stroke="#222" stroke-width="0.9"/>
<text x="495.4" y="383.7" font-size="7.6" stroke="#1a1a1a" stroke-width="0.18" text-anchor="middle" fill="#1a1a1a">1:20</text>
<rect x="486.15" y="350.76" width="5" height="20.74" fill="#e07a8a"/>
<line x1="488.65" y1="356.49" x2="488.65" y2="345.05" stroke="#a01830" stroke-width="0.8"/>
<line x1="487.45" y1="345.05" x2="489.85" y2="345.05" stroke="#a01830" stroke-width="0.8"/>
<line x1="487.45" y1="356.49" x2="489.85" y2="356.49" stroke="#a01830" stroke-width="0.8"/>
<circle cx="487.85" cy="354.2" r="1.3" fill="#a01830"/>
<circle cx="488.65" cy="350.76" r="1.3" fill="#a01830"/>
<circle cx="489.45" cy="347.33" r="1.3" fill="#a01830"/>
<rect x="492.9" y="359.35" width="5" height="12.15" fill="#8aa8c8"/>
<line x1="495.4" y1="360.77" x2="495.4" y2="357.92" stroke="#1a4068" stroke-width="0.8"/>
<line x1="494.2" y1="357.92" x2="496.6" y2="357.92" stroke="#1a4068" stroke-width="0.8"/>
<line x1="494.2" y1="360.77" x2="496.6" y2="360.77" stroke="#1a4068" stroke-width="0.8"/>
<circle cx="494.6" cy="360.2" r="1.3" fill="#1a4068"/>
<circle cx="495.4" cy="359.35" r="1.3" fill="#1a4068"/>
<circle cx="496.2" cy="358.49" r="1.3" fill="#1a4068"/>
<rect x="499.65" y="360.06" width="5" height="11.44" fill="#9ed69e"/>
<line x1="502.15" y1="361.49" x2="502.15" y2="358.63" stroke="#2e8a3e" stroke-width="0.8"/>
<line x1="500.95" y1="358.63" x2="503.35" y2="358.63" stroke="#2e8a3e" stroke-width="0.8"/>
<line x1="500.95" y1="361.49" x2="503.35" y2="361.49" stroke="#2e8a3e" stroke-width="0.8"/>
<circle cx="501.35" cy="360.92" r="1.3" fill="#2e8a3e"/>
<circle cx="502.15" cy="360.06" r="1.3" fill="#2e8a3e"/>
<circle cx="502.95" cy="359.2" r="1.3" fill="#2e8a3e"/>
<line x1="440.5" y1="314.2" x2="448.2" y2="314.2" stroke="#333" stroke-width="0.9"/>
<circle cx="441.55" cy="310.9" r="1.15" fill="#1a1a1a"/>
<circle cx="444.35" cy="310.9" r="1.15" fill="#1a1a1a"/>
<circle cx="447.15" cy="310.9" r="1.15" fill="#1a1a1a"/>
<line x1="440.5" y1="306.8" x2="454.6" y2="306.8" stroke="#333" stroke-width="0.9"/>
<circle cx="444.75" cy="303.5" r="1.15" fill="#1a1a1a"/>
<circle cx="447.55" cy="303.5" r="1.15" fill="#1a1a1a"/>
<circle cx="450.35" cy="303.5" r="1.15" fill="#1a1a1a"/>
<line x1="463.1" y1="327" x2="470.8" y2="327" stroke="#333" stroke-width="0.9"/>
<circle cx="464.15" cy="323.7" r="1.15" fill="#1a1a1a"/>
<circle cx="466.95" cy="323.7" r="1.15" fill="#1a1a1a"/>
<circle cx="469.75" cy="323.7" r="1.15" fill="#1a1a1a"/>
<line x1="463.1" y1="319.3" x2="476.9" y2="319.3" stroke="#333" stroke-width="0.9"/>
<circle cx="467.2" cy="316" r="1.15" fill="#1a1a1a"/>
<circle cx="470" cy="316" r="1.15" fill="#1a1a1a"/>
<circle cx="472.8" cy="316" r="1.15" fill="#1a1a1a"/>
<line x1="488.9" y1="340.4" x2="496.2" y2="340.4" stroke="#333" stroke-width="0.9"/>
<circle cx="491.15" cy="337.1" r="1.15" fill="#1a1a1a"/>
<circle cx="493.95" cy="337.1" r="1.15" fill="#1a1a1a"/>
<line x1="488.9" y1="332.7" x2="502.3" y2="332.7" stroke="#333" stroke-width="0.9"/>
<circle cx="494.2" cy="329.4" r="1.15" fill="#1a1a1a"/>
<circle cx="497" cy="329.4" r="1.15" fill="#1a1a1a"/>
<text x="471.1" y="396.6" font-size="8.8" stroke="#1a1a1a" stroke-width="0.4" text-anchor="middle" fill="#1a1a1a" textLength="57" lengthAdjust="spacingAndGlyphs">Effector-target ratio</text>
<text x="0" y="0" font-size="9" font-weight="bold" fill="#222" textLength="27" lengthAdjust="spacingAndGlyphs" transform="translate(410.5 334.75) rotate(-90)" text-anchor="middle">Lysis (%)</text>
<text x="425" y="288.7" font-size="9.35" stroke="#111" stroke-width="0.22" fill="#111">Raji+CD19/20 CAR T</text>
<rect x="192" y="405.2" width="5.1" height="5" fill="#c8203c"/>
<text x="200.5" y="409.7" font-size="7.2" stroke="#222" stroke-width="0.22">WT</text>
<rect x="228.8" y="405.2" width="5.1" height="5" fill="#1d4f7e"/>
<text x="237" y="409.7" font-size="7.2" stroke="#222" stroke-width="0.22">sgCD58-1</text>
<rect x="286.3" y="405.2" width="5.1" height="5" fill="#3aaa4a"/>
<text x="295" y="409.7" font-size="7.2" stroke="#222" stroke-width="0.22">sgCD58-2</text>
<text x="2" y="432.2" font-size="10" stroke="#000" stroke-width="0.45" font-weight="bold" fill="#000">M</text>
<path d="M68.5 473.1 L68.5 473.1 L68.75 473.03 L69 472.96 L69.25 472.88 L69.5 472.79 L69.75 472.69 L70 472.58 L70.25 472.46 L70.5 472.34 L70.75 472.2 L71 472.06 L71.25 471.91 L71.5 471.76 L71.75 471.59 L72 471.42 L72.25 471.24 L72.5 471.04 L72.75 470.82 L73 470.58 L73.25 470.33 L73.5 470.05 L73.75 469.75 L74 469.45 L74.25 469.13 L74.5 468.8 L74.75 468.47 L75 468.14 L75.25 467.82 L75.5 467.49 L75.75 467.13 L76 466.72 L76.25 466.24 L76.5 465.66 L76.75 464.88 L77 463.61 L77.25 461.99 L77.5 460.2 L77.75 458.44 L78 456.68 L78.25 454.81 L78.5 453.1 L78.75 451.55 L79 450.09 L79.25 448.9 L79.5 448.14 L79.75 447.52 L80 447.04 L80.25 446.81 L80.5 446.95 L80.75 447.46 L81 448.18 L81.25 448.96 L81.5 449.93 L81.75 451.15 L82 452.53 L82.25 454.01 L82.5 455.79 L82.75 457.84 L83 459.95 L83.25 461.89 L83.5 463.51 L83.75 464.98 L84 466.35 L84.25 467.59 L84.5 468.7 L84.75 469.69 L85 470.68 L85.25 471.59 L85.5 472.32 L85.75 472.76 L86 472.91 L86.25 473.01 L86.5 473.1 L86.5 473.1 Z" stroke="none" fill="#6b90b8" stroke-width="1"/>
<polyline points="69.75,472.69 70,472.58 70.25,472.46 70.5,472.34 70.75,472.2 71,472.06 71.25,471.91 71.5,471.76 71.75,471.59 72,471.42 72.25,471.24 72.5,471.04 72.75,470.82 73,470.58 73.25,470.33 73.5,470.05 73.75,469.75 74,469.45 74.25,469.13 74.5,468.8 74.75,468.47 75,468.14 75.25,467.82 75.5,467.49 75.75,467.13 76,466.72 76.25,466.24 76.5,465.66 76.75,464.88 77,463.61 77.25,461.99 77.5,460.2 77.75,458.44 78,456.68 78.25,454.81 78.5,453.1 78.75,451.55 79,450.09 79.25,448.9 79.5,448.14 79.75,447.52 80,447.04 80.25,446.81 80.5,446.95 80.75,447.46 81,448.18 81.25,448.96 81.5,449.93 81.75,451.15 82,452.53 82.25,454.01 82.5,455.79 82.75,457.84 83,459.95 83.25,461.89 83.5,463.51 83.75,464.98 84,466.35 84.25,467.59 84.5,468.7 84.75,469.69 85,470.68 85.25,471.59 85.5,472.32" stroke="#2e557d" fill="none" stroke-width="0.7" stroke-linejoin="round"/>
<path d="M43.5 487.7 L43.5 487.7 L43.75 487.61 L44 487.52 L44.25 487.43 L44.5 487.35 L44.75 487.27 L45 487.19 L45.25 487.11 L45.5 487.03 L45.75 486.94 L46 486.85 L46.25 486.76 L46.5 486.65 L46.75 486.54 L47 486.42 L47.25 486.29 L47.5 486.14 L47.75 485.97 L48 485.78 L48.25 485.56 L48.5 485.31 L48.75 485.05 L49 484.76 L49.25 484.45 L49.5 484.12 L49.75 483.77 L50 483.4 L50.25 483 L50.5 482.55 L50.75 482.04 L51 481.47 L51.25 480.81 L51.5 480.07 L51.75 479.21 L52 477.96 L52.25 476.3 L52.5 474.43 L52.75 472.5 L53 470.64 L53.25 468.45 L53.5 466.31 L53.75 464.78 L54 463.99 L54.25 463.3 L54.5 462.71 L54.75 462.25 L55 461.94 L55.25 461.8 L55.5 461.82 L55.75 461.91 L56 462.06 L56.25 462.27 L56.5 462.53 L56.75 462.83 L57 463.19 L57.25 463.58 L57.5 464 L57.75 464.65 L58 465.64 L58.25 466.89 L58.5 468.3 L58.75 470.16 L59 472.53 L59.25 474.98 L59.5 477.13 L59.75 479.26 L60 481.25 L60.25 482.85 L60.5 484.02 L60.75 485.09 L61 486 L61.25 486.69 L61.5 487.1 L61.75 487.31 L62 487.45 L62.25 487.57 L62.5 487.7 L62.5 487.7 Z" stroke="none" fill="#c3d3e5" stroke-width="1"/>
<polyline points="44.75,487.27 45,487.19 45.25,487.11 45.5,487.03 45.75,486.94 46,486.85 46.25,486.76 46.5,486.65 46.75,486.54 47,486.42 47.25,486.29 47.5,486.14 47.75,485.97 48,485.78 48.25,485.56 48.5,485.31 48.75,485.05 49,484.76 49.25,484.45 49.5,484.12 49.75,483.77 50,483.4 50.25,483 50.5,482.55 50.75,482.04 51,481.47 51.25,480.81 51.5,480.07 51.75,479.21 52,477.96 52.25,476.3 52.5,474.43 52.75,472.5 53,470.64 53.25,468.45 53.5,466.31 53.75,464.78 54,463.99 54.25,463.3 54.5,462.71 54.75,462.25 55,461.94 55.25,461.8 55.5,461.82 55.75,461.91 56,462.06 56.25,462.27 56.5,462.53 56.75,462.83 57,463.19 57.25,463.58 57.5,464 57.75,464.65 58,465.64 58.25,466.89 58.5,468.3 58.75,470.16 59,472.53 59.25,474.98 59.5,477.13 59.75,479.26 60,481.25 60.25,482.85 60.5,484.02 60.75,485.09 61,486 61.25,486.69 61.5,487.1 61.75,487.31" stroke="#4f6f90" fill="none" stroke-width="0.7" stroke-linejoin="round"/>
<path d="M59.5 502.6 L59.5 502.6 L59.75 502.54 L60 502.48 L60.25 502.42 L60.5 502.36 L60.75 502.3 L61 502.24 L61.25 502.18 L61.5 502.12 L61.75 502.06 L62 502 L62.25 501.94 L62.5 501.89 L62.75 501.84 L63 501.79 L63.25 501.75 L63.5 501.7 L63.75 501.65 L64 501.6 L64.25 501.54 L64.5 501.49 L64.75 501.43 L65 501.36 L65.25 501.28 L65.5 501.21 L65.75 501.12 L66 501.03 L66.25 500.93 L66.5 500.82 L66.75 500.71 L67 500.58 L67.25 500.45 L67.5 500.31 L67.75 500.16 L68 500 L68.25 499.84 L68.5 499.65 L68.75 499.43 L69 499.18 L69.25 498.91 L69.5 498.61 L69.75 498.29 L70 497.94 L70.25 497.57 L70.5 497.19 L70.75 496.78 L71 496.35 L71.25 495.86 L71.5 495.31 L71.75 494.72 L72 494.08 L72.25 493.4 L72.5 492.69 L72.75 491.94 L73 491.08 L73.25 490.14 L73.5 489.15 L73.75 488.13 L74 487.11 L74.25 486.1 L74.5 485.03 L74.75 483.89 L75 482.75 L75.25 481.67 L75.5 480.72 L75.75 479.96 L76 479.25 L76.25 478.55 L76.5 477.92 L76.75 477.41 L77 477.09 L77.25 477.02 L77.5 477.5 L77.75 478.5 L78 479.83 L78.25 481.26 L78.5 482.6 L78.75 483.9 L79 485.31 L79.25 486.77 L79.5 488.21 L79.75 489.56 L80 490.91 L80.25 492.28 L80.5 493.6 L80.75 494.84 L81 495.95 L81.25 496.87 L81.5 497.71 L81.75 498.52 L82 499.28 L82.25 499.97 L82.5 500.58 L82.75 501.09 L83 501.48 L83.25 501.75 L83.5 501.96 L83.75 502.13 L84 502.29 L84.25 502.44 L84.5 502.6 L84.5 502.6 Z" stroke="none" fill="#dc5872" stroke-width="1"/>
<polyline points="61,502.24 61.25,502.18 61.5,502.12 61.75,502.06 62,502 62.25,501.94 62.5,501.89 62.75,501.84 63,501.79 63.25,501.75 63.5,501.7 63.75,501.65 64,501.6 64.25,501.54 64.5,501.49 64.75,501.43 65,501.36 65.25,501.28 65.5,501.21 65.75,501.12 66,501.03 66.25,500.93 66.5,500.82 66.75,500.71 67,500.58 67.25,500.45 67.5,500.31 67.75,500.16 68,500 68.25,499.84 68.5,499.65 68.75,499.43 69,499.18 69.25,498.91 69.5,498.61 69.75,498.29 70,497.94 70.25,497.57 70.5,497.19 70.75,496.78 71,496.35 71.25,495.86 71.5,495.31 71.75,494.72 72,494.08 72.25,493.4 72.5,492.69 72.75,491.94 73,491.08 73.25,490.14 73.5,489.15 73.75,488.13 74,487.11 74.25,486.1 74.5,485.03 74.75,483.89 75,482.75 75.25,481.67 75.5,480.72 75.75,479.96 76,479.25 76.25,478.55 76.5,477.92 76.75,477.41 77,477.09 77.25,477.02 77.5,477.5 77.75,478.5 78,479.83 78.25,481.26 78.5,482.6 78.75,483.9 79,485.31 79.25,486.77 79.5,488.21 79.75,489.56 80,490.91 80.25,492.28 80.5,493.6 80.75,494.84 81,495.95 81.25,496.87 81.5,497.71 81.75,498.52 82,499.28 82.25,499.97 82.5,500.58 82.75,501.09 83,501.48 83.25,501.75 83.5,501.96 83.75,502.13" stroke="#a8223e" fill="none" stroke-width="0.7" stroke-linejoin="round"/>
<path d="M32 517.2 L32 517.2 L32.25 517.15 L32.5 517.11 L32.75 517.06 L33 517.02 L33.25 516.98 L33.5 516.93 L33.75 516.89 L34 516.85 L34.25 516.81 L34.5 516.77 L34.75 516.72 L35 516.68 L35.25 516.63 L35.5 516.58 L35.75 516.53 L36 516.48 L36.25 516.43 L36.5 516.37 L36.75 516.31 L37 516.25 L37.25 516.19 L37.5 516.12 L37.75 516.05 L38 515.98 L38.25 515.9 L38.5 515.82 L38.75 515.74 L39 515.65 L39.25 515.56 L39.5 515.45 L39.75 515.34 L40 515.22 L40.25 515.09 L40.5 514.95 L40.75 514.8 L41 514.63 L41.25 514.42 L41.5 514.16 L41.75 513.86 L42 513.52 L42.25 513.14 L42.5 512.73 L42.75 512.29 L43 511.81 L43.25 511.31 L43.5 510.78 L43.75 510.15 L44 509.42 L44.25 508.6 L44.5 507.69 L44.75 506.72 L45 505.65 L45.25 504.33 L45.5 502.81 L45.75 501.23 L46 499.74 L46.25 498.46 L46.5 497.24 L46.75 496.06 L47 495 L47.25 494.16 L47.5 493.6 L47.75 493.13 L48 492.71 L48.25 492.35 L48.5 492.08 L48.75 491.93 L49 491.92 L49.25 492.16 L49.5 492.61 L49.75 493.23 L50 493.97 L50.25 494.78 L50.5 495.6 L50.75 496.59 L51 497.86 L51.25 499.28 L51.5 500.72 L51.75 502.06 L52 503.38 L52.25 504.73 L52.5 506.03 L52.75 507.24 L53 508.32 L53.25 509.33 L53.5 510.31 L53.75 511.22 L54 512.07 L54.25 512.83 L54.5 513.5 L54.75 514.12 L55 514.72 L55.25 515.29 L55.5 515.81 L55.75 516.26 L56 516.62 L56.25 516.87 L56.5 517.01 L56.75 517.1 L57 517.2 L57 517.2 Z" stroke="none" fill="#f2bcc7" stroke-width="1"/>
<polyline points="34.25,516.81 34.5,516.77 34.75,516.72 35,516.68 35.25,516.63 35.5,516.58 35.75,516.53 36,516.48 36.25,516.43 36.5,516.37 36.75,516.31 37,516.25 37.25,516.19 37.5,516.12 37.75,516.05 38,515.98 38.25,515.9 38.5,515.82 38.75,515.74 39,515.65 39.25,515.56 39.5,515.45 39.75,515.34 40,515.22 40.25,515.09 40.5,514.95 40.75,514.8 41,514.63 41.25,514.42 41.5,514.16 41.75,513.86 42,513.52 42.25,513.14 42.5,512.73 42.75,512.29 43,511.81 43.25,511.31 43.5,510.78 43.75,510.15 44,509.42 44.25,508.6 44.5,507.69 44.75,506.72 45,505.65 45.25,504.33 45.5,502.81 45.75,501.23 46,499.74 46.25,498.46 46.5,497.24 46.75,496.06 47,495 47.25,494.16 47.5,493.6 47.75,493.13 48,492.71 48.25,492.35 48.5,492.08 48.75,491.93 49,491.92 49.25,492.16 49.5,492.61 49.75,493.23 50,493.97 50.25,494.78 50.5,495.6 50.75,496.59 51,497.86 51.25,499.28 51.5,500.72 51.75,502.06 52,503.38 52.25,504.73 52.5,506.03 52.75,507.24 53,508.32 53.25,509.33 53.5,510.31 53.75,511.22 54,512.07 54.25,512.83 54.5,513.5 54.75,514.12 55,514.72 55.25,515.29 55.5,515.81 55.75,516.26 56,516.62" stroke="#c0485e" fill="none" stroke-width="0.7" stroke-linejoin="round"/>
<line x1="22.4" y1="473.1" x2="97.3" y2="473.1" stroke="#8497ac" stroke-width="1"/>
<line x1="22.4" y1="487.7" x2="97.3" y2="487.7" stroke="#8497ac" stroke-width="1"/>
<line x1="22.4" y1="502.6" x2="97.3" y2="502.6" stroke="#e47a8e" stroke-width="1"/>
<line x1="22.9" y1="489" x2="22.9" y2="503" stroke="#d03050" stroke-width="1.2"/>
<line x1="24.96" y1="517.2" x2="24.96" y2="516.1" stroke="#555" stroke-width="0.5"/>
<line x1="27.74" y1="517.2" x2="27.74" y2="516.1" stroke="#555" stroke-width="0.5"/>
<line x1="29.71" y1="517.2" x2="29.71" y2="516.1" stroke="#555" stroke-width="0.5"/>
<line x1="31.24" y1="517.2" x2="31.24" y2="516.1" stroke="#555" stroke-width="0.5"/>
<line x1="32.49" y1="517.2" x2="32.49" y2="516.1" stroke="#555" stroke-width="0.5"/>
<line x1="33.55" y1="517.2" x2="33.55" y2="516.1" stroke="#555" stroke-width="0.5"/>
<line x1="34.47" y1="517.2" x2="34.47" y2="516.1" stroke="#555" stroke-width="0.5"/>
<line x1="35.28" y1="517.2" x2="35.28" y2="516.1" stroke="#555" stroke-width="0.5"/>
<line x1="36" y1="517.2" x2="36" y2="515.2" stroke="#555" stroke-width="0.5"/>
<line x1="40.76" y1="517.2" x2="40.76" y2="516.1" stroke="#555" stroke-width="0.5"/>
<line x1="43.54" y1="517.2" x2="43.54" y2="516.1" stroke="#555" stroke-width="0.5"/>
<line x1="45.51" y1="517.2" x2="45.51" y2="516.1" stroke="#555" stroke-width="0.5"/>
<line x1="47.04" y1="517.2" x2="47.04" y2="516.1" stroke="#555" stroke-width="0.5"/>
<line x1="48.29" y1="517.2" x2="48.29" y2="516.1" stroke="#555" stroke-width="0.5"/>
<line x1="49.35" y1="517.2" x2="49.35" y2="516.1" stroke="#555" stroke-width="0.5"/>
<line x1="50.27" y1="517.2" x2="50.27" y2="516.1" stroke="#555" stroke-width="0.5"/>
<line x1="51.08" y1="517.2" x2="51.08" y2="516.1" stroke="#555" stroke-width="0.5"/>
<line x1="51.8" y1="517.2" x2="51.8" y2="515.2" stroke="#555" stroke-width="0.5"/>
<line x1="56.56" y1="517.2" x2="56.56" y2="516.1" stroke="#555" stroke-width="0.5"/>
<line x1="59.34" y1="517.2" x2="59.34" y2="516.1" stroke="#555" stroke-width="0.5"/>
<line x1="61.31" y1="517.2" x2="61.31" y2="516.1" stroke="#555" stroke-width="0.5"/>
<line x1="62.84" y1="517.2" x2="62.84" y2="516.1" stroke="#555" stroke-width="0.5"/>
<line x1="64.09" y1="517.2" x2="64.09" y2="516.1" stroke="#555" stroke-width="0.5"/>
<line x1="65.15" y1="517.2" x2="65.15" y2="516.1" stroke="#555" stroke-width="0.5"/>
<line x1="66.07" y1="517.2" x2="66.07" y2="516.1" stroke="#555" stroke-width="0.5"/>
<line x1="66.88" y1="517.2" x2="66.88" y2="516.1" stroke="#555" stroke-width="0.5"/>
<line x1="67.6" y1="517.2" x2="67.6" y2="515.2" stroke="#555" stroke-width="0.5"/>
<line x1="72.36" y1="517.2" x2="72.36" y2="516.1" stroke="#555" stroke-width="0.5"/>
<line x1="75.14" y1="517.2" x2="75.14" y2="516.1" stroke="#555" stroke-width="0.5"/>
<line x1="77.11" y1="517.2" x2="77.11" y2="516.1" stroke="#555" stroke-width="0.5"/>
<line x1="78.64" y1="517.2" x2="78.64" y2="516.1" stroke="#555" stroke-width="0.5"/>
<line x1="79.89" y1="517.2" x2="79.89" y2="516.1" stroke="#555" stroke-width="0.5"/>
<line x1="80.95" y1="517.2" x2="80.95" y2="516.1" stroke="#555" stroke-width="0.5"/>
<line x1="81.87" y1="517.2" x2="81.87" y2="516.1" stroke="#555" stroke-width="0.5"/>
<line x1="82.68" y1="517.2" x2="82.68" y2="516.1" stroke="#555" stroke-width="0.5"/>
<line x1="83.4" y1="517.2" x2="83.4" y2="515.2" stroke="#555" stroke-width="0.5"/>
<line x1="88.16" y1="517.2" x2="88.16" y2="516.1" stroke="#555" stroke-width="0.5"/>
<line x1="90.94" y1="517.2" x2="90.94" y2="516.1" stroke="#555" stroke-width="0.5"/>
<line x1="92.91" y1="517.2" x2="92.91" y2="516.1" stroke="#555" stroke-width="0.5"/>
<line x1="94.44" y1="517.2" x2="94.44" y2="516.1" stroke="#555" stroke-width="0.5"/>
<line x1="95.69" y1="517.2" x2="95.69" y2="516.1" stroke="#555" stroke-width="0.5"/>
<line x1="96.75" y1="517.2" x2="96.75" y2="516.1" stroke="#555" stroke-width="0.5"/>
<rect x="22.4" y="442.3" width="74.9" height="74.9" fill="none" stroke="#222" stroke-width="1"/>
<text x="17.3" y="528.8" font-size="7" stroke="#1a1a1a" stroke-width="0.25" fill="#1a1a1a" textLength="8.05" lengthAdjust="spacingAndGlyphs">10</text>
<text x="25.65" y="525.51" font-size="4.7" stroke="#1a1a1a" stroke-width="0.15" fill="#1a1a1a">2</text>
<text x="32.8" y="528.8" font-size="7" stroke="#1a1a1a" stroke-width="0.25" fill="#1a1a1a" textLength="8.05" lengthAdjust="spacingAndGlyphs">10</text>
<text x="41.15" y="525.51" font-size="4.7" stroke="#1a1a1a" stroke-width="0.15" fill="#1a1a1a">3</text>
<text x="48.6" y="528.8" font-size="7" stroke="#1a1a1a" stroke-width="0.25" fill="#1a1a1a" textLength="8.05" lengthAdjust="spacingAndGlyphs">10</text>
<text x="56.95" y="525.51" font-size="4.7" stroke="#1a1a1a" stroke-width="0.15" fill="#1a1a1a">4</text>
<text x="64.4" y="528.8" font-size="7" stroke="#1a1a1a" stroke-width="0.25" fill="#1a1a1a" textLength="8.05" lengthAdjust="spacingAndGlyphs">10</text>
<text x="72.75" y="525.51" font-size="4.7" stroke="#1a1a1a" stroke-width="0.15" fill="#1a1a1a">5</text>
<text x="80.3" y="528.8" font-size="7" stroke="#1a1a1a" stroke-width="0.25" fill="#1a1a1a" textLength="8.05" lengthAdjust="spacingAndGlyphs">10</text>
<text x="88.65" y="525.51" font-size="4.7" stroke="#1a1a1a" stroke-width="0.15" fill="#1a1a1a">6</text>
<text x="20.6" y="542" font-size="9" stroke="#111" stroke-width="0.1" font-weight="bold" fill="#111" textLength="15.2" lengthAdjust="spacingAndGlyphs">CD58</text>
<line x1="38.5" y1="539.3" x2="93" y2="539.3" stroke="#222" stroke-width="0.9"/>
<path d="M96.8 539.3 L92.2 537.1 L92.2 541.5 Z" stroke="none" fill="#222" stroke-width="1"/>
<text x="100.6" y="467.5" font-size="7" stroke="#222" stroke-width="0.22" textLength="23.4" lengthAdjust="spacingAndGlyphs">Control</text>
<text x="100.6" y="482.3" font-size="7" stroke="#222" stroke-width="0.22" textLength="23.4" lengthAdjust="spacingAndGlyphs">αCD58</text>
<text x="100.6" y="497.3" font-size="7" stroke="#222" stroke-width="0.22" textLength="23.4" lengthAdjust="spacingAndGlyphs">Control</text>
<text x="100.6" y="512.3" font-size="7" stroke="#222" stroke-width="0.22" textLength="23.4" lengthAdjust="spacingAndGlyphs">αCD58</text>
<line x1="128.4" y1="462" x2="128.4" y2="483" stroke="#333" stroke-width="0.8"/>
<line x1="128.4" y1="492.7" x2="128.4" y2="513" stroke="#333" stroke-width="0.8"/>
<text x="0" y="0" font-size="7" fill="#222" stroke="#222" stroke-width="0.2" transform="translate(131.9 472.8) rotate(90)" text-anchor="middle">Nalm6</text>
<text x="0" y="0" font-size="7" fill="#222" stroke="#222" stroke-width="0.2" transform="translate(131.9 502.8) rotate(90)" text-anchor="middle">Raji</text>
<text x="156.3" y="432.2" font-size="10" stroke="#000" stroke-width="0.45" font-weight="bold" fill="#000">N</text>
<line x1="187.5" y1="434.5" x2="187.5" y2="517.5" stroke="#222" stroke-width="1.1"/>
<line x1="187" y1="517" x2="241.3" y2="517" stroke="#222" stroke-width="1.1"/>
<line x1="184.5" y1="517" x2="187.5" y2="517" stroke="#222" stroke-width="0.9"/>
<text x="181.2" y="519.6" font-size="7.6" stroke="#1a1a1a" stroke-width="0.18" text-anchor="end" fill="#1a1a1a">0</text>
<line x1="184.5" y1="497.12" x2="187.5" y2="497.12" stroke="#222" stroke-width="0.9"/>
<text x="181.2" y="499.73" font-size="7.6" stroke="#1a1a1a" stroke-width="0.18" text-anchor="end" fill="#1a1a1a">20</text>
<line x1="184.5" y1="477.25" x2="187.5" y2="477.25" stroke="#222" stroke-width="0.9"/>
<text x="181.2" y="479.85" font-size="7.6" stroke="#1a1a1a" stroke-width="0.18" text-anchor="end" fill="#1a1a1a">40</text>
<line x1="184.5" y1="457.38" x2="187.5" y2="457.38" stroke="#222" stroke-width="0.9"/>
<text x="181.2" y="459.98" font-size="7.6" stroke="#1a1a1a" stroke-width="0.18" text-anchor="end" fill="#1a1a1a">60</text>
<line x1="184.5" y1="437.5" x2="187.5" y2="437.5" stroke="#222" stroke-width="0.9"/>
<text x="181.2" y="440.1" font-size="7.6" stroke="#1a1a1a" stroke-width="0.18" text-anchor="end" fill="#1a1a1a">80</text>
<line x1="199.9" y1="517" x2="199.9" y2="520" stroke="#222" stroke-width="0.9"/>
<text x="199.9" y="529.2" font-size="7.6" stroke="#1a1a1a" stroke-width="0.18" text-anchor="middle" fill="#1a1a1a">Nalm6</text>
<rect x="191.15" y="490.17" width="6.9" height="26.83" fill="#4f7ca8"/>
<line x1="194.6" y1="495.14" x2="194.6" y2="485.2" stroke="#1d4f7e" stroke-width="0.8"/>
<line x1="193.3" y1="485.2" x2="195.9" y2="485.2" stroke="#1d4f7e" stroke-width="0.8"/>
<line x1="193.3" y1="495.14" x2="195.9" y2="495.14" stroke="#1d4f7e" stroke-width="0.8"/>
<circle cx="193.7" cy="492.65" r="1.1" fill="#1d4f7e"/>
<circle cx="194.6" cy="490.17" r="1.1" fill="#1d4f7e"/>
<circle cx="195.5" cy="488.18" r="1.1" fill="#1d4f7e"/>
<rect x="201.75" y="501.6" width="6.9" height="15.4" fill="#a9c1da"/>
<line x1="205.2" y1="504.08" x2="205.2" y2="499.11" stroke="#1d4f7e" stroke-width="0.8"/>
<line x1="203.9" y1="499.11" x2="206.5" y2="499.11" stroke="#1d4f7e" stroke-width="0.8"/>
<line x1="203.9" y1="504.08" x2="206.5" y2="504.08" stroke="#1d4f7e" stroke-width="0.8"/>
<circle cx="204.3" cy="502.84" r="1.1" fill="#1d4f7e"/>
<circle cx="205.2" cy="501.6" r="1.1" fill="#1d4f7e"/>
<circle cx="206.1" cy="500.6" r="1.1" fill="#1d4f7e"/>
<line x1="227.85" y1="517" x2="227.85" y2="520" stroke="#222" stroke-width="0.9"/>
<text x="227.85" y="529.2" font-size="7.6" stroke="#1a1a1a" stroke-width="0.18" text-anchor="middle" fill="#1a1a1a">Raji</text>
<rect x="218.75" y="462.84" width="6.9" height="54.16" fill="#4f7ca8"/>
<line x1="222.2" y1="465.32" x2="222.2" y2="460.36" stroke="#1d4f7e" stroke-width="0.8"/>
<line x1="220.9" y1="460.36" x2="223.5" y2="460.36" stroke="#1d4f7e" stroke-width="0.8"/>
<line x1="220.9" y1="465.32" x2="223.5" y2="465.32" stroke="#1d4f7e" stroke-width="0.8"/>
<circle cx="221.3" cy="464.08" r="1.1" fill="#1d4f7e"/>
<circle cx="222.2" cy="462.84" r="1.1" fill="#1d4f7e"/>
<circle cx="223.1" cy="461.85" r="1.1" fill="#1d4f7e"/>
<rect x="230.05" y="478.74" width="6.9" height="38.26" fill="#a9c1da"/>
<line x1="233.5" y1="486.69" x2="233.5" y2="470.79" stroke="#1d4f7e" stroke-width="0.8"/>
<line x1="232.2" y1="470.79" x2="234.8" y2="470.79" stroke="#1d4f7e" stroke-width="0.8"/>
<line x1="232.2" y1="486.69" x2="234.8" y2="486.69" stroke="#1d4f7e" stroke-width="0.8"/>
<circle cx="232.6" cy="482.72" r="1.1" fill="#1d4f7e"/>
<circle cx="233.5" cy="478.74" r="1.1" fill="#1d4f7e"/>
<circle cx="234.4" cy="475.56" r="1.1" fill="#1d4f7e"/>
<line x1="195.5" y1="481.3" x2="205" y2="481.3" stroke="#333" stroke-width="0.9"/>
<circle cx="200.25" cy="478.3" r="1.15" fill="#1a1a1a"/>
<line x1="222.5" y1="455.8" x2="232.5" y2="455.8" stroke="#333" stroke-width="0.9"/>
<circle cx="227.5" cy="452.8" r="1.15" fill="#1a1a1a"/>
<rect x="192" y="432.6" width="5" height="4.8" fill="#4f7ca8"/>
<text x="200.5" y="437.6" font-size="7.2" stroke="#222" stroke-width="0.22">Control</text>
<rect x="192" y="442.1" width="5" height="4.8" fill="#a9c1da"/>
<text x="200.5" y="447.1" font-size="7.2" stroke="#222" stroke-width="0.22">αCD58</text>
<text x="0" y="0" font-size="9" font-weight="bold" fill="#222" textLength="27" lengthAdjust="spacingAndGlyphs" transform="translate(167.3 475.5) rotate(-90)" text-anchor="middle">Lysis (%)</text>
<text x="403.8" y="432.2" font-size="10" stroke="#000" stroke-width="0.45" font-weight="bold" fill="#000">P</text>
<line x1="434.6" y1="434.5" x2="434.6" y2="517.5" stroke="#222" stroke-width="1.1"/>
<line x1="434.1" y1="517" x2="487.5" y2="517" stroke="#222" stroke-width="1.1"/>
<line x1="431.6" y1="517" x2="434.6" y2="517" stroke="#222" stroke-width="0.9"/>
<text x="428.3" y="519.6" font-size="7.6" stroke="#1a1a1a" stroke-width="0.18" text-anchor="end" fill="#1a1a1a">0</text>
<line x1="431.6" y1="497.12" x2="434.6" y2="497.12" stroke="#222" stroke-width="0.9"/>
<text x="428.3" y="499.73" font-size="7.6" stroke="#1a1a1a" stroke-width="0.18" text-anchor="end" fill="#1a1a1a">20</text>
<line x1="431.6" y1="477.25" x2="434.6" y2="477.25" stroke="#222" stroke-width="0.9"/>
<text x="428.3" y="479.85" font-size="7.6" stroke="#1a1a1a" stroke-width="0.18" text-anchor="end" fill="#1a1a1a">40</text>
<line x1="431.6" y1="457.38" x2="434.6" y2="457.38" stroke="#222" stroke-width="0.9"/>
<text x="428.3" y="459.98" font-size="7.6" stroke="#1a1a1a" stroke-width="0.18" text-anchor="end" fill="#1a1a1a">60</text>
<line x1="431.6" y1="437.5" x2="434.6" y2="437.5" stroke="#222" stroke-width="0.9"/>
<text x="428.3" y="440.1" font-size="7.6" stroke="#1a1a1a" stroke-width="0.18" text-anchor="end" fill="#1a1a1a">80</text>
<line x1="447.2" y1="517" x2="447.2" y2="520" stroke="#222" stroke-width="0.9"/>
<text x="447.2" y="529.2" font-size="7.6" stroke="#1a1a1a" stroke-width="0.18" text-anchor="middle" fill="#1a1a1a">Nalm6</text>
<rect x="438.15" y="481.23" width="6.9" height="35.77" fill="#d9506b"/>
<line x1="441.6" y1="483.21" x2="441.6" y2="479.24" stroke="#a8223e" stroke-width="0.8"/>
<line x1="440.3" y1="479.24" x2="442.9" y2="479.24" stroke="#a8223e" stroke-width="0.8"/>
<line x1="440.3" y1="483.21" x2="442.9" y2="483.21" stroke="#a8223e" stroke-width="0.8"/>
<circle cx="440.7" cy="482.22" r="1.1" fill="#a8223e"/>
<circle cx="441.6" cy="481.23" r="1.1" fill="#a8223e"/>
<circle cx="442.5" cy="480.43" r="1.1" fill="#a8223e"/>
<rect x="449.35" y="493.15" width="6.9" height="23.85" fill="#f0aab8"/>
<line x1="452.8" y1="494.64" x2="452.8" y2="491.66" stroke="#a8223e" stroke-width="0.8"/>
<line x1="451.5" y1="491.66" x2="454.1" y2="491.66" stroke="#a8223e" stroke-width="0.8"/>
<line x1="451.5" y1="494.64" x2="454.1" y2="494.64" stroke="#a8223e" stroke-width="0.8"/>
<circle cx="451.9" cy="493.9" r="1.1" fill="#a8223e"/>
<circle cx="452.8" cy="493.15" r="1.1" fill="#a8223e"/>
<circle cx="453.7" cy="492.55" r="1.1" fill="#a8223e"/>
<line x1="475.15" y1="517" x2="475.15" y2="520" stroke="#222" stroke-width="0.9"/>
<text x="475.15" y="529.2" font-size="7.6" stroke="#1a1a1a" stroke-width="0.18" text-anchor="middle" fill="#1a1a1a">Raji</text>
<rect x="466.35" y="472.28" width="6.9" height="44.72" fill="#d9506b"/>
<line x1="469.8" y1="479.24" x2="469.8" y2="465.32" stroke="#a8223e" stroke-width="0.8"/>
<line x1="468.5" y1="465.32" x2="471.1" y2="465.32" stroke="#a8223e" stroke-width="0.8"/>
<line x1="468.5" y1="479.24" x2="471.1" y2="479.24" stroke="#a8223e" stroke-width="0.8"/>
<circle cx="468.9" cy="475.76" r="1.1" fill="#a8223e"/>
<circle cx="469.8" cy="472.28" r="1.1" fill="#a8223e"/>
<circle cx="470.7" cy="469.5" r="1.1" fill="#a8223e"/>
<rect x="477.05" y="488.68" width="6.9" height="28.32" fill="#f0aab8"/>
<line x1="480.5" y1="493.65" x2="480.5" y2="483.71" stroke="#a8223e" stroke-width="0.8"/>
<line x1="479.2" y1="483.71" x2="481.8" y2="483.71" stroke="#a8223e" stroke-width="0.8"/>
<line x1="479.2" y1="493.65" x2="481.8" y2="493.65" stroke="#a8223e" stroke-width="0.8"/>
<circle cx="479.6" cy="491.16" r="1.1" fill="#a8223e"/>
<circle cx="480.5" cy="488.68" r="1.1" fill="#a8223e"/>
<circle cx="481.4" cy="486.69" r="1.1" fill="#a8223e"/>
<line x1="443" y1="475.8" x2="453" y2="475.8" stroke="#333" stroke-width="0.9"/>
<circle cx="446.6" cy="472.8" r="1.15" fill="#1a1a1a"/>
<circle cx="449.4" cy="472.8" r="1.15" fill="#1a1a1a"/>
<line x1="470" y1="462" x2="478.8" y2="462" stroke="#333" stroke-width="0.9"/>
<circle cx="474.4" cy="459" r="1.15" fill="#1a1a1a"/>
<rect x="439.5" y="432.6" width="5" height="4.8" fill="#d9506b"/>
<text x="448" y="437.6" font-size="7.2" stroke="#222" stroke-width="0.22">Control</text>
<rect x="439.5" y="442.1" width="5" height="4.8" fill="#f0aab8"/>
<text x="448" y="447.1" font-size="7.2" stroke="#222" stroke-width="0.22">αCD2</text>
<text x="0" y="0" font-size="9" font-weight="bold" fill="#222" textLength="27" lengthAdjust="spacingAndGlyphs" transform="translate(414.4 475.5) rotate(-90)" text-anchor="middle">Lysis (%)</text>
<text x="259.5" y="432.2" font-size="10" stroke="#000" stroke-width="0.45" font-weight="bold" fill="#000">O</text>
<path d="M323.5 493.3 L323.5 493.3 L323.75 492.91 L324 492.55 L324.25 492.19 L324.5 491.84 L324.75 491.49 L325 491.12 L325.25 490.72 L325.5 490.29 L325.75 489.82 L326 489.3 L326.25 488.7 L326.5 488.02 L326.75 487.25 L327 486.42 L327.25 485.53 L327.5 484.58 L327.75 483.59 L328 482.58 L328.25 481.53 L328.5 480.46 L328.75 479.28 L329 477.98 L329.25 476.6 L329.5 475.16 L329.75 473.69 L330 472.21 L330.25 470.77 L330.5 469.39 L330.75 468.09 L331 466.9 L331.25 465.78 L331.5 464.67 L331.75 463.57 L332 462.5 L332.25 461.47 L332.5 460.5 L332.75 459.58 L333 458.73 L333.25 457.97 L333.5 457.3 L333.75 456.65 L334 456.01 L334.25 455.43 L334.5 455.01 L334.75 454.81 L335 454.94 L335.25 455.46 L335.5 456.26 L335.75 457.24 L336 458.31 L336.25 459.36 L336.5 460.3 L336.75 461.19 L337 462.12 L337.25 463.01 L337.5 463.8 L337.75 464.49 L338 465.15 L338.25 465.76 L338.5 466.33 L338.75 466.84 L339 467.3 L339.25 467.67 L339.5 467.97 L339.75 468.24 L340 468.52 L340.25 468.86 L340.5 469.3 L340.75 470 L341 471 L341.25 472.19 L341.5 473.46 L341.75 474.7 L342 475.8 L342.25 476.77 L342.5 477.7 L342.75 478.6 L343 479.49 L343.25 480.36 L343.5 481.24 L343.75 482.12 L344 483.03 L344.25 483.99 L344.5 484.96 L344.75 485.9 L345 486.8 L345.25 487.61 L345.5 488.3 L345.75 488.92 L346 489.53 L346.25 490.12 L346.5 490.68 L346.75 491.19 L347 491.66 L347.25 492.07 L347.5 492.42 L347.75 492.68 L348 492.86 L348.25 493 L348.5 493.1 L348.75 493.2 L349 493.3 L349 493.3 Z" stroke="none" fill="#dc5872" stroke-width="1"/>
<polyline points="323.75,492.91 324,492.55 324.25,492.19 324.5,491.84 324.75,491.49 325,491.12 325.25,490.72 325.5,490.29 325.75,489.82 326,489.3 326.25,488.7 326.5,488.02 326.75,487.25 327,486.42 327.25,485.53 327.5,484.58 327.75,483.59 328,482.58 328.25,481.53 328.5,480.46 328.75,479.28 329,477.98 329.25,476.6 329.5,475.16 329.75,473.69 330,472.21 330.25,470.77 330.5,469.39 330.75,468.09 331,466.9 331.25,465.78 331.5,464.67 331.75,463.57 332,462.5 332.25,461.47 332.5,460.5 332.75,459.58 333,458.73 333.25,457.97 333.5,457.3 333.75,456.65 334,456.01 334.25,455.43 334.5,455.01 334.75,454.81 335,454.94 335.25,455.46 335.5,456.26 335.75,457.24 336,458.31 336.25,459.36 336.5,460.3 336.75,461.19 337,462.12 337.25,463.01 337.5,463.8 337.75,464.49 338,465.15 338.25,465.76 338.5,466.33 338.75,466.84 339,467.3 339.25,467.67 339.5,467.97 339.75,468.24 340,468.52 340.25,468.86 340.5,469.3 340.75,470 341,471 341.25,472.19 341.5,473.46 341.75,474.7 342,475.8 342.25,476.77 342.5,477.7 342.75,478.6 343,479.49 343.25,480.36 343.5,481.24 343.75,482.12 344,483.03 344.25,483.99 344.5,484.96 344.75,485.9 345,486.8 345.25,487.61 345.5,488.3 345.75,488.92 346,489.53 346.25,490.12 346.5,490.68 346.75,491.19 347,491.66 347.25,492.07 347.5,492.42 347.75,492.68 348,492.86" stroke="#a8223e" fill="none" stroke-width="0.7" stroke-linejoin="round"/>
<path d="M309 517.5 L309 517.5 L309.25 517.03 L309.5 516.57 L309.75 516.12 L310 515.67 L310.25 515.22 L310.5 514.76 L310.75 514.28 L311 513.78 L311.25 513.26 L311.5 512.7 L311.75 512.11 L312 511.49 L312.25 510.85 L312.5 510.17 L312.75 509.47 L313 508.74 L313.25 507.97 L313.5 507.18 L313.75 506.36 L314 505.5 L314.25 504.57 L314.5 503.53 L314.75 502.4 L315 501.21 L315.25 499.98 L315.5 498.74 L315.75 497.5 L316 496.28 L316.25 495.12 L316.5 494.03 L316.75 493.04 L317 492.16 L317.25 491.3 L317.5 490.46 L317.75 489.64 L318 488.88 L318.25 488.16 L318.5 487.52 L318.75 486.96 L319 486.5 L319.25 486.08 L319.5 485.67 L319.75 485.29 L320 484.96 L320.25 484.7 L320.5 484.54 L320.75 484.52 L321 485.04 L321.25 485.95 L321.5 486.79 L321.75 487.24 L322 487.6 L322.25 487.79 L322.5 487.66 L322.75 487.3 L323 487.1 L323.25 487.45 L323.5 488.33 L323.75 489.49 L324 490.69 L324.25 491.67 L324.5 492.52 L324.75 493.35 L325 494.16 L325.25 494.98 L325.5 495.81 L325.75 496.68 L326 497.58 L326.25 498.53 L326.5 499.5 L326.75 500.48 L327 501.45 L327.25 502.41 L327.5 503.33 L327.75 504.19 L328 505 L328.25 505.75 L328.5 506.47 L328.75 507.17 L329 507.83 L329.25 508.48 L329.5 509.11 L329.75 509.73 L330 510.34 L330.25 510.94 L330.5 511.54 L330.75 512.18 L331 512.84 L331.25 513.51 L331.5 514.17 L331.75 514.81 L332 515.4 L332.25 515.94 L332.5 516.39 L332.75 516.75 L333 517 L333.25 517.16 L333.5 517.28 L333.75 517.39 L334 517.5 L334 517.5 Z" stroke="none" fill="#f2bcc7" stroke-width="1"/>
<polyline points="309.25,517.03 309.5,516.57 309.75,516.12 310,515.67 310.25,515.22 310.5,514.76 310.75,514.28 311,513.78 311.25,513.26 311.5,512.7 311.75,512.11 312,511.49 312.25,510.85 312.5,510.17 312.75,509.47 313,508.74 313.25,507.97 313.5,507.18 313.75,506.36 314,505.5 314.25,504.57 314.5,503.53 314.75,502.4 315,501.21 315.25,499.98 315.5,498.74 315.75,497.5 316,496.28 316.25,495.12 316.5,494.03 316.75,493.04 317,492.16 317.25,491.3 317.5,490.46 317.75,489.64 318,488.88 318.25,488.16 318.5,487.52 318.75,486.96 319,486.5 319.25,486.08 319.5,485.67 319.75,485.29 320,484.96 320.25,484.7 320.5,484.54 320.75,484.52 321,485.04 321.25,485.95 321.5,486.79 321.75,487.24 322,487.6 322.25,487.79 322.5,487.66 322.75,487.3 323,487.1 323.25,487.45 323.5,488.33 323.75,489.49 324,490.69 324.25,491.67 324.5,492.52 324.75,493.35 325,494.16 325.25,494.98 325.5,495.81 325.75,496.68 326,497.58 326.25,498.53 326.5,499.5 326.75,500.48 327,501.45 327.25,502.41 327.5,503.33 327.75,504.19 328,505 328.25,505.75 328.5,506.47 328.75,507.17 329,507.83 329.25,508.48 329.5,509.11 329.75,509.73 330,510.34 330.25,510.94 330.5,511.54 330.75,512.18 331,512.84 331.25,513.51 331.5,514.17 331.75,514.81 332,515.4 332.25,515.94 332.5,516.39 332.75,516.75 333,517" stroke="#c0485e" fill="none" stroke-width="0.7" stroke-linejoin="round"/>
<line x1="283.8" y1="493.3" x2="358.2" y2="493.3" stroke="#e47a8e" stroke-width="1"/>
<line x1="286.5" y1="517.5" x2="286.5" y2="515.5" stroke="#555" stroke-width="0.5"/>
<line x1="291.41" y1="517.5" x2="291.41" y2="516.4" stroke="#555" stroke-width="0.5"/>
<line x1="294.28" y1="517.5" x2="294.28" y2="516.4" stroke="#555" stroke-width="0.5"/>
<line x1="296.31" y1="517.5" x2="296.31" y2="516.4" stroke="#555" stroke-width="0.5"/>
<line x1="297.89" y1="517.5" x2="297.89" y2="516.4" stroke="#555" stroke-width="0.5"/>
<line x1="299.18" y1="517.5" x2="299.18" y2="516.4" stroke="#555" stroke-width="0.5"/>
<line x1="300.28" y1="517.5" x2="300.28" y2="516.4" stroke="#555" stroke-width="0.5"/>
<line x1="301.22" y1="517.5" x2="301.22" y2="516.4" stroke="#555" stroke-width="0.5"/>
<line x1="302.05" y1="517.5" x2="302.05" y2="516.4" stroke="#555" stroke-width="0.5"/>
<line x1="302.8" y1="517.5" x2="302.8" y2="515.5" stroke="#555" stroke-width="0.5"/>
<line x1="307.71" y1="517.5" x2="307.71" y2="516.4" stroke="#555" stroke-width="0.5"/>
<line x1="310.58" y1="517.5" x2="310.58" y2="516.4" stroke="#555" stroke-width="0.5"/>
<line x1="312.61" y1="517.5" x2="312.61" y2="516.4" stroke="#555" stroke-width="0.5"/>
<line x1="314.19" y1="517.5" x2="314.19" y2="516.4" stroke="#555" stroke-width="0.5"/>
<line x1="315.48" y1="517.5" x2="315.48" y2="516.4" stroke="#555" stroke-width="0.5"/>
<line x1="316.58" y1="517.5" x2="316.58" y2="516.4" stroke="#555" stroke-width="0.5"/>
<line x1="317.52" y1="517.5" x2="317.52" y2="516.4" stroke="#555" stroke-width="0.5"/>
<line x1="318.35" y1="517.5" x2="318.35" y2="516.4" stroke="#555" stroke-width="0.5"/>
<line x1="319.1" y1="517.5" x2="319.1" y2="515.5" stroke="#555" stroke-width="0.5"/>
<line x1="324.01" y1="517.5" x2="324.01" y2="516.4" stroke="#555" stroke-width="0.5"/>
<line x1="326.88" y1="517.5" x2="326.88" y2="516.4" stroke="#555" stroke-width="0.5"/>
<line x1="328.91" y1="517.5" x2="328.91" y2="516.4" stroke="#555" stroke-width="0.5"/>
<line x1="330.49" y1="517.5" x2="330.49" y2="516.4" stroke="#555" stroke-width="0.5"/>
<line x1="331.78" y1="517.5" x2="331.78" y2="516.4" stroke="#555" stroke-width="0.5"/>
<line x1="332.88" y1="517.5" x2="332.88" y2="516.4" stroke="#555" stroke-width="0.5"/>
<line x1="333.82" y1="517.5" x2="333.82" y2="516.4" stroke="#555" stroke-width="0.5"/>
<line x1="334.65" y1="517.5" x2="334.65" y2="516.4" stroke="#555" stroke-width="0.5"/>
<line x1="335.4" y1="517.5" x2="335.4" y2="515.5" stroke="#555" stroke-width="0.5"/>
<line x1="340.31" y1="517.5" x2="340.31" y2="516.4" stroke="#555" stroke-width="0.5"/>
<line x1="343.18" y1="517.5" x2="343.18" y2="516.4" stroke="#555" stroke-width="0.5"/>
<line x1="345.21" y1="517.5" x2="345.21" y2="516.4" stroke="#555" stroke-width="0.5"/>
<line x1="346.79" y1="517.5" x2="346.79" y2="516.4" stroke="#555" stroke-width="0.5"/>
<line x1="348.08" y1="517.5" x2="348.08" y2="516.4" stroke="#555" stroke-width="0.5"/>
<line x1="349.18" y1="517.5" x2="349.18" y2="516.4" stroke="#555" stroke-width="0.5"/>
<line x1="350.12" y1="517.5" x2="350.12" y2="516.4" stroke="#555" stroke-width="0.5"/>
<line x1="350.95" y1="517.5" x2="350.95" y2="516.4" stroke="#555" stroke-width="0.5"/>
<line x1="351.7" y1="517.5" x2="351.7" y2="515.5" stroke="#555" stroke-width="0.5"/>
<line x1="356.61" y1="517.5" x2="356.61" y2="516.4" stroke="#555" stroke-width="0.5"/>
<rect x="283.8" y="442" width="74.4" height="75.5" fill="none" stroke="#222" stroke-width="1"/>
<text x="279.4" y="529" font-size="7" stroke="#1a1a1a" stroke-width="0.25" fill="#1a1a1a" textLength="8.05" lengthAdjust="spacingAndGlyphs">10</text>
<text x="287.75" y="525.71" font-size="4.7" stroke="#1a1a1a" stroke-width="0.15" fill="#1a1a1a">3</text>
<text x="296.7" y="529" font-size="7" stroke="#1a1a1a" stroke-width="0.25" fill="#1a1a1a" textLength="8.05" lengthAdjust="spacingAndGlyphs">10</text>
<text x="305.05" y="525.71" font-size="4.7" stroke="#1a1a1a" stroke-width="0.15" fill="#1a1a1a">4</text>
<text x="314" y="529" font-size="7" stroke="#1a1a1a" stroke-width="0.25" fill="#1a1a1a" textLength="8.05" lengthAdjust="spacingAndGlyphs">10</text>
<text x="322.35" y="525.71" font-size="4.7" stroke="#1a1a1a" stroke-width="0.15" fill="#1a1a1a">5</text>
<text x="331.3" y="529" font-size="7" stroke="#1a1a1a" stroke-width="0.25" fill="#1a1a1a" textLength="8.05" lengthAdjust="spacingAndGlyphs">10</text>
<text x="339.65" y="525.71" font-size="4.7" stroke="#1a1a1a" stroke-width="0.15" fill="#1a1a1a">6</text>
<text x="348.6" y="529" font-size="7" stroke="#1a1a1a" stroke-width="0.25" fill="#1a1a1a" textLength="8.05" lengthAdjust="spacingAndGlyphs">10</text>
<text x="356.95" y="525.71" font-size="4.7" stroke="#1a1a1a" stroke-width="0.15" fill="#1a1a1a">7</text>
<text x="282.3" y="542" font-size="9.4" stroke="#111" stroke-width="0.1" font-weight="bold" fill="#111" textLength="11.3" lengthAdjust="spacingAndGlyphs">CD2</text>
<line x1="300" y1="539.3" x2="355" y2="539.3" stroke="#222" stroke-width="0.9"/>
<path d="M359 539.3 L354.4 537.1 L354.4 541.5 Z" stroke="none" fill="#222" stroke-width="1"/>
<text x="362" y="483.8" font-size="7" stroke="#222" stroke-width="0.22">Control</text>
<text x="362" y="508.8" font-size="7" stroke="#222" stroke-width="0.22">αCD2</text>
<text x="1.2" y="562.5" font-size="10" stroke="#000" stroke-width="0.45" font-weight="bold" fill="#000">Q</text>
<path d="M41.5 604.3 L41.5 604.3 L41.75 604.16 L42 604.03 L42.25 603.97 L42.5 603.94 L42.75 603.91 L43 603.88 L43.25 603.86 L43.5 603.84 L43.75 603.82 L44 603.81 L44.25 603.79 L44.5 603.78 L44.75 603.77 L45 603.76 L45.25 603.75 L45.5 603.74 L45.75 603.72 L46 603.7 L46.25 603.68 L46.5 603.65 L46.75 603.62 L47 603.58 L47.25 603.53 L47.5 603.46 L47.75 603.38 L48 603.28 L48.25 603.17 L48.5 603.05 L48.75 602.92 L49 602.78 L49.25 602.64 L49.5 602.48 L49.75 602.33 L50 602.16 L50.25 602 L50.5 601.83 L50.75 601.65 L51 601.46 L51.25 601.26 L51.5 601.03 L51.75 600.8 L52 600.54 L52.25 600.28 L52.5 599.99 L52.75 599.69 L53 599.37 L53.25 599.03 L53.5 598.66 L53.75 598.24 L54 597.78 L54.25 597.27 L54.5 596.73 L54.75 596.15 L55 595.53 L55.25 594.86 L55.5 594.09 L55.75 593.19 L56 592.2 L56.25 591.17 L56.5 590.11 L56.75 589.08 L57 588.1 L57.25 587.12 L57.5 586.09 L57.75 585.05 L58 584.05 L58.25 583.13 L58.5 582.33 L58.75 581.68 L59 581.08 L59.25 580.51 L59.5 580.04 L59.75 579.75 L60 579.75 L60.25 580.22 L60.5 581.08 L60.75 582.19 L61 583.41 L61.25 584.73 L61.5 586.51 L61.75 588.56 L62 590.66 L62.25 592.57 L62.5 594.54 L62.75 596.52 L63 598.19 L63.25 599.26 L63.5 600.04 L63.75 600.72 L64 601.31 L64.25 601.81 L64.5 602.2 L64.75 602.48 L65 602.66 L65.25 602.81 L65.5 602.95 L65.75 603.07 L66 603.19 L66.25 603.29 L66.5 603.39 L66.75 603.48 L67 603.56 L67.25 603.63 L67.5 603.69 L67.75 603.75 L68 603.81 L68.25 603.86 L68.5 603.9 L68.75 603.94 L69 603.98 L69.25 604.02 L69.5 604.06 L69.75 604.09 L70 604.11 L70.25 604.14 L70.5 604.16 L70.75 604.19 L71 604.21 L71.25 604.23 L71.5 604.25 L71.75 604.28 L72 604.3 L72 604.3 Z" stroke="none" fill="#8f6cb0" stroke-width="1"/>
<polyline points="42.5,603.94 42.75,603.91 43,603.88 43.25,603.86 43.5,603.84 43.75,603.82 44,603.81 44.25,603.79 44.5,603.78 44.75,603.77 45,603.76 45.25,603.75 45.5,603.74 45.75,603.72 46,603.7 46.25,603.68 46.5,603.65 46.75,603.62 47,603.58 47.25,603.53 47.5,603.46 47.75,603.38 48,603.28 48.25,603.17 48.5,603.05 48.75,602.92 49,602.78 49.25,602.64 49.5,602.48 49.75,602.33 50,602.16 50.25,602 50.5,601.83 50.75,601.65 51,601.46 51.25,601.26 51.5,601.03 51.75,600.8 52,600.54 52.25,600.28 52.5,599.99 52.75,599.69 53,599.37 53.25,599.03 53.5,598.66 53.75,598.24 54,597.78 54.25,597.27 54.5,596.73 54.75,596.15 55,595.53 55.25,594.86 55.5,594.09 55.75,593.19 56,592.2 56.25,591.17 56.5,590.11 56.75,589.08 57,588.1 57.25,587.12 57.5,586.09 57.75,585.05 58,584.05 58.25,583.13 58.5,582.33 58.75,581.68 59,581.08 59.25,580.51 59.5,580.04 59.75,579.75 60,579.75 60.25,580.22 60.5,581.08 60.75,582.19 61,583.41 61.25,584.73 61.5,586.51 61.75,588.56 62,590.66 62.25,592.57 62.5,594.54 62.75,596.52 63,598.19 63.25,599.26 63.5,600.04 63.75,600.72 64,601.31 64.25,601.81 64.5,602.2 64.75,602.48 65,602.66 65.25,602.81 65.5,602.95 65.75,603.07 66,603.19 66.25,603.29 66.5,603.39 66.75,603.48 67,603.56 67.25,603.63 67.5,603.69 67.75,603.75 68,603.81 68.25,603.86 68.5,603.9 68.75,603.94" stroke="#4c2a80" fill="none" stroke-width="0.7" stroke-linejoin="round"/>
<path d="M70 619.3 L70 619.3 L70.25 619.24 L70.5 619.18 L70.75 619.12 L71 619.06 L71.25 619 L71.5 618.95 L71.75 618.91 L72 618.87 L72.25 618.84 L72.5 618.82 L72.75 618.79 L73 618.77 L73.25 618.75 L73.5 618.73 L73.75 618.72 L74 618.7 L74.25 618.68 L74.5 618.66 L74.75 618.64 L75 618.62 L75.25 618.59 L75.5 618.57 L75.75 618.54 L76 618.5 L76.25 618.46 L76.5 618.42 L76.75 618.37 L77 618.31 L77.25 618.25 L77.5 618.18 L77.75 618.1 L78 618.01 L78.25 617.91 L78.5 617.8 L78.75 617.68 L79 617.54 L79.25 617.34 L79.5 617.06 L79.75 616.72 L80 616.32 L80.25 615.87 L80.5 615.36 L80.75 614.82 L81 614.24 L81.25 613.59 L81.5 612.75 L81.75 611.74 L82 610.6 L82.25 609.36 L82.5 608.07 L82.75 606.77 L83 605.47 L83.25 603.95 L83.5 602.28 L83.75 600.6 L84 599.05 L84.25 597.77 L84.5 596.87 L84.75 596.06 L85 595.29 L85.25 594.59 L85.5 594 L85.75 593.55 L86 593.27 L86.25 593.21 L86.5 593.5 L86.75 594.12 L87 595.01 L87.25 596.06 L87.5 597.19 L87.75 598.33 L88 599.76 L88.25 601.52 L88.5 603.44 L88.75 605.38 L89 607.16 L89.25 608.73 L89.5 610.3 L89.75 611.82 L90 613.2 L90.25 614.35 L90.5 615.22 L90.75 616 L91 616.73 L91.25 617.39 L91.5 617.96 L91.75 618.42 L92 618.74 L92.25 618.93 L92.5 619.03 L92.75 619.11 L93 619.17 L93.25 619.23 L93.5 619.3 L93.5 619.3 Z" stroke="none" fill="#e2637d" stroke-width="1"/>
<polyline points="71.5,618.95 71.75,618.91 72,618.87 72.25,618.84 72.5,618.82 72.75,618.79 73,618.77 73.25,618.75 73.5,618.73 73.75,618.72 74,618.7 74.25,618.68 74.5,618.66 74.75,618.64 75,618.62 75.25,618.59 75.5,618.57 75.75,618.54 76,618.5 76.25,618.46 76.5,618.42 76.75,618.37 77,618.31 77.25,618.25 77.5,618.18 77.75,618.1 78,618.01 78.25,617.91 78.5,617.8 78.75,617.68 79,617.54 79.25,617.34 79.5,617.06 79.75,616.72 80,616.32 80.25,615.87 80.5,615.36 80.75,614.82 81,614.24 81.25,613.59 81.5,612.75 81.75,611.74 82,610.6 82.25,609.36 82.5,608.07 82.75,606.77 83,605.47 83.25,603.95 83.5,602.28 83.75,600.6 84,599.05 84.25,597.77 84.5,596.87 84.75,596.06 85,595.29 85.25,594.59 85.5,594 85.75,593.55 86,593.27 86.25,593.21 86.5,593.5 86.75,594.12 87,595.01 87.25,596.06 87.5,597.19 87.75,598.33 88,599.76 88.25,601.52 88.5,603.44 88.75,605.38 89,607.16 89.25,608.73 89.5,610.3 89.75,611.82 90,613.2 90.25,614.35 90.5,615.22 90.75,616 91,616.73 91.25,617.39 91.5,617.96 91.75,618.42 92,618.74 92.25,618.93" stroke="#b0203c" fill="none" stroke-width="0.7" stroke-linejoin="round"/>
<path d="M74.5 634.3 L74.5 634.3 L74.75 634.18 L75 634.06 L75.25 633.93 L75.5 633.79 L75.75 633.66 L76 633.54 L76.25 633.41 L76.5 633.28 L76.75 633.15 L77 633.01 L77.25 632.87 L77.5 632.72 L77.75 632.56 L78 632.38 L78.25 632.19 L78.5 631.98 L78.75 631.75 L79 631.49 L79.25 631.18 L79.5 630.81 L79.75 630.38 L80 629.9 L80.25 629.36 L80.5 628.78 L80.75 628.15 L81 627.48 L81.25 626.74 L81.5 625.83 L81.75 624.76 L82 623.56 L82.25 622.28 L82.5 620.93 L82.75 619.56 L83 618.19 L83.25 616.86 L83.5 615.47 L83.75 613.87 L84 612.26 L84.25 610.83 L84.5 609.77 L84.75 609.17 L85 608.65 L85.25 608.19 L85.5 607.81 L85.75 607.52 L86 607.35 L86.25 607.31 L86.5 607.52 L86.75 607.99 L87 608.67 L87.25 609.5 L87.5 610.42 L87.75 611.41 L88 612.87 L88.25 614.83 L88.5 617.04 L88.75 619.25 L89 621.23 L89.25 622.85 L89.5 624.47 L89.75 626.05 L90 627.54 L90.25 628.86 L90.5 629.94 L90.75 630.69 L91 631.18 L91.25 631.61 L91.5 632 L91.75 632.35 L92 632.66 L92.25 632.94 L92.5 633.18 L92.75 633.4 L93 633.59 L93.25 633.75 L93.5 633.9 L93.75 634.02 L94 634.12 L94.25 634.21 L94.5 634.3 L94.5 634.3 Z" stroke="none" fill="#5f89b6" stroke-width="1"/>
<polyline points="75.25,633.93 75.5,633.79 75.75,633.66 76,633.54 76.25,633.41 76.5,633.28 76.75,633.15 77,633.01 77.25,632.87 77.5,632.72 77.75,632.56 78,632.38 78.25,632.19 78.5,631.98 78.75,631.75 79,631.49 79.25,631.18 79.5,630.81 79.75,630.38 80,629.9 80.25,629.36 80.5,628.78 80.75,628.15 81,627.48 81.25,626.74 81.5,625.83 81.75,624.76 82,623.56 82.25,622.28 82.5,620.93 82.75,619.56 83,618.19 83.25,616.86 83.5,615.47 83.75,613.87 84,612.26 84.25,610.83 84.5,609.77 84.75,609.17 85,608.65 85.25,608.19 85.5,607.81 85.75,607.52 86,607.35 86.25,607.31 86.5,607.52 86.75,607.99 87,608.67 87.25,609.5 87.5,610.42 87.75,611.41 88,612.87 88.25,614.83 88.5,617.04 88.75,619.25 89,621.23 89.25,622.85 89.5,624.47 89.75,626.05 90,627.54 90.25,628.86 90.5,629.94 90.75,630.69 91,631.18 91.25,631.61 91.5,632 91.75,632.35 92,632.66 92.25,632.94 92.5,633.18 92.75,633.4 93,633.59 93.25,633.75 93.5,633.9" stroke="#1d4f7e" fill="none" stroke-width="0.7" stroke-linejoin="round"/>
<path d="M77.3 648 L77.3 648 L77.55 647.32 L77.8 646.64 L78.05 645.97 L78.3 645.29 L78.55 644.62 L78.8 643.94 L79.05 643.26 L79.3 642.58 L79.55 641.89 L79.8 641.2 L80.05 640.51 L80.3 639.83 L80.55 639.15 L80.8 638.47 L81.05 637.78 L81.3 637.08 L81.55 636.36 L81.8 635.62 L82.05 634.84 L82.3 634.01 L82.55 633.13 L82.8 632.22 L83.05 631.29 L83.3 630.38 L83.55 629.48 L83.8 628.63 L84.05 627.85 L84.3 627.01 L84.55 626.12 L84.8 625.22 L85.05 624.38 L85.3 623.64 L85.55 623.06 L85.8 622.7 L86.05 622.61 L86.3 622.84 L86.55 623.36 L86.8 624.1 L87.05 625.02 L87.3 626.04 L87.55 627.12 L87.8 628.19 L88.05 629.2 L88.3 630.29 L88.55 631.52 L88.8 632.85 L89.05 634.24 L89.3 635.66 L89.55 637.06 L89.8 638.4 L90.05 639.66 L90.3 640.79 L90.55 641.78 L90.8 642.68 L91.05 643.52 L91.3 644.32 L91.55 645.09 L91.8 645.84 L92.05 646.6 L92.3 647.36 L92.5 648 Z" stroke="none" fill="#8ed894" stroke-width="1"/>
<polyline points="77.55,647.32 77.8,646.64 78.05,645.97 78.3,645.29 78.55,644.62 78.8,643.94 79.05,643.26 79.3,642.58 79.55,641.89 79.8,641.2 80.05,640.51 80.3,639.83 80.55,639.15 80.8,638.47 81.05,637.78 81.3,637.08 81.55,636.36 81.8,635.62 82.05,634.84 82.3,634.01 82.55,633.13 82.8,632.22 83.05,631.29 83.3,630.38 83.55,629.48 83.8,628.63 84.05,627.85 84.3,627.01 84.55,626.12 84.8,625.22 85.05,624.38 85.3,623.64 85.55,623.06 85.8,622.7 86.05,622.61 86.3,622.84 86.55,623.36 86.8,624.1 87.05,625.02 87.3,626.04 87.55,627.12 87.8,628.19 88.05,629.2 88.3,630.29 88.55,631.52 88.8,632.85 89.05,634.24 89.3,635.66 89.55,637.06 89.8,638.4 90.05,639.66 90.3,640.79 90.55,641.78 90.8,642.68 91.05,643.52 91.3,644.32 91.55,645.09 91.8,645.84 92.05,646.6 92.3,647.36" stroke="#3a9a4a" fill="none" stroke-width="0.7" stroke-linejoin="round"/>
<line x1="31.8" y1="604.3" x2="106.5" y2="604.3" stroke="#7a6a8a" stroke-width="0.9"/>
<line x1="31.8" y1="619.3" x2="106.5" y2="619.3" stroke="#d86a80" stroke-width="0.9"/>
<line x1="31.8" y1="634.3" x2="106.5" y2="634.3" stroke="#7a98b8" stroke-width="0.9"/>
<rect x="31.8" y="573.7" width="74.7" height="74.3" fill="none" stroke="#222" stroke-width="1"/>
<text x="69.3" y="570.8" font-size="9.2" stroke="#111" stroke-width="0.22" text-anchor="middle" fill="#111">Nalm6</text>
<line x1="32.4" y1="596" x2="32.4" y2="604" stroke="#6a4a98" stroke-width="1"/>
<line x1="31.8" y1="648" x2="31.8" y2="646" stroke="#555" stroke-width="0.5"/>
<line x1="34.84" y1="648" x2="34.84" y2="646.9" stroke="#555" stroke-width="0.5"/>
<line x1="36.62" y1="648" x2="36.62" y2="646.9" stroke="#555" stroke-width="0.5"/>
<line x1="37.88" y1="648" x2="37.88" y2="646.9" stroke="#555" stroke-width="0.5"/>
<line x1="38.86" y1="648" x2="38.86" y2="646.9" stroke="#555" stroke-width="0.5"/>
<line x1="39.66" y1="648" x2="39.66" y2="646.9" stroke="#555" stroke-width="0.5"/>
<line x1="40.34" y1="648" x2="40.34" y2="646.9" stroke="#555" stroke-width="0.5"/>
<line x1="40.92" y1="648" x2="40.92" y2="646.9" stroke="#555" stroke-width="0.5"/>
<line x1="41.44" y1="648" x2="41.44" y2="646.9" stroke="#555" stroke-width="0.5"/>
<line x1="41.9" y1="648" x2="41.9" y2="646" stroke="#555" stroke-width="0.5"/>
<line x1="44.94" y1="648" x2="44.94" y2="646.9" stroke="#555" stroke-width="0.5"/>
<line x1="46.72" y1="648" x2="46.72" y2="646.9" stroke="#555" stroke-width="0.5"/>
<line x1="47.98" y1="648" x2="47.98" y2="646.9" stroke="#555" stroke-width="0.5"/>
<line x1="48.96" y1="648" x2="48.96" y2="646.9" stroke="#555" stroke-width="0.5"/>
<line x1="49.76" y1="648" x2="49.76" y2="646.9" stroke="#555" stroke-width="0.5"/>
<line x1="50.44" y1="648" x2="50.44" y2="646.9" stroke="#555" stroke-width="0.5"/>
<line x1="51.02" y1="648" x2="51.02" y2="646.9" stroke="#555" stroke-width="0.5"/>
<line x1="51.54" y1="648" x2="51.54" y2="646.9" stroke="#555" stroke-width="0.5"/>
<line x1="52" y1="648" x2="52" y2="646" stroke="#555" stroke-width="0.5"/>
<line x1="55.04" y1="648" x2="55.04" y2="646.9" stroke="#555" stroke-width="0.5"/>
<line x1="56.82" y1="648" x2="56.82" y2="646.9" stroke="#555" stroke-width="0.5"/>
<line x1="58.08" y1="648" x2="58.08" y2="646.9" stroke="#555" stroke-width="0.5"/>
<line x1="59.06" y1="648" x2="59.06" y2="646.9" stroke="#555" stroke-width="0.5"/>
<line x1="59.86" y1="648" x2="59.86" y2="646.9" stroke="#555" stroke-width="0.5"/>
<line x1="60.54" y1="648" x2="60.54" y2="646.9" stroke="#555" stroke-width="0.5"/>
<line x1="61.12" y1="648" x2="61.12" y2="646.9" stroke="#555" stroke-width="0.5"/>
<line x1="61.64" y1="648" x2="61.64" y2="646.9" stroke="#555" stroke-width="0.5"/>
<line x1="62.1" y1="648" x2="62.1" y2="646" stroke="#555" stroke-width="0.5"/>
<line x1="65.14" y1="648" x2="65.14" y2="646.9" stroke="#555" stroke-width="0.5"/>
<line x1="66.92" y1="648" x2="66.92" y2="646.9" stroke="#555" stroke-width="0.5"/>
<line x1="68.18" y1="648" x2="68.18" y2="646.9" stroke="#555" stroke-width="0.5"/>
<line x1="69.16" y1="648" x2="69.16" y2="646.9" stroke="#555" stroke-width="0.5"/>
<line x1="69.96" y1="648" x2="69.96" y2="646.9" stroke="#555" stroke-width="0.5"/>
<line x1="70.64" y1="648" x2="70.64" y2="646.9" stroke="#555" stroke-width="0.5"/>
<line x1="71.22" y1="648" x2="71.22" y2="646.9" stroke="#555" stroke-width="0.5"/>
<line x1="71.74" y1="648" x2="71.74" y2="646.9" stroke="#555" stroke-width="0.5"/>
<line x1="72.2" y1="648" x2="72.2" y2="646" stroke="#555" stroke-width="0.5"/>
<line x1="75.24" y1="648" x2="75.24" y2="646.9" stroke="#555" stroke-width="0.5"/>
<line x1="77.02" y1="648" x2="77.02" y2="646.9" stroke="#555" stroke-width="0.5"/>
<line x1="78.28" y1="648" x2="78.28" y2="646.9" stroke="#555" stroke-width="0.5"/>
<line x1="79.26" y1="648" x2="79.26" y2="646.9" stroke="#555" stroke-width="0.5"/>
<line x1="80.06" y1="648" x2="80.06" y2="646.9" stroke="#555" stroke-width="0.5"/>
<line x1="80.74" y1="648" x2="80.74" y2="646.9" stroke="#555" stroke-width="0.5"/>
<line x1="81.32" y1="648" x2="81.32" y2="646.9" stroke="#555" stroke-width="0.5"/>
<line x1="81.84" y1="648" x2="81.84" y2="646.9" stroke="#555" stroke-width="0.5"/>
<line x1="82.3" y1="648" x2="82.3" y2="646" stroke="#555" stroke-width="0.5"/>
<line x1="85.34" y1="648" x2="85.34" y2="646.9" stroke="#555" stroke-width="0.5"/>
<line x1="87.12" y1="648" x2="87.12" y2="646.9" stroke="#555" stroke-width="0.5"/>
<line x1="88.38" y1="648" x2="88.38" y2="646.9" stroke="#555" stroke-width="0.5"/>
<line x1="89.36" y1="648" x2="89.36" y2="646.9" stroke="#555" stroke-width="0.5"/>
<line x1="90.16" y1="648" x2="90.16" y2="646.9" stroke="#555" stroke-width="0.5"/>
<line x1="90.84" y1="648" x2="90.84" y2="646.9" stroke="#555" stroke-width="0.5"/>
<line x1="91.42" y1="648" x2="91.42" y2="646.9" stroke="#555" stroke-width="0.5"/>
<line x1="91.94" y1="648" x2="91.94" y2="646.9" stroke="#555" stroke-width="0.5"/>
<line x1="92.4" y1="648" x2="92.4" y2="646" stroke="#555" stroke-width="0.5"/>
<line x1="95.44" y1="648" x2="95.44" y2="646.9" stroke="#555" stroke-width="0.5"/>
<line x1="97.22" y1="648" x2="97.22" y2="646.9" stroke="#555" stroke-width="0.5"/>
<line x1="98.48" y1="648" x2="98.48" y2="646.9" stroke="#555" stroke-width="0.5"/>
<line x1="99.46" y1="648" x2="99.46" y2="646.9" stroke="#555" stroke-width="0.5"/>
<line x1="100.26" y1="648" x2="100.26" y2="646.9" stroke="#555" stroke-width="0.5"/>
<line x1="100.94" y1="648" x2="100.94" y2="646.9" stroke="#555" stroke-width="0.5"/>
<line x1="101.52" y1="648" x2="101.52" y2="646.9" stroke="#555" stroke-width="0.5"/>
<line x1="102.04" y1="648" x2="102.04" y2="646.9" stroke="#555" stroke-width="0.5"/>
<line x1="102.5" y1="648" x2="102.5" y2="646" stroke="#555" stroke-width="0.5"/>
<line x1="105.54" y1="648" x2="105.54" y2="646.9" stroke="#555" stroke-width="0.5"/>
<path d="M124.5 604.3 L124.5 604.3 L124.75 604.19 L125 604.07 L125.25 603.99 L125.5 603.92 L125.75 603.85 L126 603.8 L126.25 603.75 L126.5 603.7 L126.75 603.66 L127 603.62 L127.25 603.58 L127.5 603.55 L127.75 603.52 L128 603.48 L128.25 603.45 L128.5 603.41 L128.75 603.38 L129 603.34 L129.25 603.3 L129.5 603.25 L129.75 603.2 L130 603.15 L130.25 603.09 L130.5 603.02 L130.75 602.95 L131 602.86 L131.25 602.76 L131.5 602.63 L131.75 602.49 L132 602.32 L132.25 602.13 L132.5 601.92 L132.75 601.69 L133 601.45 L133.25 601.19 L133.5 600.92 L133.75 600.63 L134 600.33 L134.25 600.02 L134.5 599.69 L134.75 599.36 L135 599.01 L135.25 598.66 L135.5 598.3 L135.75 597.92 L136 597.49 L136.25 597.03 L136.5 596.52 L136.75 595.97 L137 595.39 L137.25 594.76 L137.5 594.1 L137.75 593.4 L138 592.66 L138.25 591.88 L138.5 591.05 L138.75 589.97 L139 588.71 L139.25 587.34 L139.5 585.98 L139.75 584.71 L140 583.65 L140.25 582.81 L140.5 581.98 L140.75 581.15 L141 580.38 L141.25 579.7 L141.5 579.13 L141.75 578.73 L142 578.52 L142.25 578.64 L142.5 579.42 L142.75 580.73 L143 582.39 L143.25 584.21 L143.5 586.01 L143.75 587.62 L144 589.03 L144.25 590.52 L144.5 592.02 L144.75 593.45 L145 594.74 L145.25 595.82 L145.5 596.69 L145.75 597.52 L146 598.31 L146.25 599.04 L146.5 599.71 L146.75 600.32 L147 600.85 L147.25 601.31 L147.5 601.68 L147.75 601.97 L148 602.22 L148.25 602.46 L148.5 602.66 L148.75 602.85 L149 603.02 L149.25 603.18 L149.5 603.33 L149.75 603.48 L150 603.62 L150.25 603.76 L150.5 603.91 L150.75 604.06 L151 604.23 L151.1 604.3 Z" stroke="none" fill="#8f6cb0" stroke-width="1"/>
<polyline points="125.5,603.92 125.75,603.85 126,603.8 126.25,603.75 126.5,603.7 126.75,603.66 127,603.62 127.25,603.58 127.5,603.55 127.75,603.52 128,603.48 128.25,603.45 128.5,603.41 128.75,603.38 129,603.34 129.25,603.3 129.5,603.25 129.75,603.2 130,603.15 130.25,603.09 130.5,603.02 130.75,602.95 131,602.86 131.25,602.76 131.5,602.63 131.75,602.49 132,602.32 132.25,602.13 132.5,601.92 132.75,601.69 133,601.45 133.25,601.19 133.5,600.92 133.75,600.63 134,600.33 134.25,600.02 134.5,599.69 134.75,599.36 135,599.01 135.25,598.66 135.5,598.3 135.75,597.92 136,597.49 136.25,597.03 136.5,596.52 136.75,595.97 137,595.39 137.25,594.76 137.5,594.1 137.75,593.4 138,592.66 138.25,591.88 138.5,591.05 138.75,589.97 139,588.71 139.25,587.34 139.5,585.98 139.75,584.71 140,583.65 140.25,582.81 140.5,581.98 140.75,581.15 141,580.38 141.25,579.7 141.5,579.13 141.75,578.73 142,578.52 142.25,578.64 142.5,579.42 142.75,580.73 143,582.39 143.25,584.21 143.5,586.01 143.75,587.62 144,589.03 144.25,590.52 144.5,592.02 144.75,593.45 145,594.74 145.25,595.82 145.5,596.69 145.75,597.52 146,598.31 146.25,599.04 146.5,599.71 146.75,600.32 147,600.85 147.25,601.31 147.5,601.68 147.75,601.97 148,602.22 148.25,602.46 148.5,602.66 148.75,602.85 149,603.02 149.25,603.18 149.5,603.33 149.75,603.48 150,603.62 150.25,603.76 150.5,603.91" stroke="#4c2a80" fill="none" stroke-width="0.7" stroke-linejoin="round"/>
<path d="M152 619.3 L152 619.3 L152.25 619.21 L152.5 619.12 L152.75 619.02 L153 618.92 L153.25 618.82 L153.5 618.73 L153.75 618.64 L154 618.55 L154.25 618.45 L154.5 618.35 L154.75 618.25 L155 618.14 L155.25 618.02 L155.5 617.89 L155.75 617.75 L156 617.6 L156.25 617.43 L156.5 617.25 L156.75 617.04 L157 616.8 L157.25 616.54 L157.5 616.24 L157.75 615.91 L158 615.55 L158.25 615.15 L158.5 614.72 L158.75 614.25 L159 613.74 L159.25 613.18 L159.5 612.42 L159.75 611.41 L160 610.2 L160.25 608.86 L160.5 607.42 L160.75 605.94 L161 604.48 L161.25 603.08 L161.5 601.8 L161.75 600.48 L162 599 L162.25 597.45 L162.5 595.93 L162.75 594.53 L163 593.35 L163.25 592.49 L163.5 592.04 L163.75 592.14 L164 592.93 L164.25 594.26 L164.5 595.95 L164.75 597.84 L165 599.74 L165.25 601.48 L165.5 602.9 L165.75 604.1 L166 605.3 L166.25 606.48 L166.5 607.62 L166.75 608.7 L167 609.71 L167.25 610.62 L167.5 611.42 L167.75 612.08 L168 612.64 L168.25 613.17 L168.5 613.66 L168.75 614.14 L169 614.58 L169.25 615 L169.5 615.39 L169.75 615.75 L170 616.09 L170.25 616.4 L170.5 616.68 L170.75 616.93 L171 617.16 L171.25 617.36 L171.5 617.54 L171.75 617.7 L172 617.85 L172.25 617.99 L172.5 618.12 L172.75 618.24 L173 618.35 L173.25 618.46 L173.5 618.56 L173.75 618.66 L174 618.75 L174.25 618.85 L174.5 618.95 L174.75 619.06 L175 619.16 L175.25 619.28 L175.3 619.3 Z" stroke="none" fill="#e2637d" stroke-width="1"/>
<polyline points="153,618.92 153.25,618.82 153.5,618.73 153.75,618.64 154,618.55 154.25,618.45 154.5,618.35 154.75,618.25 155,618.14 155.25,618.02 155.5,617.89 155.75,617.75 156,617.6 156.25,617.43 156.5,617.25 156.75,617.04 157,616.8 157.25,616.54 157.5,616.24 157.75,615.91 158,615.55 158.25,615.15 158.5,614.72 158.75,614.25 159,613.74 159.25,613.18 159.5,612.42 159.75,611.41 160,610.2 160.25,608.86 160.5,607.42 160.75,605.94 161,604.48 161.25,603.08 161.5,601.8 161.75,600.48 162,599 162.25,597.45 162.5,595.93 162.75,594.53 163,593.35 163.25,592.49 163.5,592.04 163.75,592.14 164,592.93 164.25,594.26 164.5,595.95 164.75,597.84 165,599.74 165.25,601.48 165.5,602.9 165.75,604.1 166,605.3 166.25,606.48 166.5,607.62 166.75,608.7 167,609.71 167.25,610.62 167.5,611.42 167.75,612.08 168,612.64 168.25,613.17 168.5,613.66 168.75,614.14 169,614.58 169.25,615 169.5,615.39 169.75,615.75 170,616.09 170.25,616.4 170.5,616.68 170.75,616.93 171,617.16 171.25,617.36 171.5,617.54 171.75,617.7 172,617.85 172.25,617.99 172.5,618.12 172.75,618.24 173,618.35 173.25,618.46 173.5,618.56 173.75,618.66 174,618.75 174.25,618.85" stroke="#b0203c" fill="none" stroke-width="0.7" stroke-linejoin="round"/>
<path d="M152.7 634.3 L152.7 634.3 L152.95 634.19 L153.2 634.09 L153.45 633.98 L153.7 633.87 L153.95 633.77 L154.2 633.67 L154.45 633.58 L154.7 633.49 L154.95 633.39 L155.2 633.29 L155.45 633.18 L155.7 633.06 L155.95 632.93 L156.2 632.79 L156.45 632.63 L156.7 632.46 L156.95 632.26 L157.2 632.01 L157.45 631.7 L157.7 631.32 L157.95 630.89 L158.2 630.39 L158.45 629.84 L158.7 629.24 L158.95 628.58 L159.2 627.88 L159.45 627.13 L159.7 626.33 L159.95 625.41 L160.2 624.1 L160.45 622.5 L160.7 620.74 L160.95 618.96 L161.2 617.28 L161.45 615.85 L161.7 614.61 L161.95 613.32 L162.2 612.02 L162.45 610.77 L162.7 609.64 L162.95 608.69 L163.2 607.98 L163.45 607.57 L163.7 607.55 L163.95 608.1 L164.2 609.12 L164.45 610.49 L164.7 612.06 L164.95 613.69 L165.2 615.24 L165.45 616.57 L165.7 617.69 L165.95 618.83 L166.2 619.98 L166.45 621.1 L166.7 622.19 L166.95 623.22 L167.2 624.17 L167.45 625.02 L167.7 625.75 L167.95 626.36 L168.2 626.93 L168.45 627.47 L168.7 627.98 L168.95 628.46 L169.2 628.92 L169.45 629.35 L169.7 629.75 L169.95 630.13 L170.2 630.49 L170.45 630.82 L170.7 631.13 L170.95 631.43 L171.2 631.7 L171.45 631.95 L171.7 632.18 L171.95 632.4 L172.2 632.6 L172.45 632.79 L172.7 632.97 L172.95 633.14 L173.2 633.3 L173.45 633.46 L173.7 633.62 L173.95 633.78 L174.2 633.95 L174.45 634.12 L174.7 634.3 L174.7 634.3 Z" stroke="none" fill="#5f89b6" stroke-width="1"/>
<polyline points="153.7,633.87 153.95,633.77 154.2,633.67 154.45,633.58 154.7,633.49 154.95,633.39 155.2,633.29 155.45,633.18 155.7,633.06 155.95,632.93 156.2,632.79 156.45,632.63 156.7,632.46 156.95,632.26 157.2,632.01 157.45,631.7 157.7,631.32 157.95,630.89 158.2,630.39 158.45,629.84 158.7,629.24 158.95,628.58 159.2,627.88 159.45,627.13 159.7,626.33 159.95,625.41 160.2,624.1 160.45,622.5 160.7,620.74 160.95,618.96 161.2,617.28 161.45,615.85 161.7,614.61 161.95,613.32 162.2,612.02 162.45,610.77 162.7,609.64 162.95,608.69 163.2,607.98 163.45,607.57 163.7,607.55 163.95,608.1 164.2,609.12 164.45,610.49 164.7,612.06 164.95,613.69 165.2,615.24 165.45,616.57 165.7,617.69 165.95,618.83 166.2,619.98 166.45,621.1 166.7,622.19 166.95,623.22 167.2,624.17 167.45,625.02 167.7,625.75 167.95,626.36 168.2,626.93 168.45,627.47 168.7,627.98 168.95,628.46 169.2,628.92 169.45,629.35 169.7,629.75 169.95,630.13 170.2,630.49 170.45,630.82 170.7,631.13 170.95,631.43 171.2,631.7 171.45,631.95 171.7,632.18 171.95,632.4 172.2,632.6 172.45,632.79 172.7,632.97 172.95,633.14 173.2,633.3 173.45,633.46 173.7,633.62 173.95,633.78" stroke="#1d4f7e" fill="none" stroke-width="0.7" stroke-linejoin="round"/>
<path d="M155.1 648 L155.1 648 L155.35 647.74 L155.6 647.49 L155.85 647.25 L156.1 647.01 L156.35 646.76 L156.6 646.5 L156.85 646.22 L157.1 645.91 L157.35 645.57 L157.6 645.2 L157.85 644.79 L158.1 644.34 L158.35 643.86 L158.6 643.34 L158.85 642.78 L159.1 642.17 L159.35 641.52 L159.6 640.83 L159.85 640.08 L160.1 639.28 L160.35 638.42 L160.6 637.28 L160.85 635.86 L161.1 634.25 L161.35 632.57 L161.6 630.93 L161.85 629.44 L162.1 628.2 L162.35 627.08 L162.6 625.92 L162.85 624.81 L163.1 623.81 L163.35 623.03 L163.6 622.53 L163.85 622.41 L164.1 622.79 L164.35 623.61 L164.6 624.74 L164.85 626.05 L165.1 627.42 L165.35 628.71 L165.6 629.84 L165.85 631 L166.1 632.23 L166.35 633.5 L166.6 634.76 L166.85 635.99 L167.1 637.15 L167.35 638.2 L167.6 639.1 L167.85 639.83 L168.1 640.48 L168.35 641.09 L168.6 641.67 L168.85 642.21 L169.1 642.73 L169.35 643.22 L169.6 643.67 L169.85 644.1 L170.1 644.51 L170.35 644.88 L170.6 645.24 L170.85 645.57 L171.1 645.87 L171.35 646.15 L171.6 646.41 L171.85 646.64 L172.1 646.86 L172.35 647.06 L172.6 647.24 L172.85 647.43 L173.1 647.61 L173.35 647.8 L173.6 648 L173.6 648 Z" stroke="none" fill="#8ed894" stroke-width="1"/>
<polyline points="155.6,647.49 155.85,647.25 156.1,647.01 156.35,646.76 156.6,646.5 156.85,646.22 157.1,645.91 157.35,645.57 157.6,645.2 157.85,644.79 158.1,644.34 158.35,643.86 158.6,643.34 158.85,642.78 159.1,642.17 159.35,641.52 159.6,640.83 159.85,640.08 160.1,639.28 160.35,638.42 160.6,637.28 160.85,635.86 161.1,634.25 161.35,632.57 161.6,630.93 161.85,629.44 162.1,628.2 162.35,627.08 162.6,625.92 162.85,624.81 163.1,623.81 163.35,623.03 163.6,622.53 163.85,622.41 164.1,622.79 164.35,623.61 164.6,624.74 164.85,626.05 165.1,627.42 165.35,628.71 165.6,629.84 165.85,631 166.1,632.23 166.35,633.5 166.6,634.76 166.85,635.99 167.1,637.15 167.35,638.2 167.6,639.1 167.85,639.83 168.1,640.48 168.35,641.09 168.6,641.67 168.85,642.21 169.1,642.73 169.35,643.22 169.6,643.67 169.85,644.1 170.1,644.51 170.35,644.88 170.6,645.24 170.85,645.57 171.1,645.87 171.35,646.15 171.6,646.41 171.85,646.64 172.1,646.86 172.35,647.06 172.6,647.24 172.85,647.43 173.1,647.61" stroke="#3a9a4a" fill="none" stroke-width="0.7" stroke-linejoin="round"/>
<line x1="116.1" y1="604.3" x2="190.5" y2="604.3" stroke="#7a6a8a" stroke-width="0.9"/>
<line x1="116.1" y1="619.3" x2="190.5" y2="619.3" stroke="#d86a80" stroke-width="0.9"/>
<line x1="116.1" y1="634.3" x2="190.5" y2="634.3" stroke="#7a98b8" stroke-width="0.9"/>
<rect x="116.1" y="573.7" width="74.4" height="74.3" fill="none" stroke="#222" stroke-width="1"/>
<text x="153.8" y="570.8" font-size="9.2" stroke="#111" stroke-width="0.22" text-anchor="middle" fill="#111">Raji</text>
<line x1="116.3" y1="648" x2="116.3" y2="646" stroke="#555" stroke-width="0.5"/>
<line x1="119.34" y1="648" x2="119.34" y2="646.9" stroke="#555" stroke-width="0.5"/>
<line x1="121.12" y1="648" x2="121.12" y2="646.9" stroke="#555" stroke-width="0.5"/>
<line x1="122.38" y1="648" x2="122.38" y2="646.9" stroke="#555" stroke-width="0.5"/>
<line x1="123.36" y1="648" x2="123.36" y2="646.9" stroke="#555" stroke-width="0.5"/>
<line x1="124.16" y1="648" x2="124.16" y2="646.9" stroke="#555" stroke-width="0.5"/>
<line x1="124.84" y1="648" x2="124.84" y2="646.9" stroke="#555" stroke-width="0.5"/>
<line x1="125.42" y1="648" x2="125.42" y2="646.9" stroke="#555" stroke-width="0.5"/>
<line x1="125.94" y1="648" x2="125.94" y2="646.9" stroke="#555" stroke-width="0.5"/>
<line x1="126.4" y1="648" x2="126.4" y2="646" stroke="#555" stroke-width="0.5"/>
<line x1="129.44" y1="648" x2="129.44" y2="646.9" stroke="#555" stroke-width="0.5"/>
<line x1="131.22" y1="648" x2="131.22" y2="646.9" stroke="#555" stroke-width="0.5"/>
<line x1="132.48" y1="648" x2="132.48" y2="646.9" stroke="#555" stroke-width="0.5"/>
<line x1="133.46" y1="648" x2="133.46" y2="646.9" stroke="#555" stroke-width="0.5"/>
<line x1="134.26" y1="648" x2="134.26" y2="646.9" stroke="#555" stroke-width="0.5"/>
<line x1="134.94" y1="648" x2="134.94" y2="646.9" stroke="#555" stroke-width="0.5"/>
<line x1="135.52" y1="648" x2="135.52" y2="646.9" stroke="#555" stroke-width="0.5"/>
<line x1="136.04" y1="648" x2="136.04" y2="646.9" stroke="#555" stroke-width="0.5"/>
<line x1="136.5" y1="648" x2="136.5" y2="646" stroke="#555" stroke-width="0.5"/>
<line x1="139.54" y1="648" x2="139.54" y2="646.9" stroke="#555" stroke-width="0.5"/>
<line x1="141.32" y1="648" x2="141.32" y2="646.9" stroke="#555" stroke-width="0.5"/>
<line x1="142.58" y1="648" x2="142.58" y2="646.9" stroke="#555" stroke-width="0.5"/>
<line x1="143.56" y1="648" x2="143.56" y2="646.9" stroke="#555" stroke-width="0.5"/>
<line x1="144.36" y1="648" x2="144.36" y2="646.9" stroke="#555" stroke-width="0.5"/>
<line x1="145.04" y1="648" x2="145.04" y2="646.9" stroke="#555" stroke-width="0.5"/>
<line x1="145.62" y1="648" x2="145.62" y2="646.9" stroke="#555" stroke-width="0.5"/>
<line x1="146.14" y1="648" x2="146.14" y2="646.9" stroke="#555" stroke-width="0.5"/>
<line x1="146.6" y1="648" x2="146.6" y2="646" stroke="#555" stroke-width="0.5"/>
<line x1="149.64" y1="648" x2="149.64" y2="646.9" stroke="#555" stroke-width="0.5"/>
<line x1="151.42" y1="648" x2="151.42" y2="646.9" stroke="#555" stroke-width="0.5"/>
<line x1="152.68" y1="648" x2="152.68" y2="646.9" stroke="#555" stroke-width="0.5"/>
<line x1="153.66" y1="648" x2="153.66" y2="646.9" stroke="#555" stroke-width="0.5"/>
<line x1="154.46" y1="648" x2="154.46" y2="646.9" stroke="#555" stroke-width="0.5"/>
<line x1="155.14" y1="648" x2="155.14" y2="646.9" stroke="#555" stroke-width="0.5"/>
<line x1="155.72" y1="648" x2="155.72" y2="646.9" stroke="#555" stroke-width="0.5"/>
<line x1="156.24" y1="648" x2="156.24" y2="646.9" stroke="#555" stroke-width="0.5"/>
<line x1="156.7" y1="648" x2="156.7" y2="646" stroke="#555" stroke-width="0.5"/>
<line x1="159.74" y1="648" x2="159.74" y2="646.9" stroke="#555" stroke-width="0.5"/>
<line x1="161.52" y1="648" x2="161.52" y2="646.9" stroke="#555" stroke-width="0.5"/>
<line x1="162.78" y1="648" x2="162.78" y2="646.9" stroke="#555" stroke-width="0.5"/>
<line x1="163.76" y1="648" x2="163.76" y2="646.9" stroke="#555" stroke-width="0.5"/>
<line x1="164.56" y1="648" x2="164.56" y2="646.9" stroke="#555" stroke-width="0.5"/>
<line x1="165.24" y1="648" x2="165.24" y2="646.9" stroke="#555" stroke-width="0.5"/>
<line x1="165.82" y1="648" x2="165.82" y2="646.9" stroke="#555" stroke-width="0.5"/>
<line x1="166.34" y1="648" x2="166.34" y2="646.9" stroke="#555" stroke-width="0.5"/>
<line x1="166.8" y1="648" x2="166.8" y2="646" stroke="#555" stroke-width="0.5"/>
<line x1="169.84" y1="648" x2="169.84" y2="646.9" stroke="#555" stroke-width="0.5"/>
<line x1="171.62" y1="648" x2="171.62" y2="646.9" stroke="#555" stroke-width="0.5"/>
<line x1="172.88" y1="648" x2="172.88" y2="646.9" stroke="#555" stroke-width="0.5"/>
<line x1="173.86" y1="648" x2="173.86" y2="646.9" stroke="#555" stroke-width="0.5"/>
<line x1="174.66" y1="648" x2="174.66" y2="646.9" stroke="#555" stroke-width="0.5"/>
<line x1="175.34" y1="648" x2="175.34" y2="646.9" stroke="#555" stroke-width="0.5"/>
<line x1="175.92" y1="648" x2="175.92" y2="646.9" stroke="#555" stroke-width="0.5"/>
<line x1="176.44" y1="648" x2="176.44" y2="646.9" stroke="#555" stroke-width="0.5"/>
<line x1="176.9" y1="648" x2="176.9" y2="646" stroke="#555" stroke-width="0.5"/>
<line x1="179.94" y1="648" x2="179.94" y2="646.9" stroke="#555" stroke-width="0.5"/>
<line x1="181.72" y1="648" x2="181.72" y2="646.9" stroke="#555" stroke-width="0.5"/>
<line x1="182.98" y1="648" x2="182.98" y2="646.9" stroke="#555" stroke-width="0.5"/>
<line x1="183.96" y1="648" x2="183.96" y2="646.9" stroke="#555" stroke-width="0.5"/>
<line x1="184.76" y1="648" x2="184.76" y2="646.9" stroke="#555" stroke-width="0.5"/>
<line x1="185.44" y1="648" x2="185.44" y2="646.9" stroke="#555" stroke-width="0.5"/>
<line x1="186.02" y1="648" x2="186.02" y2="646.9" stroke="#555" stroke-width="0.5"/>
<line x1="186.54" y1="648" x2="186.54" y2="646.9" stroke="#555" stroke-width="0.5"/>
<line x1="187" y1="648" x2="187" y2="646" stroke="#555" stroke-width="0.5"/>
<line x1="190.04" y1="648" x2="190.04" y2="646.9" stroke="#555" stroke-width="0.5"/>
<text x="26.3" y="660.6" font-size="7" stroke="#1a1a1a" stroke-width="0.25" fill="#1a1a1a" textLength="8.05" lengthAdjust="spacingAndGlyphs">10</text>
<text x="34.65" y="657.31" font-size="4.7" stroke="#1a1a1a" stroke-width="0.15" fill="#1a1a1a">0</text>
<text x="46.6" y="660.6" font-size="7" stroke="#1a1a1a" stroke-width="0.25" fill="#1a1a1a" textLength="8.05" lengthAdjust="spacingAndGlyphs">10</text>
<text x="54.95" y="657.31" font-size="4.7" stroke="#1a1a1a" stroke-width="0.15" fill="#1a1a1a">2</text>
<text x="66.9" y="660.6" font-size="7" stroke="#1a1a1a" stroke-width="0.25" fill="#1a1a1a" textLength="8.05" lengthAdjust="spacingAndGlyphs">10</text>
<text x="75.25" y="657.31" font-size="4.7" stroke="#1a1a1a" stroke-width="0.15" fill="#1a1a1a">4</text>
<text x="87.2" y="660.6" font-size="7" stroke="#1a1a1a" stroke-width="0.25" fill="#1a1a1a" textLength="8.05" lengthAdjust="spacingAndGlyphs">10</text>
<text x="95.55" y="657.31" font-size="4.7" stroke="#1a1a1a" stroke-width="0.15" fill="#1a1a1a">6</text>
<text x="110.6" y="660.6" font-size="7" stroke="#1a1a1a" stroke-width="0.25" fill="#1a1a1a" textLength="8.05" lengthAdjust="spacingAndGlyphs">10</text>
<text x="118.95" y="657.31" font-size="4.7" stroke="#1a1a1a" stroke-width="0.15" fill="#1a1a1a">0</text>
<text x="130.6" y="660.6" font-size="7" stroke="#1a1a1a" stroke-width="0.25" fill="#1a1a1a" textLength="8.05" lengthAdjust="spacingAndGlyphs">10</text>
<text x="138.95" y="657.31" font-size="4.7" stroke="#1a1a1a" stroke-width="0.15" fill="#1a1a1a">2</text>
<text x="150.6" y="660.6" font-size="7" stroke="#1a1a1a" stroke-width="0.25" fill="#1a1a1a" textLength="8.05" lengthAdjust="spacingAndGlyphs">10</text>
<text x="158.95" y="657.31" font-size="4.7" stroke="#1a1a1a" stroke-width="0.15" fill="#1a1a1a">4</text>
<text x="170.6" y="660.6" font-size="7" stroke="#1a1a1a" stroke-width="0.25" fill="#1a1a1a" textLength="8.05" lengthAdjust="spacingAndGlyphs">10</text>
<text x="178.95" y="657.31" font-size="4.7" stroke="#1a1a1a" stroke-width="0.15" fill="#1a1a1a">6</text>
<text x="190.6" y="660.6" font-size="7" stroke="#1a1a1a" stroke-width="0.25" fill="#1a1a1a" textLength="8.05" lengthAdjust="spacingAndGlyphs">10</text>
<text x="198.95" y="657.31" font-size="4.7" stroke="#1a1a1a" stroke-width="0.15" fill="#1a1a1a">8</text>
<text x="30.2" y="673.6" font-size="9" stroke="#111" stroke-width="0.1" font-weight="bold" fill="#111" textLength="15" lengthAdjust="spacingAndGlyphs">CD19</text>
<line x1="48" y1="670.3" x2="179" y2="670.3" stroke="#222" stroke-width="0.9"/>
<path d="M183.3 670.3 L178.7 668.1 L178.7 672.5 Z" stroke="none" fill="#222" stroke-width="1"/>
<text x="194" y="614.6" font-size="7" stroke="#222" stroke-width="0.08">WT</text>
<text x="194" y="628.9" font-size="7" stroke="#222" stroke-width="0.08">sgCD58-1</text>
<text x="194" y="644.6" font-size="7" stroke="#222" stroke-width="0.08">sgCD58-2</text>
<text x="280.5" y="563.5" font-size="10" stroke="#000" stroke-width="0.45" font-weight="bold" fill="#000">R</text>
<path d="M327 604.3 L327 604.3 L327.25 604.22 L327.5 604.14 L327.75 604.06 L328 604 L328.25 603.95 L328.5 603.91 L328.75 603.87 L329 603.83 L329.25 603.8 L329.5 603.77 L329.75 603.74 L330 603.71 L330.25 603.69 L330.5 603.66 L330.75 603.63 L331 603.61 L331.25 603.58 L331.5 603.55 L331.75 603.52 L332 603.48 L332.25 603.44 L332.5 603.4 L332.75 603.35 L333 603.3 L333.25 603.24 L333.5 603.16 L333.75 603.07 L334 602.97 L334.25 602.87 L334.5 602.75 L334.75 602.62 L335 602.49 L335.25 602.35 L335.5 602.21 L335.75 602.06 L336 601.91 L336.25 601.76 L336.5 601.6 L336.75 601.45 L337 601.3 L337.25 601.15 L337.5 601 L337.75 600.85 L338 600.69 L338.25 600.53 L338.5 600.37 L338.75 600.2 L339 600.03 L339.25 599.85 L339.5 599.66 L339.75 599.46 L340 599.25 L340.25 599.03 L340.5 598.8 L340.75 598.56 L341 598.3 L341.25 598.02 L341.5 597.69 L341.75 597.33 L342 596.94 L342.25 596.53 L342.5 596.09 L342.75 595.64 L343 595.18 L343.25 594.7 L343.5 594.23 L343.75 593.76 L344 593.3 L344.25 592.85 L344.5 592.4 L344.75 591.94 L345 591.48 L345.25 590.99 L345.5 590.47 L345.75 589.91 L346 589.3 L346.25 588.58 L346.5 587.72 L346.75 586.79 L347 585.87 L347.25 585.02 L347.5 584.3 L347.75 583.64 L348 582.97 L348.25 582.33 L348.5 581.8 L348.75 581.44 L349 581.3 L349.25 581.45 L349.5 581.83 L349.75 582.39 L350 583.03 L350.25 583.69 L350.5 584.3 L350.75 584.86 L351 585.43 L351.25 586.02 L351.5 586.63 L351.75 587.26 L352 587.92 L352.25 588.59 L352.5 589.3 L352.75 590.07 L353 590.92 L353.25 591.8 L353.5 592.68 L353.75 593.53 L354 594.3 L354.25 595.01 L354.5 595.7 L354.75 596.36 L355 597 L355.25 597.62 L355.5 598.21 L355.75 598.77 L356 599.3 L356.25 599.82 L356.5 600.33 L356.75 600.83 L357 601.3 L357.25 601.75 L357.5 602.15 L357.75 602.5 L358 602.8 L358.25 603.04 L358.5 603.26 L358.75 603.45 L359 603.62 L359.25 603.79 L359.5 603.95 L359.75 604.12 L360 604.3 L360 604.3 Z" stroke="none" fill="#8f6cb0" stroke-width="1"/>
<polyline points="328.5,603.91 328.75,603.87 329,603.83 329.25,603.8 329.5,603.77 329.75,603.74 330,603.71 330.25,603.69 330.5,603.66 330.75,603.63 331,603.61 331.25,603.58 331.5,603.55 331.75,603.52 332,603.48 332.25,603.44 332.5,603.4 332.75,603.35 333,603.3 333.25,603.24 333.5,603.16 333.75,603.07 334,602.97 334.25,602.87 334.5,602.75 334.75,602.62 335,602.49 335.25,602.35 335.5,602.21 335.75,602.06 336,601.91 336.25,601.76 336.5,601.6 336.75,601.45 337,601.3 337.25,601.15 337.5,601 337.75,600.85 338,600.69 338.25,600.53 338.5,600.37 338.75,600.2 339,600.03 339.25,599.85 339.5,599.66 339.75,599.46 340,599.25 340.25,599.03 340.5,598.8 340.75,598.56 341,598.3 341.25,598.02 341.5,597.69 341.75,597.33 342,596.94 342.25,596.53 342.5,596.09 342.75,595.64 343,595.18 343.25,594.7 343.5,594.23 343.75,593.76 344,593.3 344.25,592.85 344.5,592.4 344.75,591.94 345,591.48 345.25,590.99 345.5,590.47 345.75,589.91 346,589.3 346.25,588.58 346.5,587.72 346.75,586.79 347,585.87 347.25,585.02 347.5,584.3 347.75,583.64 348,582.97 348.25,582.33 348.5,581.8 348.75,581.44 349,581.3 349.25,581.45 349.5,581.83 349.75,582.39 350,583.03 350.25,583.69 350.5,584.3 350.75,584.86 351,585.43 351.25,586.02 351.5,586.63 351.75,587.26 352,587.92 352.25,588.59 352.5,589.3 352.75,590.07 353,590.92 353.25,591.8 353.5,592.68 353.75,593.53 354,594.3 354.25,595.01 354.5,595.7 354.75,596.36 355,597 355.25,597.62 355.5,598.21 355.75,598.77 356,599.3 356.25,599.82 356.5,600.33 356.75,600.83 357,601.3 357.25,601.75 357.5,602.15 357.75,602.5 358,602.8 358.25,603.04 358.5,603.26 358.75,603.45 359,603.62 359.25,603.79" stroke="#4c2a80" fill="none" stroke-width="0.7" stroke-linejoin="round"/>
<path d="M334 619.3 L334 619.3 L334.25 619.22 L334.5 619.14 L334.75 619.07 L335 618.99 L335.25 618.92 L335.5 618.84 L335.75 618.77 L336 618.69 L336.25 618.6 L336.5 618.51 L336.75 618.41 L337 618.3 L337.25 618.18 L337.5 618.04 L337.75 617.9 L338 617.74 L338.25 617.57 L338.5 617.39 L338.75 617.2 L339 617 L339.25 616.8 L339.5 616.6 L339.75 616.38 L340 616.17 L340.25 615.95 L340.5 615.73 L340.75 615.52 L341 615.3 L341.25 615.08 L341.5 614.86 L341.75 614.64 L342 614.42 L342.25 614.18 L342.5 613.95 L342.75 613.7 L343 613.44 L343.25 613.17 L343.5 612.9 L343.75 612.61 L344 612.3 L344.25 611.97 L344.5 611.62 L344.75 611.25 L345 610.85 L345.25 610.44 L345.5 610.01 L345.75 609.57 L346 609.13 L346.25 608.67 L346.5 608.21 L346.75 607.76 L347 607.3 L347.25 606.84 L347.5 606.36 L347.75 605.88 L348 605.38 L348.25 604.88 L348.5 604.37 L348.75 603.86 L349 603.34 L349.25 602.83 L349.5 602.31 L349.75 601.8 L350 601.3 L350.25 600.78 L350.5 600.24 L350.75 599.68 L351 599.11 L351.25 598.54 L351.5 597.97 L351.75 597.43 L352 596.91 L352.25 596.43 L352.5 596 L352.75 595.62 L353 595.3 L353.25 595.02 L353.5 594.73 L353.75 594.45 L354 594.19 L354.25 593.95 L354.5 593.73 L354.75 593.55 L355 593.42 L355.25 593.33 L355.5 593.3 L355.75 593.37 L356 593.56 L356.25 593.87 L356.5 594.25 L356.75 594.71 L357 595.22 L357.25 595.75 L357.5 596.3 L357.75 596.94 L358 597.76 L358.25 598.71 L358.5 599.76 L358.75 600.89 L359 602.04 L359.25 603.19 L359.5 604.3 L359.75 605.45 L360 606.71 L360.25 607.99 L360.5 609.23 L360.75 610.36 L361 611.3 L361.25 612.1 L361.5 612.85 L361.75 613.56 L362 614.21 L362.25 614.81 L362.5 615.36 L362.75 615.86 L363 616.3 L363.25 616.71 L363.5 617.1 L363.75 617.46 L364 617.8 L364.25 618.1 L364.5 618.37 L364.75 618.61 L365 618.8 L365.25 618.95 L365.5 619.07 L365.75 619.18 L366 619.3 L366 619.3 Z" stroke="none" fill="#e2637d" stroke-width="1"/>
<polyline points="335.25,618.92 335.5,618.84 335.75,618.77 336,618.69 336.25,618.6 336.5,618.51 336.75,618.41 337,618.3 337.25,618.18 337.5,618.04 337.75,617.9 338,617.74 338.25,617.57 338.5,617.39 338.75,617.2 339,617 339.25,616.8 339.5,616.6 339.75,616.38 340,616.17 340.25,615.95 340.5,615.73 340.75,615.52 341,615.3 341.25,615.08 341.5,614.86 341.75,614.64 342,614.42 342.25,614.18 342.5,613.95 342.75,613.7 343,613.44 343.25,613.17 343.5,612.9 343.75,612.61 344,612.3 344.25,611.97 344.5,611.62 344.75,611.25 345,610.85 345.25,610.44 345.5,610.01 345.75,609.57 346,609.13 346.25,608.67 346.5,608.21 346.75,607.76 347,607.3 347.25,606.84 347.5,606.36 347.75,605.88 348,605.38 348.25,604.88 348.5,604.37 348.75,603.86 349,603.34 349.25,602.83 349.5,602.31 349.75,601.8 350,601.3 350.25,600.78 350.5,600.24 350.75,599.68 351,599.11 351.25,598.54 351.5,597.97 351.75,597.43 352,596.91 352.25,596.43 352.5,596 352.75,595.62 353,595.3 353.25,595.02 353.5,594.73 353.75,594.45 354,594.19 354.25,593.95 354.5,593.73 354.75,593.55 355,593.42 355.25,593.33 355.5,593.3 355.75,593.37 356,593.56 356.25,593.87 356.5,594.25 356.75,594.71 357,595.22 357.25,595.75 357.5,596.3 357.75,596.94 358,597.76 358.25,598.71 358.5,599.76 358.75,600.89 359,602.04 359.25,603.19 359.5,604.3 359.75,605.45 360,606.71 360.25,607.99 360.5,609.23 360.75,610.36 361,611.3 361.25,612.1 361.5,612.85 361.75,613.56 362,614.21 362.25,614.81 362.5,615.36 362.75,615.86 363,616.3 363.25,616.71 363.5,617.1 363.75,617.46 364,617.8 364.25,618.1 364.5,618.37 364.75,618.61 365,618.8" stroke="#b0203c" fill="none" stroke-width="0.7" stroke-linejoin="round"/>
<path d="M333 634.3 L333 634.3 L333.25 634.24 L333.5 634.18 L333.75 634.12 L334 634.05 L334.25 633.99 L334.5 633.93 L334.75 633.87 L335 633.8 L335.25 633.73 L335.5 633.67 L335.75 633.61 L336 633.55 L336.25 633.49 L336.5 633.43 L336.75 633.37 L337 633.3 L337.25 633.24 L337.5 633.18 L337.75 633.11 L338 633.04 L338.25 632.96 L338.5 632.89 L338.75 632.8 L339 632.71 L339.25 632.62 L339.5 632.52 L339.75 632.41 L340 632.3 L340.25 632.17 L340.5 632.01 L340.75 631.83 L341 631.63 L341.25 631.4 L341.5 631.16 L341.75 630.91 L342 630.64 L342.25 630.36 L342.5 630.07 L342.75 629.78 L343 629.48 L343.25 629.19 L343.5 628.89 L343.75 628.59 L344 628.3 L344.25 628.01 L344.5 627.72 L344.75 627.41 L345 627.11 L345.25 626.79 L345.5 626.47 L345.75 626.14 L346 625.79 L346.25 625.44 L346.5 625.07 L346.75 624.69 L347 624.3 L347.25 623.89 L347.5 623.45 L347.75 623 L348 622.52 L348.25 622.03 L348.5 621.52 L348.75 621 L349 620.47 L349.25 619.94 L349.5 619.39 L349.75 618.85 L350 618.3 L350.25 617.72 L350.5 617.1 L350.75 616.45 L351 615.78 L351.25 615.11 L351.5 614.46 L351.75 613.83 L352 613.26 L352.25 612.74 L352.5 612.3 L352.75 611.9 L353 611.49 L353.25 611.08 L353.5 610.69 L353.75 610.31 L354 609.95 L354.25 609.63 L354.5 609.35 L354.75 609.12 L355 608.95 L355.25 608.84 L355.5 608.8 L355.75 608.85 L356 608.99 L356.25 609.22 L356.5 609.53 L356.75 609.9 L357 610.32 L357.25 610.79 L357.5 611.3 L357.75 612.1 L358 613.33 L358.25 614.83 L358.5 616.43 L358.75 617.98 L359 619.3 L359.25 620.45 L359.5 621.6 L359.75 622.73 L360 623.81 L360.25 624.82 L360.5 625.76 L360.75 626.59 L361 627.3 L361.25 627.93 L361.5 628.55 L361.75 629.14 L362 629.7 L362.25 630.23 L362.5 630.72 L362.75 631.18 L363 631.6 L363.25 631.97 L363.5 632.3 L363.75 632.58 L364 632.8 L364.25 632.99 L364.5 633.15 L364.75 633.3 L365 633.43 L365.25 633.55 L365.5 633.66 L365.75 633.76 L366 633.86 L366.25 633.97 L366.5 634.07 L366.75 634.18 L367 634.3 L367 634.3 Z" stroke="none" fill="#5f89b6" stroke-width="1"/>
<polyline points="334.5,633.93 334.75,633.87 335,633.8 335.25,633.73 335.5,633.67 335.75,633.61 336,633.55 336.25,633.49 336.5,633.43 336.75,633.37 337,633.3 337.25,633.24 337.5,633.18 337.75,633.11 338,633.04 338.25,632.96 338.5,632.89 338.75,632.8 339,632.71 339.25,632.62 339.5,632.52 339.75,632.41 340,632.3 340.25,632.17 340.5,632.01 340.75,631.83 341,631.63 341.25,631.4 341.5,631.16 341.75,630.91 342,630.64 342.25,630.36 342.5,630.07 342.75,629.78 343,629.48 343.25,629.19 343.5,628.89 343.75,628.59 344,628.3 344.25,628.01 344.5,627.72 344.75,627.41 345,627.11 345.25,626.79 345.5,626.47 345.75,626.14 346,625.79 346.25,625.44 346.5,625.07 346.75,624.69 347,624.3 347.25,623.89 347.5,623.45 347.75,623 348,622.52 348.25,622.03 348.5,621.52 348.75,621 349,620.47 349.25,619.94 349.5,619.39 349.75,618.85 350,618.3 350.25,617.72 350.5,617.1 350.75,616.45 351,615.78 351.25,615.11 351.5,614.46 351.75,613.83 352,613.26 352.25,612.74 352.5,612.3 352.75,611.9 353,611.49 353.25,611.08 353.5,610.69 353.75,610.31 354,609.95 354.25,609.63 354.5,609.35 354.75,609.12 355,608.95 355.25,608.84 355.5,608.8 355.75,608.85 356,608.99 356.25,609.22 356.5,609.53 356.75,609.9 357,610.32 357.25,610.79 357.5,611.3 357.75,612.1 358,613.33 358.25,614.83 358.5,616.43 358.75,617.98 359,619.3 359.25,620.45 359.5,621.6 359.75,622.73 360,623.81 360.25,624.82 360.5,625.76 360.75,626.59 361,627.3 361.25,627.93 361.5,628.55 361.75,629.14 362,629.7 362.25,630.23 362.5,630.72 362.75,631.18 363,631.6 363.25,631.97 363.5,632.3 363.75,632.58 364,632.8 364.25,632.99 364.5,633.15 364.75,633.3 365,633.43 365.25,633.55 365.5,633.66 365.75,633.76 366,633.86" stroke="#1d4f7e" fill="none" stroke-width="0.7" stroke-linejoin="round"/>
<path d="M332 648 L332 648 L332.25 647.92 L332.5 647.84 L332.75 647.76 L333 647.69 L333.25 647.61 L333.5 647.53 L333.75 647.45 L334 647.37 L334.25 647.29 L334.5 647.2 L334.75 647.1 L335 647 L335.25 646.89 L335.5 646.78 L335.75 646.66 L336 646.54 L336.25 646.41 L336.5 646.28 L336.75 646.14 L337 646 L337.25 645.86 L337.5 645.71 L337.75 645.55 L338 645.4 L338.25 645.23 L338.5 645.07 L338.75 644.9 L339 644.73 L339.25 644.55 L339.5 644.37 L339.75 644.19 L340 644 L340.25 643.81 L340.5 643.61 L340.75 643.41 L341 643.19 L341.25 642.97 L341.5 642.75 L341.75 642.52 L342 642.28 L342.25 642.04 L342.5 641.79 L342.75 641.53 L343 641.27 L343.25 641 L343.5 640.73 L343.75 640.46 L344 640.17 L344.25 639.89 L344.5 639.6 L344.75 639.3 L345 639 L345.25 638.69 L345.5 638.37 L345.75 638.03 L346 637.68 L346.25 637.32 L346.5 636.95 L346.75 636.57 L347 636.19 L347.25 635.8 L347.5 635.4 L347.75 635 L348 634.6 L348.25 634.2 L348.5 633.8 L348.75 633.4 L349 633 L349.25 632.6 L349.5 632.18 L349.75 631.76 L350 631.33 L350.25 630.9 L350.5 630.46 L350.75 630.03 L351 629.6 L351.25 629.18 L351.5 628.77 L351.75 628.38 L352 628 L352.25 627.61 L352.5 627.19 L352.75 626.75 L353 626.3 L353.25 625.87 L353.5 625.44 L353.75 625.05 L354 624.71 L354.25 624.42 L354.5 624.19 L354.75 624.05 L355 624 L355.25 624.07 L355.5 624.28 L355.75 624.6 L356 625 L356.25 625.46 L356.5 625.97 L356.75 626.49 L357 627 L357.25 627.55 L357.5 628.2 L357.75 628.92 L358 629.69 L358.25 630.51 L358.5 631.34 L358.75 632.18 L359 633 L359.25 633.85 L359.5 634.76 L359.75 635.71 L360 636.66 L360.25 637.59 L360.5 638.48 L360.75 639.29 L361 640 L361.25 640.64 L361.5 641.28 L361.75 641.89 L362 642.49 L362.25 643.06 L362.5 643.6 L362.75 644.11 L363 644.58 L363.25 645.01 L363.5 645.39 L363.75 645.72 L364 646 L364.25 646.24 L364.5 646.45 L364.75 646.64 L365 646.81 L365.25 646.98 L365.5 647.12 L365.75 647.27 L366 647.41 L366.25 647.55 L366.5 647.69 L366.75 647.84 L367 648 L367 648 Z" stroke="none" fill="#8ed894" stroke-width="1"/>
<polyline points="333.25,647.61 333.5,647.53 333.75,647.45 334,647.37 334.25,647.29 334.5,647.2 334.75,647.1 335,647 335.25,646.89 335.5,646.78 335.75,646.66 336,646.54 336.25,646.41 336.5,646.28 336.75,646.14 337,646 337.25,645.86 337.5,645.71 337.75,645.55 338,645.4 338.25,645.23 338.5,645.07 338.75,644.9 339,644.73 339.25,644.55 339.5,644.37 339.75,644.19 340,644 340.25,643.81 340.5,643.61 340.75,643.41 341,643.19 341.25,642.97 341.5,642.75 341.75,642.52 342,642.28 342.25,642.04 342.5,641.79 342.75,641.53 343,641.27 343.25,641 343.5,640.73 343.75,640.46 344,640.17 344.25,639.89 344.5,639.6 344.75,639.3 345,639 345.25,638.69 345.5,638.37 345.75,638.03 346,637.68 346.25,637.32 346.5,636.95 346.75,636.57 347,636.19 347.25,635.8 347.5,635.4 347.75,635 348,634.6 348.25,634.2 348.5,633.8 348.75,633.4 349,633 349.25,632.6 349.5,632.18 349.75,631.76 350,631.33 350.25,630.9 350.5,630.46 350.75,630.03 351,629.6 351.25,629.18 351.5,628.77 351.75,628.38 352,628 352.25,627.61 352.5,627.19 352.75,626.75 353,626.3 353.25,625.87 353.5,625.44 353.75,625.05 354,624.71 354.25,624.42 354.5,624.19 354.75,624.05 355,624 355.25,624.07 355.5,624.28 355.75,624.6 356,625 356.25,625.46 356.5,625.97 356.75,626.49 357,627 357.25,627.55 357.5,628.2 357.75,628.92 358,629.69 358.25,630.51 358.5,631.34 358.75,632.18 359,633 359.25,633.85 359.5,634.76 359.75,635.71 360,636.66 360.25,637.59 360.5,638.48 360.75,639.29 361,640 361.25,640.64 361.5,641.28 361.75,641.89 362,642.49 362.25,643.06 362.5,643.6 362.75,644.11 363,644.58 363.25,645.01 363.5,645.39 363.75,645.72 364,646 364.25,646.24 364.5,646.45 364.75,646.64 365,646.81 365.25,646.98 365.5,647.12 365.75,647.27 366,647.41 366.25,647.55" stroke="#3a9a4a" fill="none" stroke-width="0.7" stroke-linejoin="round"/>
<line x1="305.5" y1="604.3" x2="380.5" y2="604.3" stroke="#7a6a8a" stroke-width="0.9"/>
<line x1="305.5" y1="619.3" x2="380.5" y2="619.3" stroke="#d86a80" stroke-width="0.9"/>
<line x1="305.5" y1="634.3" x2="380.5" y2="634.3" stroke="#7a98b8" stroke-width="0.9"/>
<rect x="305.5" y="573.3" width="75" height="74.7" fill="none" stroke="#222" stroke-width="1"/>
<text x="342.5" y="570.8" font-size="9.2" stroke="#111" stroke-width="0.22" text-anchor="middle" fill="#111">Nalm6</text>
<line x1="306.1" y1="598" x2="306.1" y2="604" stroke="#6a4a98" stroke-width="1"/>
<line x1="306.1" y1="612" x2="306.1" y2="619" stroke="#d0506a" stroke-width="1"/>
<line x1="306" y1="648" x2="306" y2="646" stroke="#555" stroke-width="0.5"/>
<line x1="310.67" y1="648" x2="310.67" y2="646.9" stroke="#555" stroke-width="0.5"/>
<line x1="313.4" y1="648" x2="313.4" y2="646.9" stroke="#555" stroke-width="0.5"/>
<line x1="315.33" y1="648" x2="315.33" y2="646.9" stroke="#555" stroke-width="0.5"/>
<line x1="316.83" y1="648" x2="316.83" y2="646.9" stroke="#555" stroke-width="0.5"/>
<line x1="318.06" y1="648" x2="318.06" y2="646.9" stroke="#555" stroke-width="0.5"/>
<line x1="319.1" y1="648" x2="319.1" y2="646.9" stroke="#555" stroke-width="0.5"/>
<line x1="320" y1="648" x2="320" y2="646.9" stroke="#555" stroke-width="0.5"/>
<line x1="320.79" y1="648" x2="320.79" y2="646.9" stroke="#555" stroke-width="0.5"/>
<line x1="321.5" y1="648" x2="321.5" y2="646" stroke="#555" stroke-width="0.5"/>
<line x1="326.17" y1="648" x2="326.17" y2="646.9" stroke="#555" stroke-width="0.5"/>
<line x1="328.9" y1="648" x2="328.9" y2="646.9" stroke="#555" stroke-width="0.5"/>
<line x1="330.83" y1="648" x2="330.83" y2="646.9" stroke="#555" stroke-width="0.5"/>
<line x1="332.33" y1="648" x2="332.33" y2="646.9" stroke="#555" stroke-width="0.5"/>
<line x1="333.56" y1="648" x2="333.56" y2="646.9" stroke="#555" stroke-width="0.5"/>
<line x1="334.6" y1="648" x2="334.6" y2="646.9" stroke="#555" stroke-width="0.5"/>
<line x1="335.5" y1="648" x2="335.5" y2="646.9" stroke="#555" stroke-width="0.5"/>
<line x1="336.29" y1="648" x2="336.29" y2="646.9" stroke="#555" stroke-width="0.5"/>
<line x1="337" y1="648" x2="337" y2="646" stroke="#555" stroke-width="0.5"/>
<line x1="341.67" y1="648" x2="341.67" y2="646.9" stroke="#555" stroke-width="0.5"/>
<line x1="344.4" y1="648" x2="344.4" y2="646.9" stroke="#555" stroke-width="0.5"/>
<line x1="346.33" y1="648" x2="346.33" y2="646.9" stroke="#555" stroke-width="0.5"/>
<line x1="347.83" y1="648" x2="347.83" y2="646.9" stroke="#555" stroke-width="0.5"/>
<line x1="349.06" y1="648" x2="349.06" y2="646.9" stroke="#555" stroke-width="0.5"/>
<line x1="350.1" y1="648" x2="350.1" y2="646.9" stroke="#555" stroke-width="0.5"/>
<line x1="351" y1="648" x2="351" y2="646.9" stroke="#555" stroke-width="0.5"/>
<line x1="351.79" y1="648" x2="351.79" y2="646.9" stroke="#555" stroke-width="0.5"/>
<line x1="352.5" y1="648" x2="352.5" y2="646" stroke="#555" stroke-width="0.5"/>
<line x1="357.17" y1="648" x2="357.17" y2="646.9" stroke="#555" stroke-width="0.5"/>
<line x1="359.9" y1="648" x2="359.9" y2="646.9" stroke="#555" stroke-width="0.5"/>
<line x1="361.83" y1="648" x2="361.83" y2="646.9" stroke="#555" stroke-width="0.5"/>
<line x1="363.33" y1="648" x2="363.33" y2="646.9" stroke="#555" stroke-width="0.5"/>
<line x1="364.56" y1="648" x2="364.56" y2="646.9" stroke="#555" stroke-width="0.5"/>
<line x1="365.6" y1="648" x2="365.6" y2="646.9" stroke="#555" stroke-width="0.5"/>
<line x1="366.5" y1="648" x2="366.5" y2="646.9" stroke="#555" stroke-width="0.5"/>
<line x1="367.29" y1="648" x2="367.29" y2="646.9" stroke="#555" stroke-width="0.5"/>
<line x1="368" y1="648" x2="368" y2="646" stroke="#555" stroke-width="0.5"/>
<line x1="372.67" y1="648" x2="372.67" y2="646.9" stroke="#555" stroke-width="0.5"/>
<line x1="375.4" y1="648" x2="375.4" y2="646.9" stroke="#555" stroke-width="0.5"/>
<line x1="377.33" y1="648" x2="377.33" y2="646.9" stroke="#555" stroke-width="0.5"/>
<line x1="378.83" y1="648" x2="378.83" y2="646.9" stroke="#555" stroke-width="0.5"/>
<line x1="380.06" y1="648" x2="380.06" y2="646.9" stroke="#555" stroke-width="0.5"/>
<path d="M405 604.3 L405 604.3 L405.25 604.26 L405.5 604.22 L405.75 604.18 L406 604.13 L406.25 604.09 L406.5 604.05 L406.75 604.01 L407 603.96 L407.25 603.92 L407.5 603.88 L407.75 603.84 L408 603.79 L408.25 603.75 L408.5 603.7 L408.75 603.66 L409 603.61 L409.25 603.56 L409.5 603.51 L409.75 603.46 L410 603.41 L410.25 603.36 L410.5 603.3 L410.75 603.24 L411 603.18 L411.25 603.12 L411.5 603.06 L411.75 603 L412 602.93 L412.25 602.86 L412.5 602.79 L412.75 602.72 L413 602.64 L413.25 602.57 L413.5 602.48 L413.75 602.4 L414 602.31 L414.25 602.22 L414.5 602.12 L414.75 602.02 L415 601.91 L415.25 601.8 L415.5 601.68 L415.75 601.55 L416 601.42 L416.25 601.27 L416.5 601.12 L416.75 600.96 L417 600.78 L417.25 600.6 L417.5 600.41 L417.75 600.21 L418 600 L418.25 599.77 L418.5 599.52 L418.75 599.25 L419 598.95 L419.25 598.63 L419.5 598.28 L419.75 597.91 L420 597.52 L420.25 597.11 L420.5 596.67 L420.75 596.2 L421 595.67 L421.25 595.05 L421.5 594.36 L421.75 593.62 L422 592.85 L422.25 592.05 L422.5 591.25 L422.75 590.46 L423 589.65 L423.25 588.76 L423.5 587.82 L423.75 586.85 L424 585.9 L424.25 584.99 L424.5 584.15 L424.75 583.41 L425 582.8 L425.25 582.26 L425.5 581.73 L425.75 581.2 L426 580.7 L426.25 580.24 L426.5 579.83 L426.75 579.49 L427 579.23 L427.25 579.06 L427.5 579 L427.75 579.2 L428 579.74 L428.25 580.54 L428.5 581.53 L428.75 582.62 L429 583.74 L429.25 584.8 L429.5 585.84 L429.75 587.02 L430 588.28 L430.25 589.56 L430.5 590.8 L430.75 591.91 L431 592.86 L431.25 593.75 L431.5 594.61 L431.75 595.43 L432 596.2 L432.25 596.93 L432.5 597.61 L432.75 598.23 L433 598.79 L433.25 599.3 L433.5 599.79 L433.75 600.26 L434 600.71 L434.25 601.13 L434.5 601.54 L434.75 601.93 L435 602.29 L435.25 602.63 L435.5 602.95 L435.75 603.24 L436 603.51 L436.25 603.75 L436.5 603.96 L436.75 604.13 L437 604.3 L437 604.3 Z" stroke="none" fill="#8f6cb0" stroke-width="1"/>
<polyline points="407.25,603.92 407.5,603.88 407.75,603.84 408,603.79 408.25,603.75 408.5,603.7 408.75,603.66 409,603.61 409.25,603.56 409.5,603.51 409.75,603.46 410,603.41 410.25,603.36 410.5,603.3 410.75,603.24 411,603.18 411.25,603.12 411.5,603.06 411.75,603 412,602.93 412.25,602.86 412.5,602.79 412.75,602.72 413,602.64 413.25,602.57 413.5,602.48 413.75,602.4 414,602.31 414.25,602.22 414.5,602.12 414.75,602.02 415,601.91 415.25,601.8 415.5,601.68 415.75,601.55 416,601.42 416.25,601.27 416.5,601.12 416.75,600.96 417,600.78 417.25,600.6 417.5,600.41 417.75,600.21 418,600 418.25,599.77 418.5,599.52 418.75,599.25 419,598.95 419.25,598.63 419.5,598.28 419.75,597.91 420,597.52 420.25,597.11 420.5,596.67 420.75,596.2 421,595.67 421.25,595.05 421.5,594.36 421.75,593.62 422,592.85 422.25,592.05 422.5,591.25 422.75,590.46 423,589.65 423.25,588.76 423.5,587.82 423.75,586.85 424,585.9 424.25,584.99 424.5,584.15 424.75,583.41 425,582.8 425.25,582.26 425.5,581.73 425.75,581.2 426,580.7 426.25,580.24 426.5,579.83 426.75,579.49 427,579.23 427.25,579.06 427.5,579 427.75,579.2 428,579.74 428.25,580.54 428.5,581.53 428.75,582.62 429,583.74 429.25,584.8 429.5,585.84 429.75,587.02 430,588.28 430.25,589.56 430.5,590.8 430.75,591.91 431,592.86 431.25,593.75 431.5,594.61 431.75,595.43 432,596.2 432.25,596.93 432.5,597.61 432.75,598.23 433,598.79 433.25,599.3 433.5,599.79 433.75,600.26 434,600.71 434.25,601.13 434.5,601.54 434.75,601.93 435,602.29 435.25,602.63 435.5,602.95 435.75,603.24 436,603.51 436.25,603.75" stroke="#4c2a80" fill="none" stroke-width="0.7" stroke-linejoin="round"/>
<path d="M431.5 619.3 L431.5 619.3 L431.75 619.16 L432 619.02 L432.25 618.87 L432.5 618.7 L432.75 618.5 L433 618.29 L433.25 618.06 L433.5 617.81 L433.75 617.54 L434 617.25 L434.25 616.93 L434.5 616.6 L434.75 616.23 L435 615.84 L435.25 615.41 L435.5 614.9 L435.75 614.29 L436 613.59 L436.25 612.81 L436.5 611.98 L436.75 611.1 L437 610.19 L437.25 609.27 L437.5 608.35 L437.75 607.43 L438 606.54 L438.25 605.56 L438.5 604.51 L438.75 603.42 L439 602.32 L439.25 601.25 L439.5 600.25 L439.75 599.34 L440 598.57 L440.25 597.92 L440.5 597.28 L440.75 596.64 L441 596.03 L441.25 595.44 L441.5 594.9 L441.75 594.42 L442 594.02 L442.25 593.7 L442.5 593.49 L442.75 593.4 L443 593.47 L443.25 593.75 L443.5 594.2 L443.75 594.78 L444 595.48 L444.25 596.24 L444.5 597.04 L444.75 597.83 L445 598.62 L445.25 599.53 L445.5 600.59 L445.75 601.73 L446 602.94 L446.25 604.17 L446.5 605.39 L446.75 606.54 L447 607.61 L447.25 608.58 L447.5 609.56 L447.75 610.56 L448 611.55 L448.25 612.52 L448.5 613.44 L448.75 614.29 L449 615.06 L449.25 615.73 L449.5 616.27 L449.75 616.67 L450 617 L450.25 617.29 L450.5 617.56 L450.75 617.81 L451 618.03 L451.25 618.23 L451.5 618.42 L451.75 618.59 L452 618.75 L452.25 618.91 L452.5 619.06 L452.75 619.18 L453 619.3 L453 619.3 Z" stroke="none" fill="#e2637d" stroke-width="1"/>
<polyline points="432.25,618.87 432.5,618.7 432.75,618.5 433,618.29 433.25,618.06 433.5,617.81 433.75,617.54 434,617.25 434.25,616.93 434.5,616.6 434.75,616.23 435,615.84 435.25,615.41 435.5,614.9 435.75,614.29 436,613.59 436.25,612.81 436.5,611.98 436.75,611.1 437,610.19 437.25,609.27 437.5,608.35 437.75,607.43 438,606.54 438.25,605.56 438.5,604.51 438.75,603.42 439,602.32 439.25,601.25 439.5,600.25 439.75,599.34 440,598.57 440.25,597.92 440.5,597.28 440.75,596.64 441,596.03 441.25,595.44 441.5,594.9 441.75,594.42 442,594.02 442.25,593.7 442.5,593.49 442.75,593.4 443,593.47 443.25,593.75 443.5,594.2 443.75,594.78 444,595.48 444.25,596.24 444.5,597.04 444.75,597.83 445,598.62 445.25,599.53 445.5,600.59 445.75,601.73 446,602.94 446.25,604.17 446.5,605.39 446.75,606.54 447,607.61 447.25,608.58 447.5,609.56 447.75,610.56 448,611.55 448.25,612.52 448.5,613.44 448.75,614.29 449,615.06 449.25,615.73 449.5,616.27 449.75,616.67 450,617 450.25,617.29 450.5,617.56 450.75,617.81 451,618.03 451.25,618.23 451.5,618.42 451.75,618.59 452,618.75 452.25,618.91" stroke="#b0203c" fill="none" stroke-width="0.7" stroke-linejoin="round"/>
<path d="M431.5 634.3 L431.5 634.3 L431.75 634.18 L432 634.07 L432.25 633.95 L432.5 633.8 L432.75 633.63 L433 633.44 L433.25 633.22 L433.5 632.99 L433.75 632.73 L434 632.46 L434.25 632.16 L434.5 631.83 L434.75 631.49 L435 631.12 L435.25 630.72 L435.5 630.24 L435.75 629.68 L436 629.03 L436.25 628.32 L436.5 627.55 L436.75 626.74 L437 625.9 L437.25 625.04 L437.5 624.17 L437.75 623.31 L438 622.45 L438.25 621.51 L438.5 620.49 L438.75 619.42 L439 618.34 L439.25 617.28 L439.5 616.28 L439.75 615.37 L440 614.57 L440.25 613.9 L440.5 613.23 L440.75 612.56 L441 611.9 L441.25 611.26 L441.5 610.67 L441.75 610.12 L442 609.65 L442.25 609.25 L442.5 608.96 L442.75 608.77 L443 608.7 L443.25 608.82 L443.5 609.16 L443.75 609.68 L444 610.34 L444.25 611.1 L444.5 611.94 L444.75 612.8 L445 613.65 L445.25 614.46 L445.5 615.34 L445.75 616.32 L446 617.39 L446.25 618.5 L446.5 619.64 L446.75 620.77 L447 621.85 L447.25 622.88 L447.5 623.8 L447.75 624.68 L448 625.57 L448.25 626.46 L448.5 627.34 L448.75 628.19 L449 628.99 L449.25 629.74 L449.5 630.41 L449.75 631 L450 631.49 L450.25 631.87 L450.5 632.18 L450.75 632.48 L451 632.74 L451.25 632.99 L451.5 633.21 L451.75 633.41 L452 633.59 L452.25 633.75 L452.5 633.9 L452.75 634.02 L453 634.13 L453.25 634.21 L453.5 634.3 L453.5 634.3 Z" stroke="none" fill="#5f89b6" stroke-width="1"/>
<polyline points="432.25,633.95 432.5,633.8 432.75,633.63 433,633.44 433.25,633.22 433.5,632.99 433.75,632.73 434,632.46 434.25,632.16 434.5,631.83 434.75,631.49 435,631.12 435.25,630.72 435.5,630.24 435.75,629.68 436,629.03 436.25,628.32 436.5,627.55 436.75,626.74 437,625.9 437.25,625.04 437.5,624.17 437.75,623.31 438,622.45 438.25,621.51 438.5,620.49 438.75,619.42 439,618.34 439.25,617.28 439.5,616.28 439.75,615.37 440,614.57 440.25,613.9 440.5,613.23 440.75,612.56 441,611.9 441.25,611.26 441.5,610.67 441.75,610.12 442,609.65 442.25,609.25 442.5,608.96 442.75,608.77 443,608.7 443.25,608.82 443.5,609.16 443.75,609.68 444,610.34 444.25,611.1 444.5,611.94 444.75,612.8 445,613.65 445.25,614.46 445.5,615.34 445.75,616.32 446,617.39 446.25,618.5 446.5,619.64 446.75,620.77 447,621.85 447.25,622.88 447.5,623.8 447.75,624.68 448,625.57 448.25,626.46 448.5,627.34 448.75,628.19 449,628.99 449.25,629.74 449.5,630.41 449.75,631 450,631.49 450.25,631.87 450.5,632.18 450.75,632.48 451,632.74 451.25,632.99 451.5,633.21 451.75,633.41 452,633.59 452.25,633.75 452.5,633.9" stroke="#1d4f7e" fill="none" stroke-width="0.7" stroke-linejoin="round"/>
<path d="M432.5 648.5 L432.5 648.5 L432.75 648.42 L433 648.34 L433.25 648.27 L433.5 648.18 L433.75 648.08 L434 647.94 L434.25 647.75 L434.5 647.5 L434.75 647.2 L435 646.85 L435.25 646.47 L435.5 646.04 L435.75 645.59 L436 645.1 L436.25 644.6 L436.5 644.04 L436.75 643.36 L437 642.58 L437.25 641.71 L437.5 640.79 L437.75 639.83 L438 638.86 L438.25 637.91 L438.5 637 L438.75 636.08 L439 635.12 L439.25 634.13 L439.5 633.13 L439.75 632.14 L440 631.18 L440.25 630.26 L440.5 629.41 L440.75 628.64 L441 627.92 L441.25 627.17 L441.5 626.41 L441.75 625.67 L442 624.96 L442.25 624.32 L442.5 623.77 L442.75 623.33 L443 623.03 L443.25 622.9 L443.5 622.97 L443.75 623.22 L444 623.64 L444.25 624.2 L444.5 624.87 L444.75 625.61 L445 626.41 L445.25 627.24 L445.5 628.06 L445.75 628.85 L446 629.64 L446.25 630.53 L446.5 631.5 L446.75 632.52 L447 633.57 L447.25 634.61 L447.5 635.64 L447.75 636.61 L448 637.5 L448.25 638.35 L448.5 639.21 L448.75 640.06 L449 640.89 L449.25 641.7 L449.5 642.47 L449.75 643.2 L450 643.87 L450.25 644.47 L450.5 645 L450.75 645.48 L451 645.95 L451.25 646.4 L451.5 646.83 L451.75 647.21 L452 647.55 L452.25 647.84 L452.5 648.07 L452.75 648.23 L453 648.33 L453.25 648.42 L453.5 648.5 L453.5 648.5 Z" stroke="none" fill="#8ed894" stroke-width="1"/>
<polyline points="433.75,648.08 434,647.94 434.25,647.75 434.5,647.5 434.75,647.2 435,646.85 435.25,646.47 435.5,646.04 435.75,645.59 436,645.1 436.25,644.6 436.5,644.04 436.75,643.36 437,642.58 437.25,641.71 437.5,640.79 437.75,639.83 438,638.86 438.25,637.91 438.5,637 438.75,636.08 439,635.12 439.25,634.13 439.5,633.13 439.75,632.14 440,631.18 440.25,630.26 440.5,629.41 440.75,628.64 441,627.92 441.25,627.17 441.5,626.41 441.75,625.67 442,624.96 442.25,624.32 442.5,623.77 442.75,623.33 443,623.03 443.25,622.9 443.5,622.97 443.75,623.22 444,623.64 444.25,624.2 444.5,624.87 444.75,625.61 445,626.41 445.25,627.24 445.5,628.06 445.75,628.85 446,629.64 446.25,630.53 446.5,631.5 446.75,632.52 447,633.57 447.25,634.61 447.5,635.64 447.75,636.61 448,637.5 448.25,638.35 448.5,639.21 448.75,640.06 449,640.89 449.25,641.7 449.5,642.47 449.75,643.2 450,643.87 450.25,644.47 450.5,645 450.75,645.48 451,645.95 451.25,646.4 451.5,646.83 451.75,647.21 452,647.55 452.25,647.84 452.5,648.07" stroke="#3a9a4a" fill="none" stroke-width="0.7" stroke-linejoin="round"/>
<line x1="390.8" y1="604.3" x2="465.6" y2="604.3" stroke="#7a6a8a" stroke-width="0.9"/>
<line x1="390.8" y1="619.3" x2="465.6" y2="619.3" stroke="#d86a80" stroke-width="0.9"/>
<line x1="390.8" y1="634.3" x2="465.6" y2="634.3" stroke="#7a98b8" stroke-width="0.9"/>
<rect x="390.8" y="573.3" width="74.8" height="75.2" fill="none" stroke="#222" stroke-width="1"/>
<text x="428" y="570.8" font-size="9.2" stroke="#111" stroke-width="0.22" text-anchor="middle" fill="#111">Raji</text>
<line x1="391" y1="648.5" x2="391" y2="646.5" stroke="#555" stroke-width="0.5"/>
<line x1="395.06" y1="648.5" x2="395.06" y2="647.4" stroke="#555" stroke-width="0.5"/>
<line x1="397.44" y1="648.5" x2="397.44" y2="647.4" stroke="#555" stroke-width="0.5"/>
<line x1="399.13" y1="648.5" x2="399.13" y2="647.4" stroke="#555" stroke-width="0.5"/>
<line x1="400.44" y1="648.5" x2="400.44" y2="647.4" stroke="#555" stroke-width="0.5"/>
<line x1="401.51" y1="648.5" x2="401.51" y2="647.4" stroke="#555" stroke-width="0.5"/>
<line x1="402.41" y1="648.5" x2="402.41" y2="647.4" stroke="#555" stroke-width="0.5"/>
<line x1="403.19" y1="648.5" x2="403.19" y2="647.4" stroke="#555" stroke-width="0.5"/>
<line x1="403.88" y1="648.5" x2="403.88" y2="647.4" stroke="#555" stroke-width="0.5"/>
<line x1="404.5" y1="648.5" x2="404.5" y2="646.5" stroke="#555" stroke-width="0.5"/>
<line x1="408.56" y1="648.5" x2="408.56" y2="647.4" stroke="#555" stroke-width="0.5"/>
<line x1="410.94" y1="648.5" x2="410.94" y2="647.4" stroke="#555" stroke-width="0.5"/>
<line x1="412.63" y1="648.5" x2="412.63" y2="647.4" stroke="#555" stroke-width="0.5"/>
<line x1="413.94" y1="648.5" x2="413.94" y2="647.4" stroke="#555" stroke-width="0.5"/>
<line x1="415.01" y1="648.5" x2="415.01" y2="647.4" stroke="#555" stroke-width="0.5"/>
<line x1="415.91" y1="648.5" x2="415.91" y2="647.4" stroke="#555" stroke-width="0.5"/>
<line x1="416.69" y1="648.5" x2="416.69" y2="647.4" stroke="#555" stroke-width="0.5"/>
<line x1="417.38" y1="648.5" x2="417.38" y2="647.4" stroke="#555" stroke-width="0.5"/>
<line x1="418" y1="648.5" x2="418" y2="646.5" stroke="#555" stroke-width="0.5"/>
<line x1="422.06" y1="648.5" x2="422.06" y2="647.4" stroke="#555" stroke-width="0.5"/>
<line x1="424.44" y1="648.5" x2="424.44" y2="647.4" stroke="#555" stroke-width="0.5"/>
<line x1="426.13" y1="648.5" x2="426.13" y2="647.4" stroke="#555" stroke-width="0.5"/>
<line x1="427.44" y1="648.5" x2="427.44" y2="647.4" stroke="#555" stroke-width="0.5"/>
<line x1="428.51" y1="648.5" x2="428.51" y2="647.4" stroke="#555" stroke-width="0.5"/>
<line x1="429.41" y1="648.5" x2="429.41" y2="647.4" stroke="#555" stroke-width="0.5"/>
<line x1="430.19" y1="648.5" x2="430.19" y2="647.4" stroke="#555" stroke-width="0.5"/>
<line x1="430.88" y1="648.5" x2="430.88" y2="647.4" stroke="#555" stroke-width="0.5"/>
<line x1="431.5" y1="648.5" x2="431.5" y2="646.5" stroke="#555" stroke-width="0.5"/>
<line x1="435.56" y1="648.5" x2="435.56" y2="647.4" stroke="#555" stroke-width="0.5"/>
<line x1="437.94" y1="648.5" x2="437.94" y2="647.4" stroke="#555" stroke-width="0.5"/>
<line x1="439.63" y1="648.5" x2="439.63" y2="647.4" stroke="#555" stroke-width="0.5"/>
<line x1="440.94" y1="648.5" x2="440.94" y2="647.4" stroke="#555" stroke-width="0.5"/>
<line x1="442.01" y1="648.5" x2="442.01" y2="647.4" stroke="#555" stroke-width="0.5"/>
<line x1="442.91" y1="648.5" x2="442.91" y2="647.4" stroke="#555" stroke-width="0.5"/>
<line x1="443.69" y1="648.5" x2="443.69" y2="647.4" stroke="#555" stroke-width="0.5"/>
<line x1="444.38" y1="648.5" x2="444.38" y2="647.4" stroke="#555" stroke-width="0.5"/>
<line x1="445" y1="648.5" x2="445" y2="646.5" stroke="#555" stroke-width="0.5"/>
<line x1="449.06" y1="648.5" x2="449.06" y2="647.4" stroke="#555" stroke-width="0.5"/>
<line x1="451.44" y1="648.5" x2="451.44" y2="647.4" stroke="#555" stroke-width="0.5"/>
<line x1="453.13" y1="648.5" x2="453.13" y2="647.4" stroke="#555" stroke-width="0.5"/>
<line x1="454.44" y1="648.5" x2="454.44" y2="647.4" stroke="#555" stroke-width="0.5"/>
<line x1="455.51" y1="648.5" x2="455.51" y2="647.4" stroke="#555" stroke-width="0.5"/>
<line x1="456.41" y1="648.5" x2="456.41" y2="647.4" stroke="#555" stroke-width="0.5"/>
<line x1="457.19" y1="648.5" x2="457.19" y2="647.4" stroke="#555" stroke-width="0.5"/>
<line x1="457.88" y1="648.5" x2="457.88" y2="647.4" stroke="#555" stroke-width="0.5"/>
<line x1="458.5" y1="648.5" x2="458.5" y2="646.5" stroke="#555" stroke-width="0.5"/>
<line x1="462.56" y1="648.5" x2="462.56" y2="647.4" stroke="#555" stroke-width="0.5"/>
<line x1="464.94" y1="648.5" x2="464.94" y2="647.4" stroke="#555" stroke-width="0.5"/>
<text x="300" y="660.6" font-size="7" stroke="#1a1a1a" stroke-width="0.25" fill="#1a1a1a" textLength="8.05" lengthAdjust="spacingAndGlyphs">10</text>
<text x="308.35" y="657.31" font-size="4.7" stroke="#1a1a1a" stroke-width="0.15" fill="#1a1a1a">0</text>
<text x="315.5" y="660.6" font-size="7" stroke="#1a1a1a" stroke-width="0.25" fill="#1a1a1a" textLength="8.05" lengthAdjust="spacingAndGlyphs">10</text>
<text x="323.85" y="657.31" font-size="4.7" stroke="#1a1a1a" stroke-width="0.15" fill="#1a1a1a">1</text>
<text x="331" y="660.6" font-size="7" stroke="#1a1a1a" stroke-width="0.25" fill="#1a1a1a" textLength="8.05" lengthAdjust="spacingAndGlyphs">10</text>
<text x="339.35" y="657.31" font-size="4.7" stroke="#1a1a1a" stroke-width="0.15" fill="#1a1a1a">2</text>
<text x="346.5" y="660.6" font-size="7" stroke="#1a1a1a" stroke-width="0.25" fill="#1a1a1a" textLength="8.05" lengthAdjust="spacingAndGlyphs">10</text>
<text x="354.85" y="657.31" font-size="4.7" stroke="#1a1a1a" stroke-width="0.15" fill="#1a1a1a">3</text>
<text x="362" y="660.6" font-size="7" stroke="#1a1a1a" stroke-width="0.25" fill="#1a1a1a" textLength="8.05" lengthAdjust="spacingAndGlyphs">10</text>
<text x="370.35" y="657.31" font-size="4.7" stroke="#1a1a1a" stroke-width="0.15" fill="#1a1a1a">4</text>
<text x="386" y="660.6" font-size="7" stroke="#1a1a1a" stroke-width="0.25" fill="#1a1a1a" textLength="8.05" lengthAdjust="spacingAndGlyphs">10</text>
<text x="394.35" y="657.31" font-size="4.7" stroke="#1a1a1a" stroke-width="0.15" fill="#1a1a1a">0</text>
<text x="399.45" y="660.6" font-size="7" stroke="#1a1a1a" stroke-width="0.25" fill="#1a1a1a" textLength="8.05" lengthAdjust="spacingAndGlyphs">10</text>
<text x="407.8" y="657.31" font-size="4.7" stroke="#1a1a1a" stroke-width="0.15" fill="#1a1a1a">1</text>
<text x="412.9" y="660.6" font-size="7" stroke="#1a1a1a" stroke-width="0.25" fill="#1a1a1a" textLength="8.05" lengthAdjust="spacingAndGlyphs">10</text>
<text x="421.25" y="657.31" font-size="4.7" stroke="#1a1a1a" stroke-width="0.15" fill="#1a1a1a">2</text>
<text x="426.35" y="660.6" font-size="7" stroke="#1a1a1a" stroke-width="0.25" fill="#1a1a1a" textLength="8.05" lengthAdjust="spacingAndGlyphs">10</text>
<text x="434.7" y="657.31" font-size="4.7" stroke="#1a1a1a" stroke-width="0.15" fill="#1a1a1a">3</text>
<text x="439.8" y="660.6" font-size="7" stroke="#1a1a1a" stroke-width="0.25" fill="#1a1a1a" textLength="8.05" lengthAdjust="spacingAndGlyphs">10</text>
<text x="448.15" y="657.31" font-size="4.7" stroke="#1a1a1a" stroke-width="0.15" fill="#1a1a1a">4</text>
<text x="453.25" y="660.6" font-size="7" stroke="#1a1a1a" stroke-width="0.25" fill="#1a1a1a" textLength="8.05" lengthAdjust="spacingAndGlyphs">10</text>
<text x="461.6" y="657.31" font-size="4.7" stroke="#1a1a1a" stroke-width="0.15" fill="#1a1a1a">5</text>
<text x="305.3" y="673.6" font-size="9" stroke="#111" stroke-width="0.1" font-weight="bold" fill="#111" textLength="15.6" lengthAdjust="spacingAndGlyphs">CD20</text>
<line x1="323.5" y1="670.3" x2="454" y2="670.3" stroke="#222" stroke-width="0.9"/>
<path d="M458.3 670.3 L453.7 668.1 L453.7 672.5 Z" stroke="none" fill="#222" stroke-width="1"/>
<text x="468.9" y="614.3" font-size="7" stroke="#222" stroke-width="0.08">WT</text>
<text x="468.9" y="628.8" font-size="7" stroke="#222" stroke-width="0.08">sgCD58-1</text>
<text x="468.9" y="644.5" font-size="7" stroke="#222" stroke-width="0.08">sgCD58-2</text>
</svg>
</body></html>
